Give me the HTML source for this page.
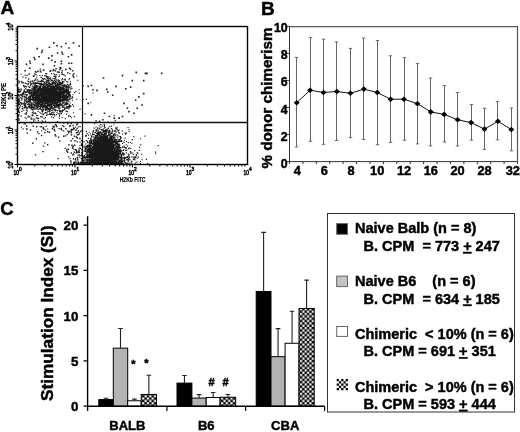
<!DOCTYPE html>
<html><head><meta charset="utf-8"><style>
html,body{margin:0;padding:0;background:#fff;width:520px;height:432px;overflow:hidden}
svg{display:block;will-change:transform}
text{stroke:#000;stroke-width:0.45px}
</style></head><body>
<svg width="520" height="432" viewBox="0 0 520 432">
<path d="M45.2 97.8h1.15v1.15h-1.15zM45.6 91.5h1.15v1.15h-1.15zM36.8 92.3h1.15v1.15h-1.15zM62.3 97.1h1.15v1.15h-1.15zM61.4 95.8h1.15v1.15h-1.15zM53.3 95.3h1.15v1.15h-1.15zM27.6 100.4h1.15v1.15h-1.15zM54.7 97.7h1.15v1.15h-1.15zM27.3 80.6h1.15v1.15h-1.15zM37.3 90.3h1.15v1.15h-1.15zM52.2 93.6h1.15v1.15h-1.15zM54.9 89.0h1.15v1.15h-1.15zM52.3 96.9h1.15v1.15h-1.15zM40.1 107.0h1.15v1.15h-1.15zM55.4 103.0h1.15v1.15h-1.15zM40.6 88.3h1.15v1.15h-1.15zM44.1 93.1h1.15v1.15h-1.15zM56.3 95.8h1.15v1.15h-1.15zM42.8 86.6h1.15v1.15h-1.15zM41.9 103.2h1.15v1.15h-1.15zM38.3 95.8h1.15v1.15h-1.15zM53.7 82.6h1.15v1.15h-1.15zM49.0 103.8h1.15v1.15h-1.15zM23.2 91.5h1.15v1.15h-1.15zM47.1 87.7h1.15v1.15h-1.15zM54.6 93.4h1.15v1.15h-1.15zM30.1 100.2h1.15v1.15h-1.15zM56.8 101.1h1.15v1.15h-1.15zM66.4 96.7h1.15v1.15h-1.15zM49.9 84.0h1.15v1.15h-1.15zM56.1 89.3h1.15v1.15h-1.15zM42.7 84.3h1.15v1.15h-1.15zM36.3 89.9h1.15v1.15h-1.15zM64.5 78.5h1.15v1.15h-1.15zM30.2 95.7h1.15v1.15h-1.15zM66.4 98.3h1.15v1.15h-1.15zM24.7 74.8h1.15v1.15h-1.15zM52.9 88.3h1.15v1.15h-1.15zM34.4 101.3h1.15v1.15h-1.15zM62.2 95.1h1.15v1.15h-1.15zM51.5 97.2h1.15v1.15h-1.15zM68.3 98.6h1.15v1.15h-1.15zM54.9 98.1h1.15v1.15h-1.15zM28.8 103.6h1.15v1.15h-1.15zM60.3 97.9h1.15v1.15h-1.15zM23.7 89.1h1.15v1.15h-1.15zM58.9 80.1h1.15v1.15h-1.15zM46.1 101.6h1.15v1.15h-1.15zM32.0 106.1h1.15v1.15h-1.15zM55.3 92.8h1.15v1.15h-1.15zM52.5 98.8h1.15v1.15h-1.15zM49.9 102.6h1.15v1.15h-1.15zM40.1 90.7h1.15v1.15h-1.15zM61.4 94.1h1.15v1.15h-1.15zM37.4 101.1h1.15v1.15h-1.15zM66.7 90.5h1.15v1.15h-1.15zM31.2 92.9h1.15v1.15h-1.15zM46.5 91.6h1.15v1.15h-1.15zM66.0 86.1h1.15v1.15h-1.15zM64.2 84.3h1.15v1.15h-1.15zM38.6 98.7h1.15v1.15h-1.15zM62.5 100.4h1.15v1.15h-1.15zM52.7 95.0h1.15v1.15h-1.15zM50.3 98.3h1.15v1.15h-1.15zM46.2 96.0h1.15v1.15h-1.15zM55.6 93.9h1.15v1.15h-1.15zM57.9 98.2h1.15v1.15h-1.15zM54.1 98.6h1.15v1.15h-1.15zM41.6 99.8h1.15v1.15h-1.15zM65.8 104.2h1.15v1.15h-1.15zM62.4 93.5h1.15v1.15h-1.15zM43.1 94.2h1.15v1.15h-1.15zM57.6 98.1h1.15v1.15h-1.15zM46.2 108.1h1.15v1.15h-1.15zM49.8 95.3h1.15v1.15h-1.15zM63.0 91.1h1.15v1.15h-1.15zM57.9 101.5h1.15v1.15h-1.15zM63.5 95.5h1.15v1.15h-1.15zM47.6 101.1h1.15v1.15h-1.15zM59.1 105.2h1.15v1.15h-1.15zM27.1 91.2h1.15v1.15h-1.15zM44.1 98.6h1.15v1.15h-1.15zM62.0 73.5h1.15v1.15h-1.15zM62.0 82.9h1.15v1.15h-1.15zM56.9 82.6h1.15v1.15h-1.15zM50.6 103.0h1.15v1.15h-1.15zM46.5 95.4h1.15v1.15h-1.15zM58.4 95.0h1.15v1.15h-1.15zM47.3 105.6h1.15v1.15h-1.15zM61.5 91.7h1.15v1.15h-1.15zM82.7 85.2h1.15v1.15h-1.15zM42.6 97.9h1.15v1.15h-1.15zM49.6 98.9h1.15v1.15h-1.15zM53.3 104.1h1.15v1.15h-1.15zM67.8 85.4h1.15v1.15h-1.15zM30.4 95.3h1.15v1.15h-1.15zM50.0 90.9h1.15v1.15h-1.15zM33.8 79.8h1.15v1.15h-1.15zM52.6 81.5h1.15v1.15h-1.15zM40.6 94.6h1.15v1.15h-1.15zM51.1 87.3h1.15v1.15h-1.15zM58.9 74.6h1.15v1.15h-1.15zM38.4 98.6h1.15v1.15h-1.15zM67.4 89.9h1.15v1.15h-1.15zM51.5 97.4h1.15v1.15h-1.15zM64.2 107.3h1.15v1.15h-1.15zM50.8 89.9h1.15v1.15h-1.15zM64.6 75.0h1.15v1.15h-1.15zM42.0 88.0h1.15v1.15h-1.15zM42.1 92.7h1.15v1.15h-1.15zM19.7 91.0h1.15v1.15h-1.15zM25.2 100.1h1.15v1.15h-1.15zM52.4 89.3h1.15v1.15h-1.15zM48.3 100.2h1.15v1.15h-1.15zM49.4 104.0h1.15v1.15h-1.15zM47.6 101.8h1.15v1.15h-1.15zM67.0 106.1h1.15v1.15h-1.15zM40.0 100.6h1.15v1.15h-1.15zM25.0 85.7h1.15v1.15h-1.15zM23.9 102.0h1.15v1.15h-1.15zM33.0 93.8h1.15v1.15h-1.15zM46.0 93.7h1.15v1.15h-1.15zM41.0 95.7h1.15v1.15h-1.15zM28.6 95.9h1.15v1.15h-1.15zM38.0 91.6h1.15v1.15h-1.15zM32.6 92.8h1.15v1.15h-1.15zM49.7 90.4h1.15v1.15h-1.15zM39.6 91.8h1.15v1.15h-1.15zM44.8 106.8h1.15v1.15h-1.15zM32.4 93.4h1.15v1.15h-1.15zM50.1 77.2h1.15v1.15h-1.15zM32.3 97.6h1.15v1.15h-1.15zM33.4 93.6h1.15v1.15h-1.15zM43.6 86.1h1.15v1.15h-1.15zM34.5 92.1h1.15v1.15h-1.15zM66.5 89.7h1.15v1.15h-1.15zM69.7 81.2h1.15v1.15h-1.15zM47.4 103.6h1.15v1.15h-1.15zM58.1 99.6h1.15v1.15h-1.15zM56.7 96.4h1.15v1.15h-1.15zM65.1 98.9h1.15v1.15h-1.15zM54.0 78.1h1.15v1.15h-1.15zM59.6 103.9h1.15v1.15h-1.15zM44.7 90.3h1.15v1.15h-1.15zM60.4 91.6h1.15v1.15h-1.15zM18.4 95.7h1.15v1.15h-1.15zM55.4 100.8h1.15v1.15h-1.15zM37.1 93.2h1.15v1.15h-1.15zM52.1 100.2h1.15v1.15h-1.15zM48.0 92.4h1.15v1.15h-1.15zM35.7 91.2h1.15v1.15h-1.15zM59.5 94.7h1.15v1.15h-1.15zM37.7 87.5h1.15v1.15h-1.15zM54.2 93.3h1.15v1.15h-1.15zM48.1 96.0h1.15v1.15h-1.15zM50.2 88.0h1.15v1.15h-1.15zM57.4 99.7h1.15v1.15h-1.15zM68.0 86.5h1.15v1.15h-1.15zM48.0 98.2h1.15v1.15h-1.15zM62.6 89.1h1.15v1.15h-1.15zM46.7 90.8h1.15v1.15h-1.15zM66.3 98.0h1.15v1.15h-1.15zM44.1 95.2h1.15v1.15h-1.15zM64.8 89.8h1.15v1.15h-1.15zM50.1 90.9h1.15v1.15h-1.15zM51.3 91.7h1.15v1.15h-1.15zM57.3 87.6h1.15v1.15h-1.15zM40.0 102.1h1.15v1.15h-1.15zM57.2 91.2h1.15v1.15h-1.15zM58.9 100.6h1.15v1.15h-1.15zM48.8 97.5h1.15v1.15h-1.15zM50.5 96.0h1.15v1.15h-1.15zM51.6 100.2h1.15v1.15h-1.15zM41.3 106.0h1.15v1.15h-1.15zM44.7 102.6h1.15v1.15h-1.15zM53.5 100.2h1.15v1.15h-1.15zM57.8 94.6h1.15v1.15h-1.15zM68.6 95.1h1.15v1.15h-1.15zM40.7 92.3h1.15v1.15h-1.15zM19.6 96.7h1.15v1.15h-1.15zM66.5 102.6h1.15v1.15h-1.15zM35.1 97.6h1.15v1.15h-1.15zM54.7 87.4h1.15v1.15h-1.15zM29.3 93.4h1.15v1.15h-1.15zM59.8 93.1h1.15v1.15h-1.15zM58.1 83.6h1.15v1.15h-1.15zM40.0 88.1h1.15v1.15h-1.15zM46.0 96.0h1.15v1.15h-1.15zM51.7 96.0h1.15v1.15h-1.15zM47.9 88.1h1.15v1.15h-1.15zM51.1 96.6h1.15v1.15h-1.15zM62.1 81.0h1.15v1.15h-1.15zM43.5 88.5h1.15v1.15h-1.15zM48.9 100.2h1.15v1.15h-1.15zM41.3 95.0h1.15v1.15h-1.15zM39.2 95.9h1.15v1.15h-1.15zM49.5 113.6h1.15v1.15h-1.15zM44.1 100.5h1.15v1.15h-1.15zM60.7 94.0h1.15v1.15h-1.15zM33.8 95.3h1.15v1.15h-1.15zM52.9 102.5h1.15v1.15h-1.15zM58.2 94.1h1.15v1.15h-1.15zM59.1 98.0h1.15v1.15h-1.15zM51.0 94.3h1.15v1.15h-1.15zM45.4 99.1h1.15v1.15h-1.15zM35.2 89.1h1.15v1.15h-1.15zM48.5 82.8h1.15v1.15h-1.15zM43.0 78.6h1.15v1.15h-1.15zM39.9 98.2h1.15v1.15h-1.15zM55.5 93.5h1.15v1.15h-1.15zM45.5 83.1h1.15v1.15h-1.15zM71.2 97.8h1.15v1.15h-1.15zM34.2 85.0h1.15v1.15h-1.15zM51.0 90.1h1.15v1.15h-1.15zM33.8 92.6h1.15v1.15h-1.15zM59.9 82.1h1.15v1.15h-1.15zM56.0 85.0h1.15v1.15h-1.15zM63.2 86.7h1.15v1.15h-1.15zM45.2 88.8h1.15v1.15h-1.15zM55.0 94.7h1.15v1.15h-1.15zM44.6 96.6h1.15v1.15h-1.15zM56.6 85.6h1.15v1.15h-1.15zM36.2 86.2h1.15v1.15h-1.15zM42.3 85.9h1.15v1.15h-1.15zM32.9 93.7h1.15v1.15h-1.15zM45.9 91.5h1.15v1.15h-1.15zM47.6 88.1h1.15v1.15h-1.15zM57.2 96.6h1.15v1.15h-1.15zM47.3 88.8h1.15v1.15h-1.15zM46.2 73.2h1.15v1.15h-1.15zM36.1 94.2h1.15v1.15h-1.15zM29.6 95.4h1.15v1.15h-1.15zM50.2 83.4h1.15v1.15h-1.15zM45.3 91.5h1.15v1.15h-1.15zM54.1 98.6h1.15v1.15h-1.15zM47.9 87.4h1.15v1.15h-1.15zM46.6 93.4h1.15v1.15h-1.15zM57.6 96.1h1.15v1.15h-1.15zM39.4 83.6h1.15v1.15h-1.15zM43.7 88.3h1.15v1.15h-1.15zM34.5 93.0h1.15v1.15h-1.15zM42.3 94.7h1.15v1.15h-1.15zM54.9 90.8h1.15v1.15h-1.15zM26.0 97.5h1.15v1.15h-1.15zM61.8 92.2h1.15v1.15h-1.15zM47.4 99.1h1.15v1.15h-1.15zM56.5 92.1h1.15v1.15h-1.15zM42.4 91.8h1.15v1.15h-1.15zM17.9 91.1h1.15v1.15h-1.15zM64.0 104.3h1.15v1.15h-1.15zM22.3 93.0h1.15v1.15h-1.15zM45.8 88.6h1.15v1.15h-1.15zM59.9 88.6h1.15v1.15h-1.15zM49.4 94.0h1.15v1.15h-1.15zM34.7 94.3h1.15v1.15h-1.15zM46.2 97.9h1.15v1.15h-1.15zM42.3 99.4h1.15v1.15h-1.15zM48.8 93.5h1.15v1.15h-1.15zM48.5 79.4h1.15v1.15h-1.15zM69.2 105.8h1.15v1.15h-1.15zM42.2 78.0h1.15v1.15h-1.15zM45.4 101.0h1.15v1.15h-1.15zM18.2 111.3h1.15v1.15h-1.15zM39.9 100.1h1.15v1.15h-1.15zM47.8 96.3h1.15v1.15h-1.15zM67.4 102.5h1.15v1.15h-1.15zM41.9 111.3h1.15v1.15h-1.15zM48.4 99.9h1.15v1.15h-1.15zM40.3 93.6h1.15v1.15h-1.15zM26.5 107.5h1.15v1.15h-1.15zM65.5 84.7h1.15v1.15h-1.15zM29.6 81.6h1.15v1.15h-1.15zM63.1 90.4h1.15v1.15h-1.15zM47.6 91.5h1.15v1.15h-1.15zM46.9 85.6h1.15v1.15h-1.15zM48.7 83.0h1.15v1.15h-1.15zM47.5 96.2h1.15v1.15h-1.15zM54.2 92.1h1.15v1.15h-1.15zM37.1 95.1h1.15v1.15h-1.15zM42.3 105.8h1.15v1.15h-1.15zM58.0 93.0h1.15v1.15h-1.15zM42.5 88.6h1.15v1.15h-1.15zM36.7 91.2h1.15v1.15h-1.15zM52.1 97.8h1.15v1.15h-1.15zM55.5 109.8h1.15v1.15h-1.15zM39.6 94.0h1.15v1.15h-1.15zM53.6 97.7h1.15v1.15h-1.15zM58.0 97.7h1.15v1.15h-1.15zM56.2 96.9h1.15v1.15h-1.15zM47.5 103.8h1.15v1.15h-1.15zM64.2 85.7h1.15v1.15h-1.15zM37.4 98.0h1.15v1.15h-1.15zM36.4 92.8h1.15v1.15h-1.15zM46.0 96.2h1.15v1.15h-1.15zM42.8 113.5h1.15v1.15h-1.15zM58.8 100.3h1.15v1.15h-1.15zM31.3 82.9h1.15v1.15h-1.15zM50.5 99.8h1.15v1.15h-1.15zM48.5 101.6h1.15v1.15h-1.15zM19.2 100.2h1.15v1.15h-1.15zM63.2 81.3h1.15v1.15h-1.15zM51.6 94.2h1.15v1.15h-1.15zM41.7 78.3h1.15v1.15h-1.15zM32.0 95.6h1.15v1.15h-1.15zM60.9 93.9h1.15v1.15h-1.15zM69.3 87.6h1.15v1.15h-1.15zM69.0 77.9h1.15v1.15h-1.15zM48.5 97.6h1.15v1.15h-1.15zM57.0 101.5h1.15v1.15h-1.15zM36.1 77.4h1.15v1.15h-1.15zM45.2 83.1h1.15v1.15h-1.15zM49.7 85.5h1.15v1.15h-1.15zM45.0 93.2h1.15v1.15h-1.15zM50.2 88.5h1.15v1.15h-1.15zM64.2 88.6h1.15v1.15h-1.15zM46.2 97.7h1.15v1.15h-1.15zM48.2 104.7h1.15v1.15h-1.15zM46.5 90.4h1.15v1.15h-1.15zM62.2 97.9h1.15v1.15h-1.15zM37.7 90.2h1.15v1.15h-1.15zM51.2 104.1h1.15v1.15h-1.15zM59.0 94.3h1.15v1.15h-1.15zM17.8 98.6h1.15v1.15h-1.15zM32.5 81.5h1.15v1.15h-1.15zM39.4 94.8h1.15v1.15h-1.15zM49.0 113.2h1.15v1.15h-1.15zM45.4 87.6h1.15v1.15h-1.15zM62.9 95.1h1.15v1.15h-1.15zM42.4 86.8h1.15v1.15h-1.15zM47.6 105.2h1.15v1.15h-1.15zM56.4 91.4h1.15v1.15h-1.15zM59.5 95.4h1.15v1.15h-1.15zM31.8 99.4h1.15v1.15h-1.15zM55.6 106.8h1.15v1.15h-1.15zM47.4 84.9h1.15v1.15h-1.15zM57.6 113.2h1.15v1.15h-1.15zM39.6 106.9h1.15v1.15h-1.15zM49.5 99.2h1.15v1.15h-1.15zM49.1 87.6h1.15v1.15h-1.15zM62.4 91.3h1.15v1.15h-1.15zM51.8 98.9h1.15v1.15h-1.15zM32.4 99.5h1.15v1.15h-1.15zM55.1 92.5h1.15v1.15h-1.15zM41.6 97.2h1.15v1.15h-1.15zM55.2 93.2h1.15v1.15h-1.15zM52.6 94.8h1.15v1.15h-1.15zM27.5 104.0h1.15v1.15h-1.15zM63.5 85.7h1.15v1.15h-1.15zM59.9 110.3h1.15v1.15h-1.15zM48.3 92.0h1.15v1.15h-1.15zM42.2 87.5h1.15v1.15h-1.15zM40.5 98.8h1.15v1.15h-1.15zM48.9 94.4h1.15v1.15h-1.15zM46.2 100.8h1.15v1.15h-1.15zM54.6 92.8h1.15v1.15h-1.15zM56.7 92.7h1.15v1.15h-1.15zM34.0 105.0h1.15v1.15h-1.15zM54.2 86.6h1.15v1.15h-1.15zM61.9 96.5h1.15v1.15h-1.15zM28.8 106.1h1.15v1.15h-1.15zM52.6 100.7h1.15v1.15h-1.15zM50.9 92.8h1.15v1.15h-1.15zM29.0 101.3h1.15v1.15h-1.15zM48.8 91.7h1.15v1.15h-1.15zM52.8 94.5h1.15v1.15h-1.15zM56.8 91.1h1.15v1.15h-1.15zM47.9 77.6h1.15v1.15h-1.15zM43.1 99.0h1.15v1.15h-1.15zM65.1 91.1h1.15v1.15h-1.15zM46.9 105.9h1.15v1.15h-1.15zM44.3 99.5h1.15v1.15h-1.15zM69.4 94.2h1.15v1.15h-1.15zM63.7 88.5h1.15v1.15h-1.15zM51.0 93.3h1.15v1.15h-1.15zM49.8 102.5h1.15v1.15h-1.15zM48.3 102.0h1.15v1.15h-1.15zM19.7 94.6h1.15v1.15h-1.15zM57.6 106.4h1.15v1.15h-1.15zM46.7 79.8h1.15v1.15h-1.15zM50.8 83.6h1.15v1.15h-1.15zM43.2 99.8h1.15v1.15h-1.15zM34.3 104.0h1.15v1.15h-1.15zM55.7 96.3h1.15v1.15h-1.15zM48.6 88.2h1.15v1.15h-1.15zM51.4 94.7h1.15v1.15h-1.15zM37.9 91.7h1.15v1.15h-1.15zM74.1 92.0h1.15v1.15h-1.15zM47.9 97.1h1.15v1.15h-1.15zM60.5 99.0h1.15v1.15h-1.15zM45.0 85.9h1.15v1.15h-1.15zM49.7 101.8h1.15v1.15h-1.15zM34.8 86.1h1.15v1.15h-1.15zM48.1 79.2h1.15v1.15h-1.15zM45.1 90.6h1.15v1.15h-1.15zM54.0 88.6h1.15v1.15h-1.15zM37.4 90.9h1.15v1.15h-1.15zM47.8 88.8h1.15v1.15h-1.15zM48.6 99.6h1.15v1.15h-1.15zM63.2 106.9h1.15v1.15h-1.15zM38.6 90.7h1.15v1.15h-1.15zM18.1 108.3h1.15v1.15h-1.15zM51.1 107.6h1.15v1.15h-1.15zM26.5 74.8h1.15v1.15h-1.15zM59.8 99.1h1.15v1.15h-1.15zM58.5 80.7h1.15v1.15h-1.15zM51.5 92.8h1.15v1.15h-1.15zM46.7 97.6h1.15v1.15h-1.15zM60.8 112.9h1.15v1.15h-1.15zM23.4 85.1h1.15v1.15h-1.15zM31.0 104.9h1.15v1.15h-1.15zM39.2 95.8h1.15v1.15h-1.15zM53.6 75.8h1.15v1.15h-1.15zM61.6 100.2h1.15v1.15h-1.15zM42.0 90.3h1.15v1.15h-1.15zM43.7 97.0h1.15v1.15h-1.15zM51.1 99.5h1.15v1.15h-1.15zM33.7 87.4h1.15v1.15h-1.15zM48.9 95.0h1.15v1.15h-1.15zM39.6 104.0h1.15v1.15h-1.15zM52.7 99.9h1.15v1.15h-1.15zM54.8 106.9h1.15v1.15h-1.15zM44.1 93.1h1.15v1.15h-1.15zM58.5 98.4h1.15v1.15h-1.15zM31.4 90.5h1.15v1.15h-1.15zM54.7 96.4h1.15v1.15h-1.15zM44.1 86.6h1.15v1.15h-1.15zM46.2 100.3h1.15v1.15h-1.15zM58.8 92.0h1.15v1.15h-1.15zM37.7 91.0h1.15v1.15h-1.15zM26.8 101.5h1.15v1.15h-1.15zM60.3 93.7h1.15v1.15h-1.15zM55.0 105.5h1.15v1.15h-1.15zM48.8 94.7h1.15v1.15h-1.15zM59.1 89.3h1.15v1.15h-1.15zM53.9 86.9h1.15v1.15h-1.15zM58.7 88.2h1.15v1.15h-1.15zM49.5 95.0h1.15v1.15h-1.15zM31.4 90.4h1.15v1.15h-1.15zM53.0 92.1h1.15v1.15h-1.15zM39.7 88.8h1.15v1.15h-1.15zM41.4 93.8h1.15v1.15h-1.15zM45.2 102.9h1.15v1.15h-1.15zM53.8 92.3h1.15v1.15h-1.15zM25.8 94.7h1.15v1.15h-1.15zM56.5 92.9h1.15v1.15h-1.15zM69.3 106.9h1.15v1.15h-1.15zM62.6 92.6h1.15v1.15h-1.15zM62.7 87.9h1.15v1.15h-1.15zM51.7 89.9h1.15v1.15h-1.15zM50.4 88.6h1.15v1.15h-1.15zM28.4 102.2h1.15v1.15h-1.15zM52.2 89.7h1.15v1.15h-1.15zM50.9 101.4h1.15v1.15h-1.15zM36.2 93.1h1.15v1.15h-1.15zM55.1 97.9h1.15v1.15h-1.15zM44.2 77.9h1.15v1.15h-1.15zM63.9 96.4h1.15v1.15h-1.15zM48.6 91.8h1.15v1.15h-1.15zM51.7 90.7h1.15v1.15h-1.15zM35.6 88.3h1.15v1.15h-1.15zM40.9 89.2h1.15v1.15h-1.15zM33.9 98.7h1.15v1.15h-1.15zM32.0 98.9h1.15v1.15h-1.15zM35.7 96.6h1.15v1.15h-1.15zM65.6 95.4h1.15v1.15h-1.15zM39.3 94.3h1.15v1.15h-1.15zM50.3 80.7h1.15v1.15h-1.15zM40.8 95.1h1.15v1.15h-1.15zM42.5 94.5h1.15v1.15h-1.15zM57.6 99.7h1.15v1.15h-1.15zM59.7 98.4h1.15v1.15h-1.15zM44.8 93.8h1.15v1.15h-1.15zM45.0 91.5h1.15v1.15h-1.15zM46.2 80.8h1.15v1.15h-1.15zM44.2 93.7h1.15v1.15h-1.15zM36.2 93.7h1.15v1.15h-1.15zM54.8 92.7h1.15v1.15h-1.15zM51.7 89.3h1.15v1.15h-1.15zM62.8 92.9h1.15v1.15h-1.15zM55.3 76.9h1.15v1.15h-1.15zM59.1 96.7h1.15v1.15h-1.15zM48.7 89.4h1.15v1.15h-1.15zM56.4 90.2h1.15v1.15h-1.15zM51.2 90.0h1.15v1.15h-1.15zM20.3 93.7h1.15v1.15h-1.15zM50.9 99.6h1.15v1.15h-1.15zM37.4 93.6h1.15v1.15h-1.15zM56.1 95.0h1.15v1.15h-1.15zM63.9 109.0h1.15v1.15h-1.15zM37.0 79.3h1.15v1.15h-1.15zM59.1 105.5h1.15v1.15h-1.15zM59.9 100.1h1.15v1.15h-1.15zM40.7 88.5h1.15v1.15h-1.15zM59.5 87.0h1.15v1.15h-1.15zM25.7 86.3h1.15v1.15h-1.15zM30.8 102.3h1.15v1.15h-1.15zM44.9 117.0h1.15v1.15h-1.15zM38.0 90.5h1.15v1.15h-1.15zM49.6 85.7h1.15v1.15h-1.15zM57.6 105.1h1.15v1.15h-1.15zM25.3 77.1h1.15v1.15h-1.15zM32.6 88.1h1.15v1.15h-1.15zM48.1 94.3h1.15v1.15h-1.15zM55.4 94.8h1.15v1.15h-1.15zM38.5 88.5h1.15v1.15h-1.15zM21.9 92.6h1.15v1.15h-1.15zM54.5 97.9h1.15v1.15h-1.15zM46.9 92.6h1.15v1.15h-1.15zM60.1 94.0h1.15v1.15h-1.15zM57.6 98.3h1.15v1.15h-1.15zM51.1 103.8h1.15v1.15h-1.15zM41.2 91.2h1.15v1.15h-1.15zM38.3 87.8h1.15v1.15h-1.15zM67.8 107.3h1.15v1.15h-1.15zM48.7 98.2h1.15v1.15h-1.15zM63.1 100.0h1.15v1.15h-1.15zM63.5 84.3h1.15v1.15h-1.15zM40.4 97.3h1.15v1.15h-1.15zM66.3 94.7h1.15v1.15h-1.15zM37.7 91.2h1.15v1.15h-1.15zM40.1 87.4h1.15v1.15h-1.15zM67.2 89.1h1.15v1.15h-1.15zM48.7 110.3h1.15v1.15h-1.15zM63.2 96.5h1.15v1.15h-1.15zM40.8 97.0h1.15v1.15h-1.15zM68.7 98.6h1.15v1.15h-1.15zM64.2 94.6h1.15v1.15h-1.15zM54.9 92.4h1.15v1.15h-1.15zM53.7 103.8h1.15v1.15h-1.15zM30.5 93.4h1.15v1.15h-1.15zM51.4 89.6h1.15v1.15h-1.15zM44.5 99.9h1.15v1.15h-1.15zM48.1 93.1h1.15v1.15h-1.15zM60.0 83.5h1.15v1.15h-1.15zM28.3 96.6h1.15v1.15h-1.15zM39.8 95.5h1.15v1.15h-1.15zM55.6 97.3h1.15v1.15h-1.15zM59.4 95.6h1.15v1.15h-1.15zM48.4 82.2h1.15v1.15h-1.15zM59.5 84.0h1.15v1.15h-1.15zM46.8 103.5h1.15v1.15h-1.15zM28.1 99.1h1.15v1.15h-1.15zM38.7 93.0h1.15v1.15h-1.15zM28.1 78.6h1.15v1.15h-1.15zM53.7 109.2h1.15v1.15h-1.15zM58.1 94.5h1.15v1.15h-1.15zM50.2 106.4h1.15v1.15h-1.15zM67.9 89.6h1.15v1.15h-1.15zM36.4 107.8h1.15v1.15h-1.15zM44.0 98.8h1.15v1.15h-1.15zM63.2 88.0h1.15v1.15h-1.15zM41.9 83.4h1.15v1.15h-1.15zM62.4 92.8h1.15v1.15h-1.15zM58.7 84.0h1.15v1.15h-1.15zM56.8 87.5h1.15v1.15h-1.15zM45.8 84.1h1.15v1.15h-1.15zM45.3 98.8h1.15v1.15h-1.15zM44.8 91.8h1.15v1.15h-1.15zM54.3 91.6h1.15v1.15h-1.15zM54.3 94.5h1.15v1.15h-1.15zM58.8 90.9h1.15v1.15h-1.15zM50.3 95.3h1.15v1.15h-1.15zM66.9 96.9h1.15v1.15h-1.15zM35.5 85.1h1.15v1.15h-1.15zM48.0 91.1h1.15v1.15h-1.15zM38.4 90.0h1.15v1.15h-1.15zM57.9 81.1h1.15v1.15h-1.15zM52.0 92.1h1.15v1.15h-1.15zM67.1 81.5h1.15v1.15h-1.15zM54.0 92.7h1.15v1.15h-1.15zM50.1 97.5h1.15v1.15h-1.15zM72.1 97.1h1.15v1.15h-1.15zM32.9 83.3h1.15v1.15h-1.15zM41.4 89.3h1.15v1.15h-1.15zM53.0 95.9h1.15v1.15h-1.15zM48.8 88.8h1.15v1.15h-1.15zM42.9 101.1h1.15v1.15h-1.15zM57.9 94.7h1.15v1.15h-1.15zM44.4 105.7h1.15v1.15h-1.15zM41.0 98.8h1.15v1.15h-1.15zM62.8 91.9h1.15v1.15h-1.15zM58.7 85.4h1.15v1.15h-1.15zM61.1 95.4h1.15v1.15h-1.15zM28.6 99.0h1.15v1.15h-1.15zM37.2 103.6h1.15v1.15h-1.15zM39.9 92.6h1.15v1.15h-1.15zM51.9 91.4h1.15v1.15h-1.15zM51.6 89.7h1.15v1.15h-1.15zM56.8 93.9h1.15v1.15h-1.15zM51.0 73.0h1.15v1.15h-1.15zM62.9 94.1h1.15v1.15h-1.15zM26.1 94.6h1.15v1.15h-1.15zM54.2 102.0h1.15v1.15h-1.15zM34.9 105.7h1.15v1.15h-1.15zM46.4 112.1h1.15v1.15h-1.15zM46.6 99.1h1.15v1.15h-1.15zM43.8 85.4h1.15v1.15h-1.15zM62.1 100.8h1.15v1.15h-1.15zM67.6 100.4h1.15v1.15h-1.15zM41.2 81.3h1.15v1.15h-1.15zM40.3 88.8h1.15v1.15h-1.15zM38.2 98.3h1.15v1.15h-1.15zM52.5 91.8h1.15v1.15h-1.15zM50.6 92.8h1.15v1.15h-1.15zM51.1 99.6h1.15v1.15h-1.15zM60.4 88.7h1.15v1.15h-1.15zM29.6 104.7h1.15v1.15h-1.15zM49.8 102.3h1.15v1.15h-1.15zM27.9 91.4h1.15v1.15h-1.15zM48.7 82.9h1.15v1.15h-1.15zM42.0 99.4h1.15v1.15h-1.15zM61.9 106.0h1.15v1.15h-1.15zM37.6 83.2h1.15v1.15h-1.15zM54.9 101.0h1.15v1.15h-1.15zM50.8 84.0h1.15v1.15h-1.15zM58.2 99.9h1.15v1.15h-1.15zM55.3 90.2h1.15v1.15h-1.15zM52.2 99.9h1.15v1.15h-1.15zM41.4 79.9h1.15v1.15h-1.15zM52.5 97.6h1.15v1.15h-1.15zM48.6 100.7h1.15v1.15h-1.15zM41.1 93.3h1.15v1.15h-1.15zM44.6 98.2h1.15v1.15h-1.15zM68.3 92.0h1.15v1.15h-1.15zM21.6 108.4h1.15v1.15h-1.15zM54.1 82.0h1.15v1.15h-1.15zM40.8 95.9h1.15v1.15h-1.15zM44.6 91.1h1.15v1.15h-1.15zM51.7 101.2h1.15v1.15h-1.15zM60.7 95.5h1.15v1.15h-1.15zM53.3 82.6h1.15v1.15h-1.15zM30.7 93.9h1.15v1.15h-1.15zM41.7 94.9h1.15v1.15h-1.15zM38.3 89.2h1.15v1.15h-1.15zM46.8 77.3h1.15v1.15h-1.15zM33.6 98.1h1.15v1.15h-1.15zM48.3 86.0h1.15v1.15h-1.15zM51.1 106.0h1.15v1.15h-1.15zM64.1 84.9h1.15v1.15h-1.15zM40.9 79.8h1.15v1.15h-1.15zM40.7 84.1h1.15v1.15h-1.15zM38.0 95.8h1.15v1.15h-1.15zM44.5 91.4h1.15v1.15h-1.15zM29.3 100.3h1.15v1.15h-1.15zM44.4 83.5h1.15v1.15h-1.15zM48.4 101.9h1.15v1.15h-1.15zM31.7 96.8h1.15v1.15h-1.15zM32.6 100.0h1.15v1.15h-1.15zM55.6 91.8h1.15v1.15h-1.15zM36.1 83.0h1.15v1.15h-1.15zM37.3 99.6h1.15v1.15h-1.15zM51.8 93.6h1.15v1.15h-1.15zM41.3 92.7h1.15v1.15h-1.15zM54.3 76.2h1.15v1.15h-1.15zM42.7 93.5h1.15v1.15h-1.15zM34.5 89.6h1.15v1.15h-1.15zM45.3 85.0h1.15v1.15h-1.15zM33.3 82.9h1.15v1.15h-1.15zM35.7 92.8h1.15v1.15h-1.15zM56.5 92.2h1.15v1.15h-1.15zM43.4 86.9h1.15v1.15h-1.15zM48.9 90.0h1.15v1.15h-1.15zM60.1 93.2h1.15v1.15h-1.15zM57.8 96.0h1.15v1.15h-1.15zM46.7 94.6h1.15v1.15h-1.15zM37.0 97.8h1.15v1.15h-1.15zM44.7 87.2h1.15v1.15h-1.15zM47.6 99.3h1.15v1.15h-1.15zM46.8 75.9h1.15v1.15h-1.15zM39.7 93.0h1.15v1.15h-1.15zM52.4 86.7h1.15v1.15h-1.15zM50.0 97.8h1.15v1.15h-1.15zM52.2 80.3h1.15v1.15h-1.15zM39.1 87.5h1.15v1.15h-1.15zM40.1 91.8h1.15v1.15h-1.15zM59.8 92.3h1.15v1.15h-1.15zM33.5 83.1h1.15v1.15h-1.15zM54.1 86.1h1.15v1.15h-1.15zM44.1 103.1h1.15v1.15h-1.15zM65.1 104.1h1.15v1.15h-1.15zM33.5 105.6h1.15v1.15h-1.15zM47.1 101.2h1.15v1.15h-1.15zM48.1 101.9h1.15v1.15h-1.15zM48.8 94.4h1.15v1.15h-1.15zM46.6 87.8h1.15v1.15h-1.15zM48.7 100.3h1.15v1.15h-1.15zM35.3 94.9h1.15v1.15h-1.15zM36.5 85.4h1.15v1.15h-1.15zM29.8 107.2h1.15v1.15h-1.15zM51.0 91.8h1.15v1.15h-1.15zM61.2 79.3h1.15v1.15h-1.15zM49.9 89.8h1.15v1.15h-1.15zM57.1 84.5h1.15v1.15h-1.15zM50.3 94.0h1.15v1.15h-1.15zM65.8 90.6h1.15v1.15h-1.15zM48.4 97.4h1.15v1.15h-1.15zM54.1 98.2h1.15v1.15h-1.15zM50.3 87.0h1.15v1.15h-1.15zM63.9 107.4h1.15v1.15h-1.15zM50.4 89.4h1.15v1.15h-1.15zM61.7 87.3h1.15v1.15h-1.15zM52.0 82.8h1.15v1.15h-1.15zM65.7 85.6h1.15v1.15h-1.15zM52.8 89.6h1.15v1.15h-1.15zM43.0 85.1h1.15v1.15h-1.15zM47.7 85.7h1.15v1.15h-1.15zM60.2 87.4h1.15v1.15h-1.15zM47.6 99.4h1.15v1.15h-1.15zM57.7 100.7h1.15v1.15h-1.15zM61.5 97.0h1.15v1.15h-1.15zM57.4 100.9h1.15v1.15h-1.15zM32.8 94.0h1.15v1.15h-1.15zM49.3 93.2h1.15v1.15h-1.15zM56.0 86.7h1.15v1.15h-1.15zM31.3 89.6h1.15v1.15h-1.15zM54.9 87.7h1.15v1.15h-1.15zM20.7 103.3h1.15v1.15h-1.15zM64.2 98.8h1.15v1.15h-1.15zM46.4 92.5h1.15v1.15h-1.15zM33.8 86.6h1.15v1.15h-1.15zM58.6 91.1h1.15v1.15h-1.15zM63.2 92.9h1.15v1.15h-1.15zM21.8 95.5h1.15v1.15h-1.15zM67.8 96.5h1.15v1.15h-1.15zM40.4 89.0h1.15v1.15h-1.15zM56.1 88.4h1.15v1.15h-1.15zM33.3 95.4h1.15v1.15h-1.15zM49.5 88.7h1.15v1.15h-1.15zM36.4 97.1h1.15v1.15h-1.15zM26.3 89.2h1.15v1.15h-1.15zM42.2 107.6h1.15v1.15h-1.15zM36.2 99.0h1.15v1.15h-1.15zM46.4 102.8h1.15v1.15h-1.15zM66.4 92.2h1.15v1.15h-1.15zM51.3 87.3h1.15v1.15h-1.15zM44.1 99.7h1.15v1.15h-1.15zM33.2 88.3h1.15v1.15h-1.15zM49.2 91.8h1.15v1.15h-1.15zM44.0 78.3h1.15v1.15h-1.15zM44.6 93.2h1.15v1.15h-1.15zM48.0 94.7h1.15v1.15h-1.15zM58.8 109.8h1.15v1.15h-1.15zM34.2 86.9h1.15v1.15h-1.15zM55.1 77.7h1.15v1.15h-1.15zM35.2 87.1h1.15v1.15h-1.15zM34.9 85.5h1.15v1.15h-1.15zM32.9 87.4h1.15v1.15h-1.15zM52.7 104.9h1.15v1.15h-1.15zM27.9 97.3h1.15v1.15h-1.15zM54.8 96.8h1.15v1.15h-1.15zM69.4 96.9h1.15v1.15h-1.15zM64.1 88.2h1.15v1.15h-1.15zM32.6 104.3h1.15v1.15h-1.15zM52.1 84.4h1.15v1.15h-1.15zM47.9 100.3h1.15v1.15h-1.15zM38.7 97.0h1.15v1.15h-1.15zM32.2 98.5h1.15v1.15h-1.15zM52.2 92.9h1.15v1.15h-1.15zM45.2 93.0h1.15v1.15h-1.15zM65.1 103.3h1.15v1.15h-1.15zM23.5 86.1h1.15v1.15h-1.15zM46.4 94.3h1.15v1.15h-1.15zM35.7 100.5h1.15v1.15h-1.15zM43.5 95.7h1.15v1.15h-1.15zM43.1 89.8h1.15v1.15h-1.15zM49.7 95.0h1.15v1.15h-1.15zM67.4 94.2h1.15v1.15h-1.15zM52.9 91.0h1.15v1.15h-1.15zM68.2 95.3h1.15v1.15h-1.15zM49.4 106.2h1.15v1.15h-1.15zM49.9 96.2h1.15v1.15h-1.15zM51.4 82.0h1.15v1.15h-1.15zM60.8 84.2h1.15v1.15h-1.15zM63.6 99.3h1.15v1.15h-1.15zM44.9 85.7h1.15v1.15h-1.15zM57.1 91.5h1.15v1.15h-1.15zM67.8 91.2h1.15v1.15h-1.15zM50.5 94.0h1.15v1.15h-1.15zM34.9 82.5h1.15v1.15h-1.15zM57.9 97.0h1.15v1.15h-1.15zM47.4 89.4h1.15v1.15h-1.15zM57.7 87.2h1.15v1.15h-1.15zM59.5 96.6h1.15v1.15h-1.15zM36.4 90.2h1.15v1.15h-1.15zM45.3 90.1h1.15v1.15h-1.15zM51.9 87.0h1.15v1.15h-1.15zM37.6 85.4h1.15v1.15h-1.15zM37.7 97.6h1.15v1.15h-1.15zM55.2 76.1h1.15v1.15h-1.15zM51.9 84.3h1.15v1.15h-1.15zM47.2 96.5h1.15v1.15h-1.15zM67.6 92.0h1.15v1.15h-1.15zM53.6 87.9h1.15v1.15h-1.15zM21.3 81.0h1.15v1.15h-1.15zM56.7 84.9h1.15v1.15h-1.15zM43.6 101.4h1.15v1.15h-1.15zM57.7 89.1h1.15v1.15h-1.15zM41.6 84.4h1.15v1.15h-1.15zM66.4 85.5h1.15v1.15h-1.15zM48.2 94.3h1.15v1.15h-1.15zM47.3 101.8h1.15v1.15h-1.15zM28.7 86.7h1.15v1.15h-1.15zM51.2 92.4h1.15v1.15h-1.15zM59.8 81.9h1.15v1.15h-1.15zM59.3 86.6h1.15v1.15h-1.15zM44.8 108.6h1.15v1.15h-1.15zM55.1 83.1h1.15v1.15h-1.15zM58.3 90.3h1.15v1.15h-1.15zM62.1 98.8h1.15v1.15h-1.15zM50.9 89.0h1.15v1.15h-1.15zM48.4 76.3h1.15v1.15h-1.15zM50.1 104.2h1.15v1.15h-1.15zM42.3 86.3h1.15v1.15h-1.15zM51.0 99.5h1.15v1.15h-1.15zM48.6 80.4h1.15v1.15h-1.15zM43.2 94.7h1.15v1.15h-1.15zM55.9 81.6h1.15v1.15h-1.15zM50.2 103.8h1.15v1.15h-1.15zM69.1 84.4h1.15v1.15h-1.15zM34.3 92.7h1.15v1.15h-1.15zM41.5 91.3h1.15v1.15h-1.15zM51.2 98.4h1.15v1.15h-1.15zM44.8 87.0h1.15v1.15h-1.15zM36.7 90.9h1.15v1.15h-1.15zM41.3 93.4h1.15v1.15h-1.15zM62.3 100.6h1.15v1.15h-1.15zM50.1 89.6h1.15v1.15h-1.15zM39.0 89.9h1.15v1.15h-1.15zM45.9 93.7h1.15v1.15h-1.15zM85.7 98.8h1.15v1.15h-1.15zM32.3 94.7h1.15v1.15h-1.15zM46.8 107.1h1.15v1.15h-1.15zM21.4 102.2h1.15v1.15h-1.15zM50.9 79.9h1.15v1.15h-1.15zM57.7 92.6h1.15v1.15h-1.15zM56.5 95.1h1.15v1.15h-1.15zM50.6 96.8h1.15v1.15h-1.15zM63.5 97.0h1.15v1.15h-1.15zM57.9 87.8h1.15v1.15h-1.15zM38.1 89.5h1.15v1.15h-1.15zM32.0 89.6h1.15v1.15h-1.15zM66.3 90.8h1.15v1.15h-1.15zM37.7 99.1h1.15v1.15h-1.15zM65.8 110.6h1.15v1.15h-1.15zM57.2 93.6h1.15v1.15h-1.15zM57.7 95.3h1.15v1.15h-1.15zM32.3 107.1h1.15v1.15h-1.15zM68.1 85.7h1.15v1.15h-1.15zM69.4 97.8h1.15v1.15h-1.15zM43.9 83.3h1.15v1.15h-1.15zM52.6 93.7h1.15v1.15h-1.15zM61.3 104.0h1.15v1.15h-1.15zM65.8 89.7h1.15v1.15h-1.15zM43.4 103.6h1.15v1.15h-1.15zM48.7 90.3h1.15v1.15h-1.15zM44.1 99.1h1.15v1.15h-1.15zM58.6 100.0h1.15v1.15h-1.15zM52.9 98.8h1.15v1.15h-1.15zM60.1 102.9h1.15v1.15h-1.15zM68.2 94.9h1.15v1.15h-1.15zM49.5 95.8h1.15v1.15h-1.15zM56.3 91.5h1.15v1.15h-1.15zM71.4 87.8h1.15v1.15h-1.15zM57.1 100.3h1.15v1.15h-1.15zM72.0 103.9h1.15v1.15h-1.15zM38.9 87.9h1.15v1.15h-1.15zM36.0 105.9h1.15v1.15h-1.15zM31.0 95.4h1.15v1.15h-1.15zM53.9 98.1h1.15v1.15h-1.15zM66.9 98.1h1.15v1.15h-1.15zM41.8 92.5h1.15v1.15h-1.15zM55.2 89.6h1.15v1.15h-1.15zM42.2 96.2h1.15v1.15h-1.15zM45.2 108.3h1.15v1.15h-1.15zM44.6 97.9h1.15v1.15h-1.15zM37.5 94.3h1.15v1.15h-1.15zM53.5 91.8h1.15v1.15h-1.15zM52.6 93.6h1.15v1.15h-1.15zM63.1 87.0h1.15v1.15h-1.15zM51.8 102.3h1.15v1.15h-1.15zM46.2 99.6h1.15v1.15h-1.15zM52.0 100.8h1.15v1.15h-1.15zM92.6 92.4h1.15v1.15h-1.15zM56.9 97.5h1.15v1.15h-1.15zM51.8 92.3h1.15v1.15h-1.15zM46.9 87.6h1.15v1.15h-1.15zM50.6 93.7h1.15v1.15h-1.15zM52.4 87.4h1.15v1.15h-1.15zM48.9 94.3h1.15v1.15h-1.15zM56.0 85.8h1.15v1.15h-1.15zM53.6 101.4h1.15v1.15h-1.15zM55.9 91.1h1.15v1.15h-1.15zM42.3 92.1h1.15v1.15h-1.15zM57.5 105.7h1.15v1.15h-1.15zM46.4 89.0h1.15v1.15h-1.15zM53.1 95.5h1.15v1.15h-1.15zM37.0 88.3h1.15v1.15h-1.15zM47.1 99.0h1.15v1.15h-1.15zM33.5 86.2h1.15v1.15h-1.15zM54.6 84.6h1.15v1.15h-1.15zM49.8 96.6h1.15v1.15h-1.15zM47.0 86.2h1.15v1.15h-1.15zM47.7 91.4h1.15v1.15h-1.15zM52.6 87.5h1.15v1.15h-1.15zM62.0 81.2h1.15v1.15h-1.15zM46.2 94.0h1.15v1.15h-1.15zM60.4 89.3h1.15v1.15h-1.15zM55.2 89.6h1.15v1.15h-1.15zM57.6 107.1h1.15v1.15h-1.15zM43.4 97.3h1.15v1.15h-1.15zM36.8 101.3h1.15v1.15h-1.15zM63.5 94.2h1.15v1.15h-1.15zM34.2 97.0h1.15v1.15h-1.15zM62.8 102.2h1.15v1.15h-1.15zM58.6 80.0h1.15v1.15h-1.15zM39.9 104.7h1.15v1.15h-1.15zM33.1 102.5h1.15v1.15h-1.15zM71.9 99.7h1.15v1.15h-1.15zM33.4 94.2h1.15v1.15h-1.15zM33.2 92.1h1.15v1.15h-1.15zM50.8 97.1h1.15v1.15h-1.15zM48.3 107.9h1.15v1.15h-1.15zM53.9 94.5h1.15v1.15h-1.15zM45.8 89.1h1.15v1.15h-1.15zM65.2 95.0h1.15v1.15h-1.15zM34.9 89.6h1.15v1.15h-1.15zM46.7 90.5h1.15v1.15h-1.15zM62.0 85.1h1.15v1.15h-1.15zM54.5 95.0h1.15v1.15h-1.15zM33.7 94.3h1.15v1.15h-1.15zM47.2 97.7h1.15v1.15h-1.15zM42.8 96.2h1.15v1.15h-1.15zM27.6 85.7h1.15v1.15h-1.15zM58.2 101.8h1.15v1.15h-1.15zM48.2 89.3h1.15v1.15h-1.15zM61.9 78.0h1.15v1.15h-1.15zM38.4 99.0h1.15v1.15h-1.15zM56.6 86.1h1.15v1.15h-1.15zM24.8 104.9h1.15v1.15h-1.15zM50.3 87.1h1.15v1.15h-1.15zM49.1 100.8h1.15v1.15h-1.15zM18.3 102.3h1.15v1.15h-1.15zM68.0 86.6h1.15v1.15h-1.15zM50.8 91.8h1.15v1.15h-1.15zM18.4 91.8h1.15v1.15h-1.15zM48.5 101.9h1.15v1.15h-1.15zM40.4 88.5h1.15v1.15h-1.15zM43.8 93.3h1.15v1.15h-1.15zM34.9 97.6h1.15v1.15h-1.15zM55.2 94.4h1.15v1.15h-1.15zM69.7 91.4h1.15v1.15h-1.15zM64.7 89.7h1.15v1.15h-1.15zM57.8 79.2h1.15v1.15h-1.15zM50.9 92.6h1.15v1.15h-1.15zM42.2 89.3h1.15v1.15h-1.15zM44.1 88.4h1.15v1.15h-1.15zM21.0 89.4h1.15v1.15h-1.15zM41.5 89.9h1.15v1.15h-1.15zM35.2 92.9h1.15v1.15h-1.15zM58.2 92.0h1.15v1.15h-1.15zM42.2 104.2h1.15v1.15h-1.15zM60.6 100.9h1.15v1.15h-1.15zM62.8 91.4h1.15v1.15h-1.15zM46.8 102.4h1.15v1.15h-1.15zM41.5 93.0h1.15v1.15h-1.15zM53.1 96.7h1.15v1.15h-1.15zM44.9 101.4h1.15v1.15h-1.15zM46.2 99.4h1.15v1.15h-1.15zM61.8 98.9h1.15v1.15h-1.15zM57.6 85.1h1.15v1.15h-1.15zM32.0 89.2h1.15v1.15h-1.15zM54.3 105.3h1.15v1.15h-1.15zM33.1 96.2h1.15v1.15h-1.15zM37.7 88.3h1.15v1.15h-1.15zM44.9 99.2h1.15v1.15h-1.15zM51.1 102.9h1.15v1.15h-1.15zM36.1 100.7h1.15v1.15h-1.15zM60.0 94.4h1.15v1.15h-1.15zM54.4 89.6h1.15v1.15h-1.15zM34.8 90.8h1.15v1.15h-1.15zM40.4 115.9h1.15v1.15h-1.15zM42.3 106.4h1.15v1.15h-1.15zM50.9 96.3h1.15v1.15h-1.15zM57.7 88.0h1.15v1.15h-1.15zM59.9 96.8h1.15v1.15h-1.15zM29.5 98.5h1.15v1.15h-1.15zM55.3 97.3h1.15v1.15h-1.15zM68.2 90.8h1.15v1.15h-1.15zM54.8 99.6h1.15v1.15h-1.15zM37.1 103.0h1.15v1.15h-1.15zM30.3 84.0h1.15v1.15h-1.15zM54.9 85.6h1.15v1.15h-1.15zM46.9 81.4h1.15v1.15h-1.15zM49.3 85.3h1.15v1.15h-1.15zM52.7 82.3h1.15v1.15h-1.15zM54.0 91.9h1.15v1.15h-1.15zM49.2 93.4h1.15v1.15h-1.15zM50.0 83.9h1.15v1.15h-1.15zM18.2 94.2h1.15v1.15h-1.15zM29.4 100.5h1.15v1.15h-1.15zM60.3 86.4h1.15v1.15h-1.15zM38.4 99.6h1.15v1.15h-1.15zM29.1 97.1h1.15v1.15h-1.15zM45.1 101.2h1.15v1.15h-1.15zM36.8 91.3h1.15v1.15h-1.15zM38.8 105.9h1.15v1.15h-1.15zM57.0 86.7h1.15v1.15h-1.15zM40.9 95.6h1.15v1.15h-1.15zM46.1 97.9h1.15v1.15h-1.15zM33.7 89.3h1.15v1.15h-1.15zM61.6 81.8h1.15v1.15h-1.15zM56.6 92.6h1.15v1.15h-1.15zM23.8 101.3h1.15v1.15h-1.15zM52.3 94.1h1.15v1.15h-1.15zM34.9 90.4h1.15v1.15h-1.15zM67.3 87.6h1.15v1.15h-1.15zM18.1 87.4h1.15v1.15h-1.15zM29.5 92.6h1.15v1.15h-1.15zM39.4 98.5h1.15v1.15h-1.15zM38.8 89.9h1.15v1.15h-1.15zM66.2 90.2h1.15v1.15h-1.15zM42.8 93.4h1.15v1.15h-1.15zM39.5 99.4h1.15v1.15h-1.15zM33.3 90.2h1.15v1.15h-1.15zM32.1 97.8h1.15v1.15h-1.15zM59.9 93.7h1.15v1.15h-1.15zM25.8 91.3h1.15v1.15h-1.15zM53.6 99.7h1.15v1.15h-1.15zM68.8 104.2h1.15v1.15h-1.15zM39.9 80.8h1.15v1.15h-1.15zM54.1 99.1h1.15v1.15h-1.15zM33.6 93.2h1.15v1.15h-1.15zM51.4 98.4h1.15v1.15h-1.15zM36.8 86.4h1.15v1.15h-1.15zM24.4 113.2h1.15v1.15h-1.15zM46.0 92.2h1.15v1.15h-1.15zM29.7 101.0h1.15v1.15h-1.15zM41.7 104.8h1.15v1.15h-1.15zM59.0 94.1h1.15v1.15h-1.15zM57.5 85.4h1.15v1.15h-1.15zM44.3 89.5h1.15v1.15h-1.15zM32.5 94.0h1.15v1.15h-1.15zM46.6 104.8h1.15v1.15h-1.15zM18.2 88.8h1.15v1.15h-1.15zM43.0 96.0h1.15v1.15h-1.15zM60.1 104.6h1.15v1.15h-1.15zM52.9 96.1h1.15v1.15h-1.15zM55.7 102.0h1.15v1.15h-1.15zM56.0 84.5h1.15v1.15h-1.15zM50.0 91.3h1.15v1.15h-1.15zM69.8 94.9h1.15v1.15h-1.15zM39.6 104.7h1.15v1.15h-1.15zM43.8 97.6h1.15v1.15h-1.15zM47.8 97.4h1.15v1.15h-1.15zM62.0 88.2h1.15v1.15h-1.15zM40.4 100.7h1.15v1.15h-1.15zM45.2 95.6h1.15v1.15h-1.15zM61.2 87.5h1.15v1.15h-1.15zM61.4 91.8h1.15v1.15h-1.15zM41.5 90.0h1.15v1.15h-1.15zM76.2 98.7h1.15v1.15h-1.15zM37.8 108.8h1.15v1.15h-1.15zM52.7 88.0h1.15v1.15h-1.15zM23.0 82.3h1.15v1.15h-1.15zM17.8 94.4h1.15v1.15h-1.15zM49.0 101.4h1.15v1.15h-1.15zM46.7 88.6h1.15v1.15h-1.15zM39.1 108.3h1.15v1.15h-1.15zM26.3 95.2h1.15v1.15h-1.15zM48.7 98.6h1.15v1.15h-1.15zM43.3 97.7h1.15v1.15h-1.15zM58.6 92.8h1.15v1.15h-1.15zM42.7 92.5h1.15v1.15h-1.15zM36.3 92.3h1.15v1.15h-1.15zM44.6 95.5h1.15v1.15h-1.15zM65.1 103.8h1.15v1.15h-1.15zM42.8 98.5h1.15v1.15h-1.15zM52.1 99.7h1.15v1.15h-1.15zM48.7 95.9h1.15v1.15h-1.15zM42.5 87.9h1.15v1.15h-1.15zM59.3 103.8h1.15v1.15h-1.15zM56.7 97.2h1.15v1.15h-1.15zM51.7 90.5h1.15v1.15h-1.15zM26.1 98.9h1.15v1.15h-1.15zM50.9 89.7h1.15v1.15h-1.15zM36.3 103.6h1.15v1.15h-1.15zM25.8 107.3h1.15v1.15h-1.15zM56.4 111.9h1.15v1.15h-1.15zM39.4 93.7h1.15v1.15h-1.15zM42.1 95.1h1.15v1.15h-1.15zM45.8 88.2h1.15v1.15h-1.15zM61.8 87.9h1.15v1.15h-1.15zM42.1 98.1h1.15v1.15h-1.15zM41.7 90.6h1.15v1.15h-1.15zM52.8 91.1h1.15v1.15h-1.15zM32.8 93.1h1.15v1.15h-1.15zM45.7 106.9h1.15v1.15h-1.15zM34.7 101.3h1.15v1.15h-1.15zM38.6 91.2h1.15v1.15h-1.15zM44.3 96.0h1.15v1.15h-1.15zM59.2 107.2h1.15v1.15h-1.15zM40.4 104.0h1.15v1.15h-1.15zM60.8 100.1h1.15v1.15h-1.15zM38.9 100.7h1.15v1.15h-1.15zM47.1 96.6h1.15v1.15h-1.15zM45.0 98.9h1.15v1.15h-1.15zM62.3 102.5h1.15v1.15h-1.15zM45.8 101.5h1.15v1.15h-1.15zM66.6 86.8h1.15v1.15h-1.15zM66.8 83.8h1.15v1.15h-1.15zM55.2 98.4h1.15v1.15h-1.15zM66.9 96.0h1.15v1.15h-1.15zM42.4 87.8h1.15v1.15h-1.15zM32.8 99.7h1.15v1.15h-1.15zM45.4 88.4h1.15v1.15h-1.15zM55.0 88.1h1.15v1.15h-1.15zM42.9 90.4h1.15v1.15h-1.15zM69.1 105.0h1.15v1.15h-1.15zM46.4 82.0h1.15v1.15h-1.15zM51.9 94.4h1.15v1.15h-1.15zM52.8 98.2h1.15v1.15h-1.15zM44.4 100.9h1.15v1.15h-1.15zM58.9 95.5h1.15v1.15h-1.15zM43.3 90.2h1.15v1.15h-1.15zM57.1 85.5h1.15v1.15h-1.15zM46.4 88.2h1.15v1.15h-1.15zM31.0 98.5h1.15v1.15h-1.15zM48.1 94.2h1.15v1.15h-1.15zM59.3 82.5h1.15v1.15h-1.15zM47.6 96.1h1.15v1.15h-1.15zM58.8 85.7h1.15v1.15h-1.15zM57.3 95.6h1.15v1.15h-1.15zM65.3 102.6h1.15v1.15h-1.15zM55.3 110.2h1.15v1.15h-1.15zM48.4 90.7h1.15v1.15h-1.15zM44.1 86.8h1.15v1.15h-1.15zM48.0 79.6h1.15v1.15h-1.15zM47.3 97.1h1.15v1.15h-1.15zM60.8 91.3h1.15v1.15h-1.15zM65.8 89.0h1.15v1.15h-1.15zM46.7 79.6h1.15v1.15h-1.15zM38.9 87.9h1.15v1.15h-1.15zM66.6 97.8h1.15v1.15h-1.15zM34.9 97.9h1.15v1.15h-1.15zM54.3 92.2h1.15v1.15h-1.15zM48.7 91.6h1.15v1.15h-1.15zM41.8 80.7h1.15v1.15h-1.15zM47.3 103.4h1.15v1.15h-1.15zM65.9 91.8h1.15v1.15h-1.15zM39.3 92.3h1.15v1.15h-1.15zM59.4 96.5h1.15v1.15h-1.15zM41.3 96.6h1.15v1.15h-1.15zM45.9 97.7h1.15v1.15h-1.15zM43.4 83.0h1.15v1.15h-1.15zM49.1 99.5h1.15v1.15h-1.15zM34.9 93.1h1.15v1.15h-1.15zM59.1 91.1h1.15v1.15h-1.15zM40.5 108.9h1.15v1.15h-1.15zM58.5 101.5h1.15v1.15h-1.15zM36.9 106.0h1.15v1.15h-1.15zM28.2 90.1h1.15v1.15h-1.15zM57.4 103.7h1.15v1.15h-1.15zM37.1 89.0h1.15v1.15h-1.15zM50.8 79.6h1.15v1.15h-1.15zM56.2 98.0h1.15v1.15h-1.15zM43.0 97.9h1.15v1.15h-1.15zM57.8 96.2h1.15v1.15h-1.15zM54.7 105.1h1.15v1.15h-1.15zM42.6 95.1h1.15v1.15h-1.15zM42.1 101.5h1.15v1.15h-1.15zM43.5 97.4h1.15v1.15h-1.15zM50.1 94.4h1.15v1.15h-1.15zM69.2 93.3h1.15v1.15h-1.15zM65.6 100.0h1.15v1.15h-1.15zM64.4 92.7h1.15v1.15h-1.15zM59.6 99.5h1.15v1.15h-1.15zM41.0 95.9h1.15v1.15h-1.15zM46.8 93.6h1.15v1.15h-1.15zM64.1 88.6h1.15v1.15h-1.15zM28.1 81.1h1.15v1.15h-1.15zM42.9 89.2h1.15v1.15h-1.15zM48.6 98.1h1.15v1.15h-1.15zM69.6 96.2h1.15v1.15h-1.15zM54.0 88.5h1.15v1.15h-1.15zM55.4 103.9h1.15v1.15h-1.15zM64.6 79.6h1.15v1.15h-1.15zM59.1 105.5h1.15v1.15h-1.15zM58.4 82.9h1.15v1.15h-1.15zM44.7 98.2h1.15v1.15h-1.15zM53.4 88.0h1.15v1.15h-1.15zM37.7 101.0h1.15v1.15h-1.15zM32.3 104.4h1.15v1.15h-1.15zM48.6 96.1h1.15v1.15h-1.15zM32.3 89.5h1.15v1.15h-1.15zM56.7 83.1h1.15v1.15h-1.15zM41.1 93.9h1.15v1.15h-1.15zM43.3 103.4h1.15v1.15h-1.15zM65.1 99.5h1.15v1.15h-1.15zM55.4 100.9h1.15v1.15h-1.15zM53.7 93.3h1.15v1.15h-1.15zM61.4 95.9h1.15v1.15h-1.15zM55.7 105.2h1.15v1.15h-1.15zM72.4 94.2h1.15v1.15h-1.15zM51.4 86.1h1.15v1.15h-1.15zM44.6 104.8h1.15v1.15h-1.15zM35.4 93.2h1.15v1.15h-1.15zM41.3 100.8h1.15v1.15h-1.15zM36.6 81.6h1.15v1.15h-1.15zM54.6 91.3h1.15v1.15h-1.15zM44.6 101.8h1.15v1.15h-1.15zM37.7 91.2h1.15v1.15h-1.15zM50.2 96.9h1.15v1.15h-1.15zM42.2 101.5h1.15v1.15h-1.15zM75.3 90.9h1.15v1.15h-1.15zM50.0 91.4h1.15v1.15h-1.15zM40.8 84.6h1.15v1.15h-1.15zM43.7 103.4h1.15v1.15h-1.15zM62.1 91.4h1.15v1.15h-1.15zM42.1 88.8h1.15v1.15h-1.15zM34.0 107.1h1.15v1.15h-1.15zM56.4 94.8h1.15v1.15h-1.15zM42.5 86.4h1.15v1.15h-1.15zM64.2 99.6h1.15v1.15h-1.15zM37.0 101.1h1.15v1.15h-1.15zM35.1 98.6h1.15v1.15h-1.15zM36.9 90.9h1.15v1.15h-1.15zM54.3 97.1h1.15v1.15h-1.15zM60.5 87.8h1.15v1.15h-1.15zM67.3 103.7h1.15v1.15h-1.15zM48.3 97.3h1.15v1.15h-1.15zM39.1 92.8h1.15v1.15h-1.15zM32.6 94.6h1.15v1.15h-1.15zM50.8 103.7h1.15v1.15h-1.15zM59.8 99.8h1.15v1.15h-1.15zM44.1 92.3h1.15v1.15h-1.15zM44.3 95.5h1.15v1.15h-1.15zM25.2 99.5h1.15v1.15h-1.15zM29.6 90.1h1.15v1.15h-1.15zM48.7 90.2h1.15v1.15h-1.15zM68.4 93.2h1.15v1.15h-1.15zM67.3 102.5h1.15v1.15h-1.15zM42.4 96.8h1.15v1.15h-1.15zM64.0 91.5h1.15v1.15h-1.15zM49.5 89.8h1.15v1.15h-1.15zM49.1 91.3h1.15v1.15h-1.15zM49.4 101.2h1.15v1.15h-1.15zM65.1 94.9h1.15v1.15h-1.15zM50.8 100.1h1.15v1.15h-1.15zM44.9 86.2h1.15v1.15h-1.15zM61.7 87.1h1.15v1.15h-1.15zM59.6 86.9h1.15v1.15h-1.15zM70.4 86.3h1.15v1.15h-1.15zM58.6 104.8h1.15v1.15h-1.15zM36.9 104.7h1.15v1.15h-1.15zM38.5 81.0h1.15v1.15h-1.15zM57.1 99.0h1.15v1.15h-1.15zM46.0 75.5h1.15v1.15h-1.15zM47.7 91.7h1.15v1.15h-1.15zM43.8 91.8h1.15v1.15h-1.15zM26.9 89.8h1.15v1.15h-1.15zM70.0 105.2h1.15v1.15h-1.15zM44.1 88.7h1.15v1.15h-1.15zM53.2 101.6h1.15v1.15h-1.15zM57.1 85.4h1.15v1.15h-1.15zM50.3 94.9h1.15v1.15h-1.15zM65.7 102.6h1.15v1.15h-1.15zM54.7 102.8h1.15v1.15h-1.15zM43.7 105.1h1.15v1.15h-1.15zM43.3 96.8h1.15v1.15h-1.15zM59.4 87.2h1.15v1.15h-1.15zM40.0 81.1h1.15v1.15h-1.15zM50.4 93.5h1.15v1.15h-1.15zM44.5 97.5h1.15v1.15h-1.15zM23.0 93.7h1.15v1.15h-1.15zM49.4 92.0h1.15v1.15h-1.15zM57.9 106.7h1.15v1.15h-1.15zM43.1 87.0h1.15v1.15h-1.15zM41.1 94.6h1.15v1.15h-1.15zM55.4 87.6h1.15v1.15h-1.15zM60.4 86.4h1.15v1.15h-1.15zM58.3 97.0h1.15v1.15h-1.15zM54.0 109.6h1.15v1.15h-1.15zM45.2 92.7h1.15v1.15h-1.15zM54.1 100.2h1.15v1.15h-1.15zM32.3 95.9h1.15v1.15h-1.15zM39.5 98.5h1.15v1.15h-1.15zM64.8 94.3h1.15v1.15h-1.15zM47.1 95.2h1.15v1.15h-1.15zM17.7 99.5h1.15v1.15h-1.15zM59.7 102.9h1.15v1.15h-1.15zM47.0 99.9h1.15v1.15h-1.15zM38.7 93.9h1.15v1.15h-1.15zM34.5 90.0h1.15v1.15h-1.15zM28.5 89.0h1.15v1.15h-1.15zM63.4 84.5h1.15v1.15h-1.15zM36.5 85.9h1.15v1.15h-1.15zM41.8 98.6h1.15v1.15h-1.15zM55.5 79.1h1.15v1.15h-1.15zM65.9 89.6h1.15v1.15h-1.15zM41.3 106.1h1.15v1.15h-1.15zM47.4 84.9h1.15v1.15h-1.15zM40.7 88.6h1.15v1.15h-1.15zM36.3 91.5h1.15v1.15h-1.15zM58.9 96.5h1.15v1.15h-1.15zM31.8 114.2h1.15v1.15h-1.15zM36.5 94.7h1.15v1.15h-1.15zM48.8 99.5h1.15v1.15h-1.15zM44.5 97.2h1.15v1.15h-1.15zM33.1 97.2h1.15v1.15h-1.15zM45.9 98.3h1.15v1.15h-1.15zM58.1 96.5h1.15v1.15h-1.15zM41.2 105.3h1.15v1.15h-1.15zM20.5 88.2h1.15v1.15h-1.15zM33.2 108.3h1.15v1.15h-1.15zM44.0 92.3h1.15v1.15h-1.15zM55.5 102.9h1.15v1.15h-1.15zM60.1 93.3h1.15v1.15h-1.15zM50.4 86.0h1.15v1.15h-1.15zM51.6 91.8h1.15v1.15h-1.15zM21.8 95.5h1.15v1.15h-1.15zM46.8 99.7h1.15v1.15h-1.15zM55.8 94.6h1.15v1.15h-1.15zM46.2 105.7h1.15v1.15h-1.15zM50.9 101.4h1.15v1.15h-1.15zM53.6 103.7h1.15v1.15h-1.15zM60.3 85.6h1.15v1.15h-1.15zM55.1 105.6h1.15v1.15h-1.15zM64.9 91.5h1.15v1.15h-1.15zM68.4 100.5h1.15v1.15h-1.15zM56.5 89.0h1.15v1.15h-1.15zM53.7 97.6h1.15v1.15h-1.15zM23.6 90.3h1.15v1.15h-1.15zM30.3 80.7h1.15v1.15h-1.15zM51.0 100.5h1.15v1.15h-1.15zM48.3 82.9h1.15v1.15h-1.15zM32.8 100.3h1.15v1.15h-1.15zM46.1 96.1h1.15v1.15h-1.15zM45.1 95.1h1.15v1.15h-1.15zM40.5 89.0h1.15v1.15h-1.15zM31.5 94.3h1.15v1.15h-1.15zM47.8 102.4h1.15v1.15h-1.15zM52.6 93.7h1.15v1.15h-1.15zM33.3 85.9h1.15v1.15h-1.15zM45.8 96.9h1.15v1.15h-1.15zM52.3 97.4h1.15v1.15h-1.15zM49.0 90.6h1.15v1.15h-1.15zM53.5 86.6h1.15v1.15h-1.15zM32.2 91.5h1.15v1.15h-1.15zM31.2 90.1h1.15v1.15h-1.15zM39.4 89.8h1.15v1.15h-1.15zM47.9 88.0h1.15v1.15h-1.15zM43.3 81.4h1.15v1.15h-1.15zM50.1 87.4h1.15v1.15h-1.15zM53.3 73.2h1.15v1.15h-1.15zM38.7 95.7h1.15v1.15h-1.15zM19.0 91.3h1.15v1.15h-1.15zM49.5 94.7h1.15v1.15h-1.15zM30.4 95.6h1.15v1.15h-1.15zM50.2 86.8h1.15v1.15h-1.15zM57.4 93.5h1.15v1.15h-1.15zM48.6 90.6h1.15v1.15h-1.15zM55.0 94.6h1.15v1.15h-1.15zM62.1 97.2h1.15v1.15h-1.15zM41.0 92.3h1.15v1.15h-1.15zM59.5 91.2h1.15v1.15h-1.15zM53.0 97.7h1.15v1.15h-1.15zM46.2 76.8h1.15v1.15h-1.15zM50.0 95.5h1.15v1.15h-1.15zM50.0 88.3h1.15v1.15h-1.15zM63.0 92.9h1.15v1.15h-1.15zM40.9 88.6h1.15v1.15h-1.15zM52.7 85.9h1.15v1.15h-1.15zM36.3 108.6h1.15v1.15h-1.15zM64.2 101.6h1.15v1.15h-1.15zM64.9 98.3h1.15v1.15h-1.15zM28.0 102.7h1.15v1.15h-1.15zM63.4 97.5h1.15v1.15h-1.15zM24.7 103.0h1.15v1.15h-1.15zM64.9 90.3h1.15v1.15h-1.15zM49.9 99.6h1.15v1.15h-1.15zM47.4 102.0h1.15v1.15h-1.15zM49.4 99.0h1.15v1.15h-1.15zM49.4 83.0h1.15v1.15h-1.15zM36.4 117.2h1.15v1.15h-1.15zM51.8 103.6h1.15v1.15h-1.15zM62.2 106.5h1.15v1.15h-1.15zM55.1 89.5h1.15v1.15h-1.15zM48.6 79.8h1.15v1.15h-1.15zM46.1 100.6h1.15v1.15h-1.15zM22.2 95.4h1.15v1.15h-1.15zM58.4 103.7h1.15v1.15h-1.15zM37.2 89.1h1.15v1.15h-1.15zM25.7 86.4h1.15v1.15h-1.15zM54.9 109.2h1.15v1.15h-1.15zM34.5 104.1h1.15v1.15h-1.15zM53.6 90.3h1.15v1.15h-1.15zM54.4 94.5h1.15v1.15h-1.15zM50.1 93.7h1.15v1.15h-1.15zM54.5 91.6h1.15v1.15h-1.15zM47.9 90.5h1.15v1.15h-1.15zM57.7 103.9h1.15v1.15h-1.15zM58.0 97.6h1.15v1.15h-1.15zM65.7 88.0h1.15v1.15h-1.15zM50.5 107.3h1.15v1.15h-1.15zM47.1 91.9h1.15v1.15h-1.15zM39.3 93.7h1.15v1.15h-1.15zM43.1 95.4h1.15v1.15h-1.15zM53.0 91.2h1.15v1.15h-1.15zM41.7 94.2h1.15v1.15h-1.15zM41.3 96.0h1.15v1.15h-1.15zM45.6 89.9h1.15v1.15h-1.15zM47.3 85.0h1.15v1.15h-1.15zM57.3 98.5h1.15v1.15h-1.15zM20.4 94.3h1.15v1.15h-1.15zM43.3 98.2h1.15v1.15h-1.15zM47.3 98.6h1.15v1.15h-1.15zM48.0 96.8h1.15v1.15h-1.15zM62.8 96.3h1.15v1.15h-1.15zM35.0 99.2h1.15v1.15h-1.15zM47.2 94.7h1.15v1.15h-1.15zM41.5 83.7h1.15v1.15h-1.15zM33.2 91.3h1.15v1.15h-1.15zM35.4 73.8h1.15v1.15h-1.15zM62.4 85.3h1.15v1.15h-1.15zM39.6 97.8h1.15v1.15h-1.15zM19.1 103.8h1.15v1.15h-1.15zM39.0 98.8h1.15v1.15h-1.15zM42.5 96.2h1.15v1.15h-1.15zM49.7 93.9h1.15v1.15h-1.15zM26.2 83.0h1.15v1.15h-1.15zM47.9 104.3h1.15v1.15h-1.15zM41.8 97.8h1.15v1.15h-1.15zM50.4 97.5h1.15v1.15h-1.15zM60.5 82.8h1.15v1.15h-1.15zM51.7 92.6h1.15v1.15h-1.15zM44.6 87.6h1.15v1.15h-1.15zM38.8 86.3h1.15v1.15h-1.15zM35.0 112.5h1.15v1.15h-1.15zM69.1 94.0h1.15v1.15h-1.15zM57.4 86.7h1.15v1.15h-1.15zM17.9 80.4h1.15v1.15h-1.15zM34.2 84.8h1.15v1.15h-1.15zM34.1 102.2h1.15v1.15h-1.15zM36.4 99.7h1.15v1.15h-1.15zM34.1 86.5h1.15v1.15h-1.15zM40.7 103.5h1.15v1.15h-1.15zM39.8 92.5h1.15v1.15h-1.15zM40.9 90.0h1.15v1.15h-1.15zM60.3 89.2h1.15v1.15h-1.15zM45.7 84.8h1.15v1.15h-1.15zM39.7 94.7h1.15v1.15h-1.15zM66.4 107.5h1.15v1.15h-1.15zM33.4 92.2h1.15v1.15h-1.15zM25.8 91.5h1.15v1.15h-1.15zM48.9 98.6h1.15v1.15h-1.15zM54.5 86.3h1.15v1.15h-1.15zM33.5 82.9h1.15v1.15h-1.15zM68.2 84.5h1.15v1.15h-1.15zM60.2 95.9h1.15v1.15h-1.15zM59.8 81.7h1.15v1.15h-1.15zM53.6 97.0h1.15v1.15h-1.15zM48.3 97.4h1.15v1.15h-1.15zM34.4 104.6h1.15v1.15h-1.15zM34.8 92.8h1.15v1.15h-1.15zM59.1 97.9h1.15v1.15h-1.15zM67.7 93.7h1.15v1.15h-1.15zM34.9 96.6h1.15v1.15h-1.15zM54.7 81.7h1.15v1.15h-1.15zM59.5 103.2h1.15v1.15h-1.15zM38.2 100.7h1.15v1.15h-1.15zM49.3 101.2h1.15v1.15h-1.15zM41.8 100.2h1.15v1.15h-1.15zM56.7 94.5h1.15v1.15h-1.15zM44.5 92.8h1.15v1.15h-1.15zM57.0 104.8h1.15v1.15h-1.15zM46.7 100.5h1.15v1.15h-1.15zM49.6 108.3h1.15v1.15h-1.15zM63.3 99.8h1.15v1.15h-1.15zM53.7 89.9h1.15v1.15h-1.15zM28.8 100.2h1.15v1.15h-1.15zM39.5 89.0h1.15v1.15h-1.15zM61.4 96.1h1.15v1.15h-1.15zM35.1 102.8h1.15v1.15h-1.15zM44.8 101.4h1.15v1.15h-1.15zM34.8 82.8h1.15v1.15h-1.15zM41.0 99.9h1.15v1.15h-1.15zM23.4 85.7h1.15v1.15h-1.15zM60.4 112.8h1.15v1.15h-1.15zM45.5 86.8h1.15v1.15h-1.15zM42.7 88.0h1.15v1.15h-1.15zM67.4 99.4h1.15v1.15h-1.15zM37.3 100.3h1.15v1.15h-1.15zM21.5 94.2h1.15v1.15h-1.15zM48.5 92.2h1.15v1.15h-1.15zM36.8 89.2h1.15v1.15h-1.15zM25.2 97.3h1.15v1.15h-1.15zM36.2 98.3h1.15v1.15h-1.15zM58.8 88.7h1.15v1.15h-1.15zM33.5 94.4h1.15v1.15h-1.15zM56.8 83.8h1.15v1.15h-1.15zM47.6 86.2h1.15v1.15h-1.15zM66.7 96.8h1.15v1.15h-1.15zM28.2 89.6h1.15v1.15h-1.15zM49.2 90.1h1.15v1.15h-1.15zM49.3 96.9h1.15v1.15h-1.15zM50.8 90.7h1.15v1.15h-1.15zM66.2 100.6h1.15v1.15h-1.15zM44.5 92.9h1.15v1.15h-1.15zM40.1 83.0h1.15v1.15h-1.15zM44.2 94.2h1.15v1.15h-1.15zM43.7 86.5h1.15v1.15h-1.15zM18.4 80.4h1.15v1.15h-1.15zM53.3 90.8h1.15v1.15h-1.15zM40.8 101.8h1.15v1.15h-1.15zM47.6 100.5h1.15v1.15h-1.15zM47.6 108.9h1.15v1.15h-1.15zM34.4 90.8h1.15v1.15h-1.15zM44.8 95.1h1.15v1.15h-1.15zM40.0 108.3h1.15v1.15h-1.15zM56.3 79.7h1.15v1.15h-1.15zM48.0 99.0h1.15v1.15h-1.15zM63.1 96.9h1.15v1.15h-1.15zM38.6 99.9h1.15v1.15h-1.15zM31.9 94.6h1.15v1.15h-1.15zM33.5 104.1h1.15v1.15h-1.15zM57.0 110.1h1.15v1.15h-1.15zM44.6 93.0h1.15v1.15h-1.15zM42.3 102.5h1.15v1.15h-1.15zM34.8 99.2h1.15v1.15h-1.15zM43.9 99.3h1.15v1.15h-1.15zM51.4 87.9h1.15v1.15h-1.15zM42.9 80.6h1.15v1.15h-1.15zM36.9 89.3h1.15v1.15h-1.15zM60.8 90.6h1.15v1.15h-1.15zM51.5 92.1h1.15v1.15h-1.15zM32.1 98.3h1.15v1.15h-1.15zM41.9 91.2h1.15v1.15h-1.15zM62.6 89.3h1.15v1.15h-1.15zM53.0 85.4h1.15v1.15h-1.15zM39.8 83.8h1.15v1.15h-1.15zM46.0 98.9h1.15v1.15h-1.15zM52.1 90.3h1.15v1.15h-1.15zM55.8 91.3h1.15v1.15h-1.15zM52.9 95.9h1.15v1.15h-1.15zM55.0 75.7h1.15v1.15h-1.15zM32.6 99.6h1.15v1.15h-1.15zM47.1 110.4h1.15v1.15h-1.15zM45.6 89.8h1.15v1.15h-1.15zM66.5 98.0h1.15v1.15h-1.15zM50.2 103.9h1.15v1.15h-1.15zM41.7 102.8h1.15v1.15h-1.15zM64.0 107.7h1.15v1.15h-1.15zM37.6 106.9h1.15v1.15h-1.15zM61.4 105.0h1.15v1.15h-1.15zM60.8 93.0h1.15v1.15h-1.15zM60.4 95.4h1.15v1.15h-1.15zM42.8 89.7h1.15v1.15h-1.15zM43.1 92.9h1.15v1.15h-1.15zM28.7 96.6h1.15v1.15h-1.15zM31.4 98.8h1.15v1.15h-1.15zM66.1 103.3h1.15v1.15h-1.15zM68.8 105.9h1.15v1.15h-1.15zM45.5 100.7h1.15v1.15h-1.15zM48.4 85.0h1.15v1.15h-1.15zM53.4 92.5h1.15v1.15h-1.15zM23.5 95.4h1.15v1.15h-1.15zM35.7 88.4h1.15v1.15h-1.15zM54.2 96.1h1.15v1.15h-1.15zM44.9 109.8h1.15v1.15h-1.15zM53.5 89.4h1.15v1.15h-1.15zM51.3 93.0h1.15v1.15h-1.15zM21.8 82.3h1.15v1.15h-1.15zM31.6 109.1h1.15v1.15h-1.15zM46.2 91.9h1.15v1.15h-1.15zM41.6 101.1h1.15v1.15h-1.15zM48.7 106.4h1.15v1.15h-1.15zM57.9 106.0h1.15v1.15h-1.15zM47.0 96.7h1.15v1.15h-1.15zM43.2 92.7h1.15v1.15h-1.15zM27.5 89.6h1.15v1.15h-1.15zM36.9 89.1h1.15v1.15h-1.15zM63.1 95.8h1.15v1.15h-1.15zM63.2 100.2h1.15v1.15h-1.15zM59.5 101.3h1.15v1.15h-1.15zM41.1 99.8h1.15v1.15h-1.15zM44.5 90.0h1.15v1.15h-1.15zM62.8 109.8h1.15v1.15h-1.15zM36.6 106.6h1.15v1.15h-1.15zM58.4 87.7h1.15v1.15h-1.15zM51.7 96.6h1.15v1.15h-1.15zM52.9 91.3h1.15v1.15h-1.15zM32.9 94.1h1.15v1.15h-1.15zM58.8 99.6h1.15v1.15h-1.15zM56.4 102.0h1.15v1.15h-1.15zM36.5 93.6h1.15v1.15h-1.15zM52.5 101.2h1.15v1.15h-1.15zM50.3 97.7h1.15v1.15h-1.15zM50.0 109.3h1.15v1.15h-1.15zM22.1 93.7h1.15v1.15h-1.15zM52.5 84.3h1.15v1.15h-1.15zM45.0 88.8h1.15v1.15h-1.15zM48.4 89.5h1.15v1.15h-1.15zM48.1 95.8h1.15v1.15h-1.15zM36.6 99.6h1.15v1.15h-1.15zM41.5 109.3h1.15v1.15h-1.15zM62.6 98.9h1.15v1.15h-1.15zM50.1 104.1h1.15v1.15h-1.15zM52.6 82.2h1.15v1.15h-1.15zM57.1 96.1h1.15v1.15h-1.15zM19.4 81.2h1.15v1.15h-1.15zM65.2 96.6h1.15v1.15h-1.15zM40.2 80.9h1.15v1.15h-1.15zM35.9 105.5h1.15v1.15h-1.15zM21.1 98.0h1.15v1.15h-1.15zM43.9 95.7h1.15v1.15h-1.15zM49.1 106.3h1.15v1.15h-1.15zM45.3 90.0h1.15v1.15h-1.15zM44.6 97.4h1.15v1.15h-1.15zM51.2 99.0h1.15v1.15h-1.15zM31.8 112.0h1.15v1.15h-1.15zM26.7 94.1h1.15v1.15h-1.15zM65.9 87.0h1.15v1.15h-1.15zM42.9 90.1h1.15v1.15h-1.15zM31.3 83.5h1.15v1.15h-1.15zM49.7 90.6h1.15v1.15h-1.15zM46.0 87.0h1.15v1.15h-1.15zM65.4 110.7h1.15v1.15h-1.15zM38.7 82.8h1.15v1.15h-1.15zM63.9 104.6h1.15v1.15h-1.15zM59.5 82.0h1.15v1.15h-1.15zM37.1 89.5h1.15v1.15h-1.15zM58.4 82.0h1.15v1.15h-1.15zM55.7 89.3h1.15v1.15h-1.15zM63.3 91.6h1.15v1.15h-1.15zM54.2 92.6h1.15v1.15h-1.15zM70.0 91.3h1.15v1.15h-1.15zM48.1 108.4h1.15v1.15h-1.15zM49.3 98.9h1.15v1.15h-1.15zM39.5 95.4h1.15v1.15h-1.15zM21.1 94.7h1.15v1.15h-1.15zM40.6 82.9h1.15v1.15h-1.15zM31.4 102.2h1.15v1.15h-1.15zM53.5 82.8h1.15v1.15h-1.15zM70.2 88.8h1.15v1.15h-1.15zM44.0 95.7h1.15v1.15h-1.15zM34.7 82.1h1.15v1.15h-1.15zM39.4 102.5h1.15v1.15h-1.15zM59.8 82.3h1.15v1.15h-1.15zM62.9 94.1h1.15v1.15h-1.15zM54.4 94.3h1.15v1.15h-1.15zM53.4 86.6h1.15v1.15h-1.15zM37.5 88.8h1.15v1.15h-1.15zM44.0 98.4h1.15v1.15h-1.15zM33.8 105.6h1.15v1.15h-1.15zM40.8 89.6h1.15v1.15h-1.15zM56.9 97.1h1.15v1.15h-1.15zM44.3 86.1h1.15v1.15h-1.15zM36.4 82.2h1.15v1.15h-1.15zM62.2 101.8h1.15v1.15h-1.15zM44.2 112.8h1.15v1.15h-1.15zM42.6 98.0h1.15v1.15h-1.15zM61.6 87.2h1.15v1.15h-1.15zM58.2 89.2h1.15v1.15h-1.15zM18.1 93.9h1.15v1.15h-1.15zM56.5 93.5h1.15v1.15h-1.15zM52.0 89.9h1.15v1.15h-1.15zM48.1 93.9h1.15v1.15h-1.15zM62.0 110.2h1.15v1.15h-1.15zM26.6 97.8h1.15v1.15h-1.15zM48.3 101.0h1.15v1.15h-1.15zM61.2 99.6h1.15v1.15h-1.15zM58.1 86.9h1.15v1.15h-1.15zM27.9 106.1h1.15v1.15h-1.15zM62.9 86.9h1.15v1.15h-1.15zM63.9 98.8h1.15v1.15h-1.15zM18.9 100.5h1.15v1.15h-1.15zM36.5 102.4h1.15v1.15h-1.15zM40.2 88.5h1.15v1.15h-1.15zM29.8 92.3h1.15v1.15h-1.15zM60.7 89.0h1.15v1.15h-1.15zM26.0 109.6h1.15v1.15h-1.15zM35.7 91.0h1.15v1.15h-1.15zM48.6 77.9h1.15v1.15h-1.15zM45.6 81.4h1.15v1.15h-1.15zM59.2 95.4h1.15v1.15h-1.15zM68.5 108.2h1.15v1.15h-1.15zM53.8 91.2h1.15v1.15h-1.15zM34.4 88.7h1.15v1.15h-1.15zM60.3 96.1h1.15v1.15h-1.15zM48.1 83.0h1.15v1.15h-1.15zM44.3 106.5h1.15v1.15h-1.15zM44.4 103.1h1.15v1.15h-1.15zM18.0 103.9h1.15v1.15h-1.15zM35.0 82.8h1.15v1.15h-1.15zM42.9 87.2h1.15v1.15h-1.15zM67.5 91.1h1.15v1.15h-1.15zM44.7 88.2h1.15v1.15h-1.15zM57.0 102.4h1.15v1.15h-1.15zM58.6 81.9h1.15v1.15h-1.15zM44.5 97.3h1.15v1.15h-1.15zM22.9 92.3h1.15v1.15h-1.15zM59.1 104.5h1.15v1.15h-1.15zM53.6 99.7h1.15v1.15h-1.15zM58.3 96.0h1.15v1.15h-1.15zM24.2 107.2h1.15v1.15h-1.15zM56.2 92.7h1.15v1.15h-1.15zM37.5 110.9h1.15v1.15h-1.15zM52.0 100.2h1.15v1.15h-1.15zM42.9 95.3h1.15v1.15h-1.15zM47.6 101.5h1.15v1.15h-1.15zM24.2 106.8h1.15v1.15h-1.15zM47.5 99.0h1.15v1.15h-1.15zM59.9 89.4h1.15v1.15h-1.15zM57.7 84.7h1.15v1.15h-1.15zM50.3 87.4h1.15v1.15h-1.15zM60.5 104.3h1.15v1.15h-1.15zM32.7 95.7h1.15v1.15h-1.15zM38.4 82.7h1.15v1.15h-1.15zM46.5 101.0h1.15v1.15h-1.15zM61.7 89.3h1.15v1.15h-1.15zM44.2 104.3h1.15v1.15h-1.15zM47.1 106.9h1.15v1.15h-1.15zM30.4 108.2h1.15v1.15h-1.15zM47.5 99.5h1.15v1.15h-1.15zM62.7 98.0h1.15v1.15h-1.15zM48.8 82.5h1.15v1.15h-1.15zM29.0 101.1h1.15v1.15h-1.15zM56.6 98.1h1.15v1.15h-1.15zM28.3 78.2h1.15v1.15h-1.15zM35.6 85.2h1.15v1.15h-1.15zM50.3 86.4h1.15v1.15h-1.15zM67.6 89.3h1.15v1.15h-1.15zM41.6 100.3h1.15v1.15h-1.15zM52.4 87.3h1.15v1.15h-1.15zM58.4 108.1h1.15v1.15h-1.15zM33.5 92.1h1.15v1.15h-1.15zM35.3 79.6h1.15v1.15h-1.15zM56.0 99.0h1.15v1.15h-1.15zM60.2 97.1h1.15v1.15h-1.15zM24.0 93.7h1.15v1.15h-1.15zM40.3 85.2h1.15v1.15h-1.15zM35.0 99.5h1.15v1.15h-1.15zM44.8 108.4h1.15v1.15h-1.15zM54.1 79.8h1.15v1.15h-1.15zM59.3 103.1h1.15v1.15h-1.15zM48.8 84.9h1.15v1.15h-1.15zM69.9 84.2h1.15v1.15h-1.15zM47.4 79.8h1.15v1.15h-1.15zM33.2 81.3h1.15v1.15h-1.15zM61.6 102.6h1.15v1.15h-1.15zM43.5 83.9h1.15v1.15h-1.15zM47.7 96.7h1.15v1.15h-1.15zM29.8 85.3h1.15v1.15h-1.15zM47.2 99.1h1.15v1.15h-1.15zM49.3 97.2h1.15v1.15h-1.15zM33.2 75.5h1.15v1.15h-1.15zM52.2 87.1h1.15v1.15h-1.15zM46.9 91.1h1.15v1.15h-1.15zM54.3 88.2h1.15v1.15h-1.15zM66.0 94.1h1.15v1.15h-1.15zM54.9 98.6h1.15v1.15h-1.15zM61.1 96.9h1.15v1.15h-1.15zM27.1 89.2h1.15v1.15h-1.15zM51.2 104.5h1.15v1.15h-1.15zM42.4 99.7h1.15v1.15h-1.15zM40.4 91.7h1.15v1.15h-1.15zM50.7 88.9h1.15v1.15h-1.15zM60.5 82.2h1.15v1.15h-1.15zM45.4 93.5h1.15v1.15h-1.15zM48.9 92.1h1.15v1.15h-1.15zM35.3 93.7h1.15v1.15h-1.15zM64.7 98.0h1.15v1.15h-1.15zM45.8 84.0h1.15v1.15h-1.15zM36.3 99.2h1.15v1.15h-1.15zM40.8 91.0h1.15v1.15h-1.15zM76.2 75.4h1.15v1.15h-1.15zM59.2 92.3h1.15v1.15h-1.15zM53.2 93.6h1.15v1.15h-1.15zM41.8 94.5h1.15v1.15h-1.15zM30.2 97.2h1.15v1.15h-1.15zM44.8 85.8h1.15v1.15h-1.15zM44.0 98.0h1.15v1.15h-1.15zM40.1 97.4h1.15v1.15h-1.15zM55.4 105.5h1.15v1.15h-1.15zM35.0 93.1h1.15v1.15h-1.15zM54.7 105.1h1.15v1.15h-1.15zM51.6 99.5h1.15v1.15h-1.15zM30.3 89.5h1.15v1.15h-1.15zM68.8 91.8h1.15v1.15h-1.15zM47.5 91.2h1.15v1.15h-1.15zM49.0 95.1h1.15v1.15h-1.15zM61.5 84.7h1.15v1.15h-1.15zM41.7 89.6h1.15v1.15h-1.15zM43.8 97.5h1.15v1.15h-1.15zM22.4 76.6h1.15v1.15h-1.15zM47.1 96.0h1.15v1.15h-1.15zM53.7 100.2h1.15v1.15h-1.15zM66.6 85.8h1.15v1.15h-1.15zM42.8 94.9h1.15v1.15h-1.15zM54.1 96.6h1.15v1.15h-1.15zM50.8 85.4h1.15v1.15h-1.15zM25.4 96.0h1.15v1.15h-1.15zM52.6 96.5h1.15v1.15h-1.15zM34.7 90.4h1.15v1.15h-1.15zM50.8 99.5h1.15v1.15h-1.15zM47.0 86.5h1.15v1.15h-1.15zM57.5 80.4h1.15v1.15h-1.15zM49.7 94.8h1.15v1.15h-1.15zM52.1 103.7h1.15v1.15h-1.15zM47.2 94.6h1.15v1.15h-1.15zM59.0 82.2h1.15v1.15h-1.15zM44.8 94.4h1.15v1.15h-1.15zM60.2 87.9h1.15v1.15h-1.15zM58.4 96.8h1.15v1.15h-1.15zM30.0 82.7h1.15v1.15h-1.15zM30.6 95.0h1.15v1.15h-1.15zM51.0 99.4h1.15v1.15h-1.15zM58.6 89.7h1.15v1.15h-1.15zM61.7 100.1h1.15v1.15h-1.15zM54.3 97.5h1.15v1.15h-1.15zM32.4 96.6h1.15v1.15h-1.15zM35.6 84.9h1.15v1.15h-1.15zM44.1 95.0h1.15v1.15h-1.15zM47.7 91.4h1.15v1.15h-1.15zM36.0 95.3h1.15v1.15h-1.15zM39.2 83.3h1.15v1.15h-1.15zM49.6 104.9h1.15v1.15h-1.15zM43.4 85.9h1.15v1.15h-1.15zM65.6 106.8h1.15v1.15h-1.15zM44.7 92.3h1.15v1.15h-1.15zM51.0 116.2h1.15v1.15h-1.15zM50.1 101.4h1.15v1.15h-1.15zM53.9 80.1h1.15v1.15h-1.15zM34.7 84.6h1.15v1.15h-1.15zM53.8 94.7h1.15v1.15h-1.15zM57.2 95.6h1.15v1.15h-1.15zM56.4 91.6h1.15v1.15h-1.15zM34.8 78.4h1.15v1.15h-1.15zM30.3 80.9h1.15v1.15h-1.15zM47.8 98.3h1.15v1.15h-1.15zM69.3 95.4h1.15v1.15h-1.15zM57.2 106.6h1.15v1.15h-1.15zM56.2 101.7h1.15v1.15h-1.15zM65.7 102.1h1.15v1.15h-1.15zM69.8 83.1h1.15v1.15h-1.15zM54.8 85.8h1.15v1.15h-1.15zM36.1 86.9h1.15v1.15h-1.15zM49.9 91.0h1.15v1.15h-1.15zM63.2 97.1h1.15v1.15h-1.15zM45.2 101.3h1.15v1.15h-1.15zM69.0 94.5h1.15v1.15h-1.15zM71.6 96.1h1.15v1.15h-1.15zM42.2 94.9h1.15v1.15h-1.15zM43.4 89.7h1.15v1.15h-1.15zM42.9 95.5h1.15v1.15h-1.15zM63.9 92.5h1.15v1.15h-1.15zM45.1 96.6h1.15v1.15h-1.15zM45.4 79.2h1.15v1.15h-1.15zM51.7 91.0h1.15v1.15h-1.15zM41.3 98.7h1.15v1.15h-1.15zM49.0 89.6h1.15v1.15h-1.15zM21.2 80.8h1.15v1.15h-1.15zM48.6 93.0h1.15v1.15h-1.15zM53.9 95.6h1.15v1.15h-1.15zM42.4 84.3h1.15v1.15h-1.15zM34.7 92.8h1.15v1.15h-1.15zM34.0 99.6h1.15v1.15h-1.15zM31.8 80.3h1.15v1.15h-1.15zM46.0 80.4h1.15v1.15h-1.15zM68.7 86.4h1.15v1.15h-1.15zM47.8 92.0h1.15v1.15h-1.15zM38.2 80.5h1.15v1.15h-1.15zM25.1 100.5h1.15v1.15h-1.15zM61.2 110.3h1.15v1.15h-1.15zM30.1 98.2h1.15v1.15h-1.15zM48.2 100.3h1.15v1.15h-1.15zM42.0 99.4h1.15v1.15h-1.15zM59.6 98.5h1.15v1.15h-1.15zM66.5 92.6h1.15v1.15h-1.15zM67.7 88.6h1.15v1.15h-1.15zM69.2 73.0h1.15v1.15h-1.15zM48.6 87.8h1.15v1.15h-1.15zM48.4 101.7h1.15v1.15h-1.15zM57.4 94.6h1.15v1.15h-1.15zM69.7 82.7h1.15v1.15h-1.15zM38.2 105.4h1.15v1.15h-1.15zM52.5 78.1h1.15v1.15h-1.15zM52.7 84.9h1.15v1.15h-1.15zM66.9 102.6h1.15v1.15h-1.15zM41.6 103.7h1.15v1.15h-1.15zM38.0 100.9h1.15v1.15h-1.15zM55.6 92.9h1.15v1.15h-1.15zM30.6 91.8h1.15v1.15h-1.15zM19.8 89.6h1.15v1.15h-1.15zM25.3 103.1h1.15v1.15h-1.15zM36.3 75.4h1.15v1.15h-1.15zM55.7 96.7h1.15v1.15h-1.15zM42.1 110.0h1.15v1.15h-1.15zM58.1 94.4h1.15v1.15h-1.15zM40.3 71.4h1.15v1.15h-1.15zM54.4 101.2h1.15v1.15h-1.15zM41.0 83.2h1.15v1.15h-1.15zM47.9 81.2h1.15v1.15h-1.15zM48.5 99.8h1.15v1.15h-1.15zM67.3 95.9h1.15v1.15h-1.15zM50.9 99.6h1.15v1.15h-1.15zM65.9 91.5h1.15v1.15h-1.15zM33.0 87.9h1.15v1.15h-1.15zM32.7 87.1h1.15v1.15h-1.15zM46.9 96.5h1.15v1.15h-1.15zM50.4 94.4h1.15v1.15h-1.15zM43.9 97.1h1.15v1.15h-1.15zM59.5 99.7h1.15v1.15h-1.15zM67.1 91.7h1.15v1.15h-1.15zM45.3 106.8h1.15v1.15h-1.15zM50.9 97.0h1.15v1.15h-1.15zM44.2 101.3h1.15v1.15h-1.15zM43.4 86.2h1.15v1.15h-1.15zM47.6 90.5h1.15v1.15h-1.15zM58.8 91.0h1.15v1.15h-1.15zM49.9 92.3h1.15v1.15h-1.15zM52.7 89.1h1.15v1.15h-1.15zM62.2 83.1h1.15v1.15h-1.15zM43.6 88.5h1.15v1.15h-1.15zM56.5 94.2h1.15v1.15h-1.15zM54.5 91.4h1.15v1.15h-1.15zM39.4 85.4h1.15v1.15h-1.15zM44.2 89.8h1.15v1.15h-1.15zM51.9 96.6h1.15v1.15h-1.15zM60.6 93.1h1.15v1.15h-1.15zM39.0 85.8h1.15v1.15h-1.15zM49.2 96.6h1.15v1.15h-1.15zM60.0 92.2h1.15v1.15h-1.15zM47.2 89.8h1.15v1.15h-1.15zM50.6 88.3h1.15v1.15h-1.15zM38.3 100.8h1.15v1.15h-1.15zM55.6 97.6h1.15v1.15h-1.15zM51.3 87.9h1.15v1.15h-1.15zM32.8 102.7h1.15v1.15h-1.15zM49.7 98.8h1.15v1.15h-1.15zM50.8 101.2h1.15v1.15h-1.15zM36.5 102.0h1.15v1.15h-1.15zM23.6 96.6h1.15v1.15h-1.15zM65.9 97.4h1.15v1.15h-1.15zM53.1 89.1h1.15v1.15h-1.15zM61.6 95.4h1.15v1.15h-1.15zM58.8 99.5h1.15v1.15h-1.15zM47.1 90.6h1.15v1.15h-1.15zM58.9 99.8h1.15v1.15h-1.15zM52.6 98.8h1.15v1.15h-1.15zM42.6 95.3h1.15v1.15h-1.15zM59.2 96.9h1.15v1.15h-1.15zM19.6 97.3h1.15v1.15h-1.15zM43.9 92.9h1.15v1.15h-1.15zM52.0 106.3h1.15v1.15h-1.15zM25.1 88.0h1.15v1.15h-1.15zM62.7 90.7h1.15v1.15h-1.15zM48.9 98.5h1.15v1.15h-1.15zM54.1 90.0h1.15v1.15h-1.15zM56.9 96.9h1.15v1.15h-1.15zM60.7 90.0h1.15v1.15h-1.15zM47.8 90.9h1.15v1.15h-1.15zM37.9 95.8h1.15v1.15h-1.15zM53.5 104.7h1.15v1.15h-1.15zM44.3 96.8h1.15v1.15h-1.15zM62.7 93.0h1.15v1.15h-1.15zM49.2 94.9h1.15v1.15h-1.15zM39.8 86.4h1.15v1.15h-1.15zM62.3 95.2h1.15v1.15h-1.15zM47.5 84.5h1.15v1.15h-1.15zM49.9 102.8h1.15v1.15h-1.15zM34.1 87.1h1.15v1.15h-1.15zM62.2 104.7h1.15v1.15h-1.15zM67.7 89.7h1.15v1.15h-1.15zM55.9 88.2h1.15v1.15h-1.15zM54.9 91.1h1.15v1.15h-1.15zM50.8 104.1h1.15v1.15h-1.15zM52.6 92.1h1.15v1.15h-1.15zM49.1 95.9h1.15v1.15h-1.15zM42.0 95.5h1.15v1.15h-1.15zM55.9 105.7h1.15v1.15h-1.15zM22.8 84.9h1.15v1.15h-1.15zM33.0 100.5h1.15v1.15h-1.15zM33.6 95.2h1.15v1.15h-1.15zM62.2 91.1h1.15v1.15h-1.15zM65.8 93.4h1.15v1.15h-1.15zM53.4 108.0h1.15v1.15h-1.15zM63.1 122.5h1.15v1.15h-1.15zM39.8 95.4h1.15v1.15h-1.15zM59.1 92.3h1.15v1.15h-1.15zM38.8 97.7h1.15v1.15h-1.15zM47.1 92.5h1.15v1.15h-1.15zM43.2 97.1h1.15v1.15h-1.15zM48.5 93.8h1.15v1.15h-1.15zM40.9 90.2h1.15v1.15h-1.15zM33.0 96.7h1.15v1.15h-1.15zM46.8 89.9h1.15v1.15h-1.15zM48.8 97.7h1.15v1.15h-1.15zM55.3 92.8h1.15v1.15h-1.15zM58.3 100.9h1.15v1.15h-1.15zM25.7 86.1h1.15v1.15h-1.15zM57.0 95.8h1.15v1.15h-1.15zM56.6 102.7h1.15v1.15h-1.15zM36.1 96.2h1.15v1.15h-1.15zM62.5 86.7h1.15v1.15h-1.15zM68.4 79.2h1.15v1.15h-1.15zM44.9 111.9h1.15v1.15h-1.15zM45.0 95.3h1.15v1.15h-1.15zM53.4 92.1h1.15v1.15h-1.15zM58.7 94.6h1.15v1.15h-1.15zM40.5 113.1h1.15v1.15h-1.15zM57.4 88.1h1.15v1.15h-1.15zM24.5 91.2h1.15v1.15h-1.15zM54.8 83.5h1.15v1.15h-1.15zM42.2 93.6h1.15v1.15h-1.15zM49.1 105.0h1.15v1.15h-1.15zM29.2 86.9h1.15v1.15h-1.15zM56.4 104.5h1.15v1.15h-1.15zM48.1 99.5h1.15v1.15h-1.15zM38.2 100.8h1.15v1.15h-1.15zM46.2 91.2h1.15v1.15h-1.15zM47.4 83.3h1.15v1.15h-1.15zM30.0 95.9h1.15v1.15h-1.15zM48.9 92.9h1.15v1.15h-1.15zM29.8 95.7h1.15v1.15h-1.15zM43.8 83.3h1.15v1.15h-1.15zM61.8 111.3h1.15v1.15h-1.15zM50.4 88.5h1.15v1.15h-1.15zM19.9 102.0h1.15v1.15h-1.15zM51.8 101.4h1.15v1.15h-1.15zM47.3 86.8h1.15v1.15h-1.15zM37.3 82.8h1.15v1.15h-1.15zM54.6 97.8h1.15v1.15h-1.15zM50.5 99.7h1.15v1.15h-1.15zM55.0 94.8h1.15v1.15h-1.15zM37.5 98.3h1.15v1.15h-1.15zM63.0 98.6h1.15v1.15h-1.15zM63.7 90.4h1.15v1.15h-1.15zM36.4 103.2h1.15v1.15h-1.15zM41.2 95.7h1.15v1.15h-1.15zM46.1 94.1h1.15v1.15h-1.15zM45.1 89.9h1.15v1.15h-1.15zM26.5 108.1h1.15v1.15h-1.15zM50.9 79.5h1.15v1.15h-1.15zM37.3 85.5h1.15v1.15h-1.15zM39.3 74.9h1.15v1.15h-1.15zM55.5 106.1h1.15v1.15h-1.15zM45.4 99.4h1.15v1.15h-1.15zM55.8 84.6h1.15v1.15h-1.15zM63.3 81.3h1.15v1.15h-1.15zM41.3 91.2h1.15v1.15h-1.15zM63.8 94.8h1.15v1.15h-1.15zM46.9 87.9h1.15v1.15h-1.15zM49.5 94.2h1.15v1.15h-1.15zM57.3 104.3h1.15v1.15h-1.15zM57.4 94.0h1.15v1.15h-1.15zM46.5 105.8h1.15v1.15h-1.15zM50.9 93.8h1.15v1.15h-1.15zM70.4 105.6h1.15v1.15h-1.15zM55.4 93.1h1.15v1.15h-1.15zM40.6 101.8h1.15v1.15h-1.15zM42.9 101.0h1.15v1.15h-1.15zM38.8 94.7h1.15v1.15h-1.15zM53.3 95.0h1.15v1.15h-1.15zM51.3 96.7h1.15v1.15h-1.15zM34.7 85.6h1.15v1.15h-1.15zM46.6 107.3h1.15v1.15h-1.15zM46.9 87.0h1.15v1.15h-1.15zM40.3 94.2h1.15v1.15h-1.15zM62.9 89.7h1.15v1.15h-1.15zM55.3 95.3h1.15v1.15h-1.15zM44.1 86.9h1.15v1.15h-1.15zM46.5 88.5h1.15v1.15h-1.15zM55.0 80.8h1.15v1.15h-1.15zM62.2 99.5h1.15v1.15h-1.15zM55.5 105.0h1.15v1.15h-1.15zM55.8 81.2h1.15v1.15h-1.15zM49.1 97.2h1.15v1.15h-1.15zM40.1 85.5h1.15v1.15h-1.15zM53.7 97.7h1.15v1.15h-1.15zM43.2 92.1h1.15v1.15h-1.15zM42.2 89.7h1.15v1.15h-1.15zM47.7 101.9h1.15v1.15h-1.15zM28.8 91.4h1.15v1.15h-1.15zM68.1 96.3h1.15v1.15h-1.15zM50.3 100.1h1.15v1.15h-1.15zM36.2 84.9h1.15v1.15h-1.15zM28.2 83.1h1.15v1.15h-1.15zM51.4 100.2h1.15v1.15h-1.15zM43.3 88.9h1.15v1.15h-1.15zM53.3 98.4h1.15v1.15h-1.15zM51.5 79.8h1.15v1.15h-1.15zM41.8 75.1h1.15v1.15h-1.15zM51.4 87.6h1.15v1.15h-1.15zM40.4 105.0h1.15v1.15h-1.15zM64.5 97.5h1.15v1.15h-1.15zM51.8 95.2h1.15v1.15h-1.15zM41.3 93.5h1.15v1.15h-1.15zM50.4 97.5h1.15v1.15h-1.15zM33.2 93.5h1.15v1.15h-1.15zM35.5 103.1h1.15v1.15h-1.15zM27.2 91.5h1.15v1.15h-1.15zM52.1 95.7h1.15v1.15h-1.15zM37.5 99.6h1.15v1.15h-1.15zM48.1 105.2h1.15v1.15h-1.15zM50.3 100.4h1.15v1.15h-1.15zM28.9 95.6h1.15v1.15h-1.15zM49.9 86.6h1.15v1.15h-1.15zM21.3 99.6h1.15v1.15h-1.15zM64.3 89.6h1.15v1.15h-1.15zM59.3 99.0h1.15v1.15h-1.15zM41.8 89.2h1.15v1.15h-1.15zM82.7 98.9h1.15v1.15h-1.15zM58.0 100.1h1.15v1.15h-1.15zM40.7 89.5h1.15v1.15h-1.15zM67.3 99.2h1.15v1.15h-1.15zM50.1 85.8h1.15v1.15h-1.15zM59.1 97.8h1.15v1.15h-1.15zM43.3 106.5h1.15v1.15h-1.15zM52.3 96.6h1.15v1.15h-1.15zM55.2 95.9h1.15v1.15h-1.15zM25.2 91.0h1.15v1.15h-1.15zM52.2 98.0h1.15v1.15h-1.15zM49.6 85.9h1.15v1.15h-1.15zM45.0 97.2h1.15v1.15h-1.15zM49.9 114.2h1.15v1.15h-1.15zM55.6 97.9h1.15v1.15h-1.15zM46.9 77.9h1.15v1.15h-1.15zM60.1 89.0h1.15v1.15h-1.15zM64.8 91.1h1.15v1.15h-1.15zM45.0 102.2h1.15v1.15h-1.15zM44.1 81.8h1.15v1.15h-1.15zM54.0 97.5h1.15v1.15h-1.15zM54.1 93.0h1.15v1.15h-1.15zM52.8 87.5h1.15v1.15h-1.15zM48.5 99.7h1.15v1.15h-1.15zM17.8 98.4h1.15v1.15h-1.15zM55.1 88.6h1.15v1.15h-1.15zM58.0 105.0h1.15v1.15h-1.15zM44.0 98.0h1.15v1.15h-1.15zM28.2 100.8h1.15v1.15h-1.15zM59.1 86.4h1.15v1.15h-1.15zM69.6 94.7h1.15v1.15h-1.15zM27.4 83.8h1.15v1.15h-1.15zM59.0 91.9h1.15v1.15h-1.15zM61.8 82.5h1.15v1.15h-1.15zM47.2 101.1h1.15v1.15h-1.15zM40.2 98.9h1.15v1.15h-1.15zM44.0 96.4h1.15v1.15h-1.15zM52.3 110.4h1.15v1.15h-1.15zM33.4 99.7h1.15v1.15h-1.15zM64.3 85.6h1.15v1.15h-1.15zM49.4 111.0h1.15v1.15h-1.15zM61.2 72.0h1.15v1.15h-1.15zM45.5 81.3h1.15v1.15h-1.15zM52.1 88.5h1.15v1.15h-1.15zM41.6 87.7h1.15v1.15h-1.15zM52.0 90.5h1.15v1.15h-1.15zM37.4 92.2h1.15v1.15h-1.15zM53.3 87.6h1.15v1.15h-1.15zM61.9 81.6h1.15v1.15h-1.15zM53.4 91.0h1.15v1.15h-1.15zM67.5 89.2h1.15v1.15h-1.15zM40.3 84.0h1.15v1.15h-1.15zM37.5 95.8h1.15v1.15h-1.15zM52.9 80.9h1.15v1.15h-1.15zM54.3 90.1h1.15v1.15h-1.15zM43.3 98.8h1.15v1.15h-1.15zM57.4 97.9h1.15v1.15h-1.15zM52.6 95.1h1.15v1.15h-1.15zM47.9 88.9h1.15v1.15h-1.15zM36.1 95.7h1.15v1.15h-1.15zM58.4 76.0h1.15v1.15h-1.15zM41.9 103.9h1.15v1.15h-1.15zM59.5 88.6h1.15v1.15h-1.15zM64.8 86.6h1.15v1.15h-1.15zM38.8 108.2h1.15v1.15h-1.15zM43.1 92.3h1.15v1.15h-1.15zM28.4 86.4h1.15v1.15h-1.15zM34.1 92.9h1.15v1.15h-1.15zM26.1 101.8h1.15v1.15h-1.15zM44.1 89.4h1.15v1.15h-1.15zM40.7 99.4h1.15v1.15h-1.15zM67.0 90.9h1.15v1.15h-1.15zM68.0 105.8h1.15v1.15h-1.15zM64.7 96.1h1.15v1.15h-1.15zM30.3 98.9h1.15v1.15h-1.15zM43.4 95.3h1.15v1.15h-1.15zM25.5 91.8h1.15v1.15h-1.15zM51.2 87.0h1.15v1.15h-1.15zM52.0 106.3h1.15v1.15h-1.15zM51.2 88.8h1.15v1.15h-1.15zM34.0 102.1h1.15v1.15h-1.15zM56.0 91.7h1.15v1.15h-1.15zM44.8 100.3h1.15v1.15h-1.15zM47.5 89.0h1.15v1.15h-1.15zM34.3 91.3h1.15v1.15h-1.15zM45.0 90.2h1.15v1.15h-1.15zM50.6 89.3h1.15v1.15h-1.15zM61.8 88.8h1.15v1.15h-1.15zM49.9 78.6h1.15v1.15h-1.15zM30.1 107.1h1.15v1.15h-1.15zM49.1 95.5h1.15v1.15h-1.15zM21.7 93.7h1.15v1.15h-1.15zM63.0 89.9h1.15v1.15h-1.15zM59.3 102.3h1.15v1.15h-1.15zM52.7 86.4h1.15v1.15h-1.15zM40.6 90.4h1.15v1.15h-1.15zM46.3 101.7h1.15v1.15h-1.15zM34.4 93.2h1.15v1.15h-1.15zM49.5 94.3h1.15v1.15h-1.15zM37.7 104.1h1.15v1.15h-1.15zM48.3 88.3h1.15v1.15h-1.15zM47.9 103.1h1.15v1.15h-1.15zM56.1 103.1h1.15v1.15h-1.15zM55.3 91.0h1.15v1.15h-1.15zM31.2 87.7h1.15v1.15h-1.15zM48.3 81.9h1.15v1.15h-1.15zM46.0 88.0h1.15v1.15h-1.15zM63.4 79.2h1.15v1.15h-1.15zM52.5 95.4h1.15v1.15h-1.15zM53.9 83.0h1.15v1.15h-1.15zM57.1 100.5h1.15v1.15h-1.15zM20.4 73.7h1.15v1.15h-1.15zM37.4 105.0h1.15v1.15h-1.15zM48.7 99.0h1.15v1.15h-1.15zM55.2 100.5h1.15v1.15h-1.15zM40.6 89.5h1.15v1.15h-1.15zM53.0 98.4h1.15v1.15h-1.15zM55.4 96.4h1.15v1.15h-1.15zM42.4 102.1h1.15v1.15h-1.15zM54.2 101.8h1.15v1.15h-1.15zM18.1 101.4h1.15v1.15h-1.15zM61.7 91.0h1.15v1.15h-1.15zM53.8 103.5h1.15v1.15h-1.15zM53.1 97.6h1.15v1.15h-1.15zM65.8 99.2h1.15v1.15h-1.15zM60.8 92.3h1.15v1.15h-1.15zM40.4 100.2h1.15v1.15h-1.15zM37.0 103.2h1.15v1.15h-1.15zM42.8 96.6h1.15v1.15h-1.15zM59.1 86.4h1.15v1.15h-1.15zM37.6 102.4h1.15v1.15h-1.15zM59.5 90.2h1.15v1.15h-1.15zM38.8 96.5h1.15v1.15h-1.15zM31.0 90.2h1.15v1.15h-1.15zM45.5 75.4h1.15v1.15h-1.15zM55.7 99.6h1.15v1.15h-1.15zM61.6 83.1h1.15v1.15h-1.15zM32.5 87.8h1.15v1.15h-1.15zM32.3 109.3h1.15v1.15h-1.15zM36.3 91.5h1.15v1.15h-1.15zM51.0 97.3h1.15v1.15h-1.15zM66.4 85.7h1.15v1.15h-1.15zM59.3 95.0h1.15v1.15h-1.15zM33.9 95.0h1.15v1.15h-1.15zM31.0 106.1h1.15v1.15h-1.15zM39.4 101.5h1.15v1.15h-1.15zM64.5 89.2h1.15v1.15h-1.15zM37.3 94.9h1.15v1.15h-1.15zM35.4 100.7h1.15v1.15h-1.15zM50.6 88.1h1.15v1.15h-1.15zM39.9 99.4h1.15v1.15h-1.15zM30.4 106.6h1.15v1.15h-1.15zM38.7 92.4h1.15v1.15h-1.15zM36.9 106.2h1.15v1.15h-1.15zM58.6 103.7h1.15v1.15h-1.15zM56.5 94.6h1.15v1.15h-1.15zM69.5 98.9h1.15v1.15h-1.15zM53.8 98.3h1.15v1.15h-1.15zM57.6 96.0h1.15v1.15h-1.15zM46.3 81.8h1.15v1.15h-1.15zM53.2 92.3h1.15v1.15h-1.15zM60.3 90.2h1.15v1.15h-1.15zM55.7 105.7h1.15v1.15h-1.15zM56.2 88.1h1.15v1.15h-1.15zM69.6 102.4h1.15v1.15h-1.15zM48.8 83.7h1.15v1.15h-1.15zM51.8 93.6h1.15v1.15h-1.15zM54.4 95.2h1.15v1.15h-1.15zM67.8 95.5h1.15v1.15h-1.15zM44.2 91.2h1.15v1.15h-1.15zM52.5 98.0h1.15v1.15h-1.15zM34.0 86.7h1.15v1.15h-1.15zM60.0 92.5h1.15v1.15h-1.15zM61.6 92.8h1.15v1.15h-1.15zM41.0 97.6h1.15v1.15h-1.15zM52.1 114.4h1.15v1.15h-1.15zM67.9 93.5h1.15v1.15h-1.15zM52.0 98.2h1.15v1.15h-1.15zM55.1 99.7h1.15v1.15h-1.15zM48.0 91.3h1.15v1.15h-1.15zM29.9 91.7h1.15v1.15h-1.15zM61.6 95.6h1.15v1.15h-1.15zM52.6 84.3h1.15v1.15h-1.15zM23.8 98.6h1.15v1.15h-1.15zM39.3 89.8h1.15v1.15h-1.15zM24.6 105.0h1.15v1.15h-1.15zM66.0 80.9h1.15v1.15h-1.15zM42.0 92.3h1.15v1.15h-1.15zM54.0 100.6h1.15v1.15h-1.15zM48.0 93.2h1.15v1.15h-1.15zM55.5 81.3h1.15v1.15h-1.15zM47.1 93.8h1.15v1.15h-1.15zM52.2 86.4h1.15v1.15h-1.15zM40.5 85.3h1.15v1.15h-1.15zM46.7 86.2h1.15v1.15h-1.15zM78.6 89.2h1.15v1.15h-1.15zM40.2 89.5h1.15v1.15h-1.15zM41.3 98.1h1.15v1.15h-1.15zM66.6 86.2h1.15v1.15h-1.15zM53.9 80.2h1.15v1.15h-1.15zM67.4 93.2h1.15v1.15h-1.15zM39.6 105.5h1.15v1.15h-1.15zM47.1 104.3h1.15v1.15h-1.15zM61.8 106.5h1.15v1.15h-1.15zM38.4 94.3h1.15v1.15h-1.15zM53.0 92.4h1.15v1.15h-1.15zM67.4 88.5h1.15v1.15h-1.15zM60.9 104.3h1.15v1.15h-1.15zM24.0 86.5h1.15v1.15h-1.15zM37.1 89.7h1.15v1.15h-1.15zM53.3 92.6h1.15v1.15h-1.15zM49.4 90.4h1.15v1.15h-1.15zM47.4 97.6h1.15v1.15h-1.15zM57.7 88.0h1.15v1.15h-1.15zM37.6 95.8h1.15v1.15h-1.15zM36.5 89.0h1.15v1.15h-1.15zM54.7 110.1h1.15v1.15h-1.15zM37.4 96.6h1.15v1.15h-1.15zM32.1 96.7h1.15v1.15h-1.15zM18.5 119.7h1.15v1.15h-1.15zM56.3 103.3h1.15v1.15h-1.15zM18.3 95.5h1.15v1.15h-1.15zM18.0 108.8h1.15v1.15h-1.15zM56.6 99.9h1.15v1.15h-1.15zM59.0 114.7h1.15v1.15h-1.15zM54.2 115.3h1.15v1.15h-1.15zM84.4 113.2h1.15v1.15h-1.15zM17.8 99.2h1.15v1.15h-1.15zM29.3 96.0h1.15v1.15h-1.15zM39.6 121.8h1.15v1.15h-1.15zM57.2 105.8h1.15v1.15h-1.15zM66.1 113.5h1.15v1.15h-1.15zM42.7 101.8h1.15v1.15h-1.15zM21.8 105.9h1.15v1.15h-1.15zM34.3 87.5h1.15v1.15h-1.15zM18.8 122.8h1.15v1.15h-1.15zM42.8 108.4h1.15v1.15h-1.15zM42.6 98.8h1.15v1.15h-1.15zM46.8 114.2h1.15v1.15h-1.15zM34.5 108.5h1.15v1.15h-1.15zM55.8 98.6h1.15v1.15h-1.15zM42.1 96.0h1.15v1.15h-1.15zM49.0 99.7h1.15v1.15h-1.15zM57.7 95.8h1.15v1.15h-1.15zM66.4 100.3h1.15v1.15h-1.15zM26.0 94.4h1.15v1.15h-1.15zM50.0 94.8h1.15v1.15h-1.15zM68.3 116.2h1.15v1.15h-1.15zM47.7 89.2h1.15v1.15h-1.15zM39.0 96.1h1.15v1.15h-1.15zM18.5 107.7h1.15v1.15h-1.15zM47.8 100.7h1.15v1.15h-1.15zM31.2 91.8h1.15v1.15h-1.15zM31.4 106.8h1.15v1.15h-1.15zM51.1 112.0h1.15v1.15h-1.15zM26.8 103.7h1.15v1.15h-1.15zM25.7 112.8h1.15v1.15h-1.15zM41.0 90.1h1.15v1.15h-1.15zM56.9 121.1h1.15v1.15h-1.15zM18.5 122.1h1.15v1.15h-1.15zM52.8 113.6h1.15v1.15h-1.15zM54.8 101.4h1.15v1.15h-1.15zM26.1 100.8h1.15v1.15h-1.15zM50.1 104.6h1.15v1.15h-1.15zM48.7 109.1h1.15v1.15h-1.15zM25.3 94.0h1.15v1.15h-1.15zM62.5 98.5h1.15v1.15h-1.15zM18.2 122.0h1.15v1.15h-1.15zM18.2 98.1h1.15v1.15h-1.15zM25.5 113.9h1.15v1.15h-1.15zM26.3 128.5h1.15v1.15h-1.15zM41.0 130.2h1.15v1.15h-1.15zM41.5 104.0h1.15v1.15h-1.15zM29.1 101.2h1.15v1.15h-1.15zM31.4 103.2h1.15v1.15h-1.15zM51.7 90.7h1.15v1.15h-1.15zM24.7 82.5h1.15v1.15h-1.15zM63.5 102.7h1.15v1.15h-1.15zM39.2 102.8h1.15v1.15h-1.15zM55.5 106.6h1.15v1.15h-1.15zM53.0 101.7h1.15v1.15h-1.15zM37.5 102.8h1.15v1.15h-1.15zM18.2 114.3h1.15v1.15h-1.15zM40.6 102.0h1.15v1.15h-1.15zM42.3 109.4h1.15v1.15h-1.15zM43.1 99.4h1.15v1.15h-1.15zM50.9 100.1h1.15v1.15h-1.15zM53.5 95.2h1.15v1.15h-1.15zM20.8 126.7h1.15v1.15h-1.15zM18.9 112.1h1.15v1.15h-1.15zM66.9 111.1h1.15v1.15h-1.15zM47.1 102.8h1.15v1.15h-1.15zM39.1 95.5h1.15v1.15h-1.15zM48.5 111.0h1.15v1.15h-1.15zM18.5 82.3h1.15v1.15h-1.15zM90.2 102.2h1.15v1.15h-1.15zM22.8 93.2h1.15v1.15h-1.15zM53.0 117.0h1.15v1.15h-1.15zM25.1 100.4h1.15v1.15h-1.15zM49.3 98.9h1.15v1.15h-1.15zM45.3 108.0h1.15v1.15h-1.15zM52.0 114.2h1.15v1.15h-1.15zM42.4 97.8h1.15v1.15h-1.15zM18.5 103.2h1.15v1.15h-1.15zM24.1 99.6h1.15v1.15h-1.15zM36.7 102.9h1.15v1.15h-1.15zM55.1 107.1h1.15v1.15h-1.15zM41.6 120.2h1.15v1.15h-1.15zM40.9 122.0h1.15v1.15h-1.15zM39.8 107.8h1.15v1.15h-1.15zM23.7 104.8h1.15v1.15h-1.15zM25.5 118.0h1.15v1.15h-1.15zM43.5 118.1h1.15v1.15h-1.15zM48.3 93.9h1.15v1.15h-1.15zM18.2 103.0h1.15v1.15h-1.15zM42.0 106.8h1.15v1.15h-1.15zM51.9 107.8h1.15v1.15h-1.15zM59.0 111.1h1.15v1.15h-1.15zM27.2 107.4h1.15v1.15h-1.15zM17.9 101.6h1.15v1.15h-1.15zM47.1 110.5h1.15v1.15h-1.15zM23.6 123.0h1.15v1.15h-1.15zM34.8 93.2h1.15v1.15h-1.15zM41.9 106.0h1.15v1.15h-1.15zM61.7 116.9h1.15v1.15h-1.15zM33.8 98.7h1.15v1.15h-1.15zM35.5 100.9h1.15v1.15h-1.15zM25.0 103.0h1.15v1.15h-1.15zM60.5 113.3h1.15v1.15h-1.15zM35.4 91.7h1.15v1.15h-1.15zM51.1 116.4h1.15v1.15h-1.15zM17.9 109.4h1.15v1.15h-1.15zM68.4 115.1h1.15v1.15h-1.15zM50.8 103.6h1.15v1.15h-1.15zM30.9 107.4h1.15v1.15h-1.15zM60.2 111.4h1.15v1.15h-1.15zM53.8 103.1h1.15v1.15h-1.15zM37.0 118.2h1.15v1.15h-1.15zM42.2 113.4h1.15v1.15h-1.15zM33.0 93.6h1.15v1.15h-1.15zM42.8 106.6h1.15v1.15h-1.15zM18.4 95.2h1.15v1.15h-1.15zM54.7 110.3h1.15v1.15h-1.15zM28.9 103.9h1.15v1.15h-1.15zM30.4 93.2h1.15v1.15h-1.15zM44.2 95.7h1.15v1.15h-1.15zM66.3 96.0h1.15v1.15h-1.15zM30.7 104.3h1.15v1.15h-1.15zM31.1 103.9h1.15v1.15h-1.15zM29.7 89.2h1.15v1.15h-1.15zM17.7 90.5h1.15v1.15h-1.15zM33.2 85.9h1.15v1.15h-1.15zM50.1 109.1h1.15v1.15h-1.15zM59.4 107.8h1.15v1.15h-1.15zM36.9 94.3h1.15v1.15h-1.15zM34.3 94.4h1.15v1.15h-1.15zM36.4 95.6h1.15v1.15h-1.15zM56.4 101.9h1.15v1.15h-1.15zM46.4 103.5h1.15v1.15h-1.15zM34.6 83.6h1.15v1.15h-1.15zM33.3 99.0h1.15v1.15h-1.15zM57.0 92.0h1.15v1.15h-1.15zM51.1 109.9h1.15v1.15h-1.15zM38.8 102.6h1.15v1.15h-1.15zM53.8 105.9h1.15v1.15h-1.15zM77.2 79.7h1.15v1.15h-1.15zM24.8 123.3h1.15v1.15h-1.15zM46.6 83.9h1.15v1.15h-1.15zM18.2 89.5h1.15v1.15h-1.15zM59.0 99.2h1.15v1.15h-1.15zM45.8 114.8h1.15v1.15h-1.15zM25.0 104.4h1.15v1.15h-1.15zM26.0 111.9h1.15v1.15h-1.15zM29.7 99.7h1.15v1.15h-1.15zM36.2 115.0h1.15v1.15h-1.15zM22.7 103.1h1.15v1.15h-1.15zM34.1 97.9h1.15v1.15h-1.15zM26.8 101.8h1.15v1.15h-1.15zM42.5 87.9h1.15v1.15h-1.15zM43.1 91.6h1.15v1.15h-1.15zM39.6 126.2h1.15v1.15h-1.15zM23.9 102.7h1.15v1.15h-1.15zM35.3 113.2h1.15v1.15h-1.15zM31.8 85.5h1.15v1.15h-1.15zM17.9 105.2h1.15v1.15h-1.15zM25.0 106.2h1.15v1.15h-1.15zM34.2 112.3h1.15v1.15h-1.15zM40.2 87.1h1.15v1.15h-1.15zM42.5 110.4h1.15v1.15h-1.15zM44.4 89.2h1.15v1.15h-1.15zM29.2 90.7h1.15v1.15h-1.15zM35.0 95.9h1.15v1.15h-1.15zM53.4 106.9h1.15v1.15h-1.15zM79.5 108.6h1.15v1.15h-1.15zM18.5 101.1h1.15v1.15h-1.15zM43.3 96.6h1.15v1.15h-1.15zM35.4 107.5h1.15v1.15h-1.15zM46.8 87.7h1.15v1.15h-1.15zM24.1 104.1h1.15v1.15h-1.15zM37.1 114.9h1.15v1.15h-1.15zM31.4 82.8h1.15v1.15h-1.15zM58.1 87.0h1.15v1.15h-1.15zM23.9 107.3h1.15v1.15h-1.15zM22.5 128.3h1.15v1.15h-1.15zM43.2 108.8h1.15v1.15h-1.15zM32.4 125.6h1.15v1.15h-1.15zM48.0 96.2h1.15v1.15h-1.15zM59.5 86.5h1.15v1.15h-1.15zM30.0 106.3h1.15v1.15h-1.15zM41.6 93.8h1.15v1.15h-1.15zM64.7 118.1h1.15v1.15h-1.15zM24.4 107.1h1.15v1.15h-1.15zM29.3 99.1h1.15v1.15h-1.15zM55.2 104.7h1.15v1.15h-1.15zM37.7 104.4h1.15v1.15h-1.15zM20.6 115.6h1.15v1.15h-1.15zM27.4 116.5h1.15v1.15h-1.15zM32.1 98.8h1.15v1.15h-1.15zM63.2 105.3h1.15v1.15h-1.15zM29.2 98.0h1.15v1.15h-1.15zM49.1 122.1h1.15v1.15h-1.15zM49.2 99.5h1.15v1.15h-1.15zM21.5 96.7h1.15v1.15h-1.15zM37.5 105.8h1.15v1.15h-1.15zM28.9 116.2h1.15v1.15h-1.15zM24.1 96.3h1.15v1.15h-1.15zM47.4 108.2h1.15v1.15h-1.15zM33.2 113.0h1.15v1.15h-1.15zM17.8 119.7h1.15v1.15h-1.15zM51.2 102.8h1.15v1.15h-1.15zM46.8 97.5h1.15v1.15h-1.15zM26.1 98.3h1.15v1.15h-1.15zM67.1 107.6h1.15v1.15h-1.15zM44.1 96.0h1.15v1.15h-1.15zM42.4 92.1h1.15v1.15h-1.15zM44.7 103.1h1.15v1.15h-1.15zM31.0 108.3h1.15v1.15h-1.15zM19.8 91.1h1.15v1.15h-1.15zM50.4 92.8h1.15v1.15h-1.15zM17.8 115.1h1.15v1.15h-1.15zM37.7 120.1h1.15v1.15h-1.15zM17.8 114.9h1.15v1.15h-1.15zM28.7 105.0h1.15v1.15h-1.15zM46.5 103.5h1.15v1.15h-1.15zM52.3 108.6h1.15v1.15h-1.15zM22.0 108.3h1.15v1.15h-1.15zM33.3 118.5h1.15v1.15h-1.15zM17.8 100.5h1.15v1.15h-1.15zM20.8 102.6h1.15v1.15h-1.15zM17.9 117.7h1.15v1.15h-1.15zM50.2 96.9h1.15v1.15h-1.15zM28.1 115.3h1.15v1.15h-1.15zM27.3 100.2h1.15v1.15h-1.15zM73.8 116.0h1.15v1.15h-1.15zM34.0 107.0h1.15v1.15h-1.15zM28.5 93.1h1.15v1.15h-1.15zM32.7 111.3h1.15v1.15h-1.15zM47.6 95.9h1.15v1.15h-1.15zM18.0 115.8h1.15v1.15h-1.15zM31.6 106.8h1.15v1.15h-1.15zM27.0 90.8h1.15v1.15h-1.15zM24.0 106.8h1.15v1.15h-1.15zM42.5 121.0h1.15v1.15h-1.15zM18.0 108.4h1.15v1.15h-1.15zM39.0 101.0h1.15v1.15h-1.15zM47.1 128.4h1.15v1.15h-1.15zM29.5 89.7h1.15v1.15h-1.15zM21.3 103.6h1.15v1.15h-1.15zM42.6 109.2h1.15v1.15h-1.15zM24.3 91.2h1.15v1.15h-1.15zM38.1 117.8h1.15v1.15h-1.15zM53.9 113.8h1.15v1.15h-1.15zM48.4 113.9h1.15v1.15h-1.15zM31.5 115.0h1.15v1.15h-1.15zM51.6 112.0h1.15v1.15h-1.15zM33.0 99.8h1.15v1.15h-1.15zM30.7 117.5h1.15v1.15h-1.15zM18.2 99.4h1.15v1.15h-1.15zM43.3 90.6h1.15v1.15h-1.15zM42.4 114.0h1.15v1.15h-1.15zM49.4 92.1h1.15v1.15h-1.15zM39.7 93.9h1.15v1.15h-1.15zM18.4 111.8h1.15v1.15h-1.15zM35.0 99.5h1.15v1.15h-1.15zM36.2 101.7h1.15v1.15h-1.15zM78.6 92.6h1.15v1.15h-1.15zM37.7 95.6h1.15v1.15h-1.15zM45.1 98.3h1.15v1.15h-1.15zM48.5 92.7h1.15v1.15h-1.15zM72.9 105.5h1.15v1.15h-1.15zM18.3 110.3h1.15v1.15h-1.15zM17.9 99.3h1.15v1.15h-1.15zM51.1 98.0h1.15v1.15h-1.15zM53.7 104.9h1.15v1.15h-1.15zM45.1 105.0h1.15v1.15h-1.15zM33.6 99.8h1.15v1.15h-1.15zM46.6 110.4h1.15v1.15h-1.15zM32.9 125.5h1.15v1.15h-1.15zM66.2 92.1h1.15v1.15h-1.15zM56.6 102.7h1.15v1.15h-1.15zM43.1 95.6h1.15v1.15h-1.15zM65.5 95.3h1.15v1.15h-1.15zM38.1 96.3h1.15v1.15h-1.15zM70.0 115.8h1.15v1.15h-1.15zM18.5 99.0h1.15v1.15h-1.15zM45.2 99.2h1.15v1.15h-1.15zM33.8 92.8h1.15v1.15h-1.15zM43.4 92.6h1.15v1.15h-1.15zM52.6 127.0h1.15v1.15h-1.15zM34.3 119.6h1.15v1.15h-1.15zM45.3 96.8h1.15v1.15h-1.15zM34.0 93.9h1.15v1.15h-1.15zM41.2 110.3h1.15v1.15h-1.15zM54.1 100.7h1.15v1.15h-1.15zM20.6 102.7h1.15v1.15h-1.15zM65.8 106.2h1.15v1.15h-1.15zM38.4 83.0h1.15v1.15h-1.15zM32.6 108.8h1.15v1.15h-1.15zM24.5 116.7h1.15v1.15h-1.15zM30.5 94.9h1.15v1.15h-1.15zM30.3 102.5h1.15v1.15h-1.15zM55.2 97.9h1.15v1.15h-1.15zM17.9 102.6h1.15v1.15h-1.15zM36.8 94.2h1.15v1.15h-1.15zM42.1 99.3h1.15v1.15h-1.15zM35.7 117.4h1.15v1.15h-1.15zM23.9 104.5h1.15v1.15h-1.15zM29.5 100.1h1.15v1.15h-1.15zM38.5 103.6h1.15v1.15h-1.15zM43.1 96.1h1.15v1.15h-1.15zM49.2 92.3h1.15v1.15h-1.15zM21.4 95.0h1.15v1.15h-1.15zM59.0 115.7h1.15v1.15h-1.15zM31.1 122.6h1.15v1.15h-1.15zM44.9 88.7h1.15v1.15h-1.15zM46.2 93.6h1.15v1.15h-1.15zM21.1 81.5h1.15v1.15h-1.15zM42.2 107.7h1.15v1.15h-1.15zM23.2 109.7h1.15v1.15h-1.15zM46.1 109.1h1.15v1.15h-1.15zM50.0 96.0h1.15v1.15h-1.15zM45.4 108.5h1.15v1.15h-1.15zM30.2 100.4h1.15v1.15h-1.15zM19.8 105.3h1.15v1.15h-1.15zM21.8 107.8h1.15v1.15h-1.15zM40.9 101.8h1.15v1.15h-1.15zM49.0 100.6h1.15v1.15h-1.15zM65.9 107.5h1.15v1.15h-1.15zM21.4 98.1h1.15v1.15h-1.15zM45.0 120.5h1.15v1.15h-1.15zM30.5 118.5h1.15v1.15h-1.15zM42.2 116.3h1.15v1.15h-1.15zM30.2 95.7h1.15v1.15h-1.15zM33.6 103.9h1.15v1.15h-1.15zM24.2 91.4h1.15v1.15h-1.15zM50.9 113.8h1.15v1.15h-1.15zM38.6 98.8h1.15v1.15h-1.15zM56.5 86.3h1.15v1.15h-1.15zM50.9 105.8h1.15v1.15h-1.15zM49.9 107.2h1.15v1.15h-1.15zM55.3 109.4h1.15v1.15h-1.15zM39.4 111.8h1.15v1.15h-1.15zM24.4 105.7h1.15v1.15h-1.15zM45.5 87.8h1.15v1.15h-1.15zM48.0 108.1h1.15v1.15h-1.15zM53.7 103.9h1.15v1.15h-1.15zM58.6 113.1h1.15v1.15h-1.15zM49.4 70.9h1.15v1.15h-1.15zM40.5 106.0h1.15v1.15h-1.15zM40.1 93.1h1.15v1.15h-1.15zM53.9 99.2h1.15v1.15h-1.15zM37.0 107.0h1.15v1.15h-1.15zM57.6 99.5h1.15v1.15h-1.15zM23.4 107.3h1.15v1.15h-1.15zM42.9 84.7h1.15v1.15h-1.15zM29.5 104.3h1.15v1.15h-1.15zM18.0 115.1h1.15v1.15h-1.15zM28.5 92.5h1.15v1.15h-1.15zM19.1 106.5h1.15v1.15h-1.15zM40.0 116.2h1.15v1.15h-1.15zM43.7 100.3h1.15v1.15h-1.15zM18.5 118.5h1.15v1.15h-1.15zM61.8 104.6h1.15v1.15h-1.15zM18.6 89.2h1.15v1.15h-1.15zM31.1 104.4h1.15v1.15h-1.15zM31.6 118.4h1.15v1.15h-1.15zM37.9 96.7h1.15v1.15h-1.15zM24.8 92.0h1.15v1.15h-1.15zM37.6 101.6h1.15v1.15h-1.15zM26.2 106.6h1.15v1.15h-1.15zM27.5 98.2h1.15v1.15h-1.15zM55.9 114.1h1.15v1.15h-1.15zM32.9 120.6h1.15v1.15h-1.15zM32.5 115.2h1.15v1.15h-1.15zM42.2 98.8h1.15v1.15h-1.15zM38.7 99.7h1.15v1.15h-1.15zM42.7 102.5h1.15v1.15h-1.15zM36.9 93.9h1.15v1.15h-1.15zM46.3 112.5h1.15v1.15h-1.15zM22.8 103.3h1.15v1.15h-1.15zM53.4 111.9h1.15v1.15h-1.15zM26.4 128.3h1.15v1.15h-1.15zM26.7 110.6h1.15v1.15h-1.15zM45.2 129.5h1.15v1.15h-1.15zM29.3 116.4h1.15v1.15h-1.15zM47.3 94.7h1.15v1.15h-1.15zM39.8 95.3h1.15v1.15h-1.15zM43.0 105.3h1.15v1.15h-1.15zM17.9 109.8h1.15v1.15h-1.15zM17.9 109.6h1.15v1.15h-1.15zM50.5 113.3h1.15v1.15h-1.15zM18.4 114.1h1.15v1.15h-1.15zM40.9 116.2h1.15v1.15h-1.15zM35.8 104.7h1.15v1.15h-1.15zM17.9 111.0h1.15v1.15h-1.15zM17.8 95.3h1.15v1.15h-1.15zM72.9 112.2h1.15v1.15h-1.15zM49.9 108.8h1.15v1.15h-1.15zM38.7 101.5h1.15v1.15h-1.15zM33.5 107.1h1.15v1.15h-1.15zM36.6 103.7h1.15v1.15h-1.15zM46.0 109.2h1.15v1.15h-1.15zM45.5 105.5h1.15v1.15h-1.15zM46.0 114.7h1.15v1.15h-1.15zM58.8 117.5h1.15v1.15h-1.15zM28.8 107.2h1.15v1.15h-1.15zM41.1 122.5h1.15v1.15h-1.15zM64.6 108.2h1.15v1.15h-1.15zM70.9 117.2h1.15v1.15h-1.15zM21.3 110.8h1.15v1.15h-1.15zM44.2 99.9h1.15v1.15h-1.15zM62.0 109.4h1.15v1.15h-1.15zM17.9 95.0h1.15v1.15h-1.15zM29.1 103.5h1.15v1.15h-1.15zM101.4 161.9h1.15v1.15h-1.15zM96.1 155.7h1.15v1.15h-1.15zM88.4 151.8h1.15v1.15h-1.15zM93.7 162.4h1.15v1.15h-1.15zM116.4 150.7h1.15v1.15h-1.15zM102.9 145.1h1.15v1.15h-1.15zM110.7 142.1h1.15v1.15h-1.15zM85.2 161.4h1.15v1.15h-1.15zM97.5 149.9h1.15v1.15h-1.15zM112.4 158.6h1.15v1.15h-1.15zM109.8 154.2h1.15v1.15h-1.15zM105.2 156.3h1.15v1.15h-1.15zM96.1 151.2h1.15v1.15h-1.15zM95.0 156.8h1.15v1.15h-1.15zM95.4 156.6h1.15v1.15h-1.15zM110.3 151.5h1.15v1.15h-1.15zM102.7 161.5h1.15v1.15h-1.15zM102.8 151.4h1.15v1.15h-1.15zM94.8 157.7h1.15v1.15h-1.15zM102.0 162.9h1.15v1.15h-1.15zM103.8 152.4h1.15v1.15h-1.15zM111.7 162.6h1.15v1.15h-1.15zM101.8 146.0h1.15v1.15h-1.15zM121.6 147.2h1.15v1.15h-1.15zM113.3 134.6h1.15v1.15h-1.15zM98.8 155.7h1.15v1.15h-1.15zM100.4 153.4h1.15v1.15h-1.15zM87.9 148.6h1.15v1.15h-1.15zM92.4 148.8h1.15v1.15h-1.15zM97.1 154.3h1.15v1.15h-1.15zM100.5 145.9h1.15v1.15h-1.15zM104.9 147.9h1.15v1.15h-1.15zM91.7 149.5h1.15v1.15h-1.15zM89.4 154.6h1.15v1.15h-1.15zM94.4 136.8h1.15v1.15h-1.15zM90.6 156.6h1.15v1.15h-1.15zM116.0 143.4h1.15v1.15h-1.15zM104.6 149.7h1.15v1.15h-1.15zM111.9 145.7h1.15v1.15h-1.15zM95.4 162.6h1.15v1.15h-1.15zM94.4 162.7h1.15v1.15h-1.15zM104.3 138.5h1.15v1.15h-1.15zM105.6 150.7h1.15v1.15h-1.15zM93.8 141.1h1.15v1.15h-1.15zM115.0 152.5h1.15v1.15h-1.15zM98.9 155.9h1.15v1.15h-1.15zM110.6 158.9h1.15v1.15h-1.15zM115.9 141.9h1.15v1.15h-1.15zM101.7 161.6h1.15v1.15h-1.15zM89.3 155.6h1.15v1.15h-1.15zM127.1 162.9h1.15v1.15h-1.15zM105.1 153.9h1.15v1.15h-1.15zM102.4 150.9h1.15v1.15h-1.15zM102.8 143.7h1.15v1.15h-1.15zM98.9 160.8h1.15v1.15h-1.15zM87.4 161.1h1.15v1.15h-1.15zM99.0 147.0h1.15v1.15h-1.15zM110.7 149.1h1.15v1.15h-1.15zM107.9 142.7h1.15v1.15h-1.15zM101.7 144.9h1.15v1.15h-1.15zM92.7 130.0h1.15v1.15h-1.15zM109.7 154.7h1.15v1.15h-1.15zM102.2 156.2h1.15v1.15h-1.15zM105.6 160.8h1.15v1.15h-1.15zM88.8 159.2h1.15v1.15h-1.15zM97.2 162.6h1.15v1.15h-1.15zM101.3 151.2h1.15v1.15h-1.15zM105.9 147.5h1.15v1.15h-1.15zM99.8 150.1h1.15v1.15h-1.15zM100.1 144.4h1.15v1.15h-1.15zM102.3 143.8h1.15v1.15h-1.15zM112.3 162.5h1.15v1.15h-1.15zM99.6 149.0h1.15v1.15h-1.15zM94.8 138.4h1.15v1.15h-1.15zM100.3 163.1h1.15v1.15h-1.15zM91.3 161.5h1.15v1.15h-1.15zM119.7 149.2h1.15v1.15h-1.15zM82.7 160.7h1.15v1.15h-1.15zM113.3 152.6h1.15v1.15h-1.15zM106.3 147.2h1.15v1.15h-1.15zM89.8 153.2h1.15v1.15h-1.15zM110.2 147.2h1.15v1.15h-1.15zM96.0 162.3h1.15v1.15h-1.15zM94.9 161.8h1.15v1.15h-1.15zM101.8 154.5h1.15v1.15h-1.15zM104.0 142.0h1.15v1.15h-1.15zM81.0 149.2h1.15v1.15h-1.15zM96.1 145.5h1.15v1.15h-1.15zM95.2 145.4h1.15v1.15h-1.15zM84.4 146.6h1.15v1.15h-1.15zM102.7 159.8h1.15v1.15h-1.15zM99.7 154.5h1.15v1.15h-1.15zM99.8 152.9h1.15v1.15h-1.15zM92.0 143.3h1.15v1.15h-1.15zM110.4 153.0h1.15v1.15h-1.15zM115.8 154.4h1.15v1.15h-1.15zM100.3 141.0h1.15v1.15h-1.15zM110.9 147.2h1.15v1.15h-1.15zM96.3 162.3h1.15v1.15h-1.15zM112.3 152.6h1.15v1.15h-1.15zM106.5 146.5h1.15v1.15h-1.15zM96.7 154.1h1.15v1.15h-1.15zM98.2 138.7h1.15v1.15h-1.15zM101.2 153.9h1.15v1.15h-1.15zM111.6 151.1h1.15v1.15h-1.15zM99.7 157.1h1.15v1.15h-1.15zM93.8 157.0h1.15v1.15h-1.15zM98.4 133.8h1.15v1.15h-1.15zM105.4 159.4h1.15v1.15h-1.15zM106.0 154.9h1.15v1.15h-1.15zM113.3 148.0h1.15v1.15h-1.15zM99.9 148.6h1.15v1.15h-1.15zM91.5 155.6h1.15v1.15h-1.15zM117.1 162.2h1.15v1.15h-1.15zM96.1 155.0h1.15v1.15h-1.15zM94.2 162.9h1.15v1.15h-1.15zM102.1 162.4h1.15v1.15h-1.15zM112.6 162.5h1.15v1.15h-1.15zM92.6 141.7h1.15v1.15h-1.15zM101.0 159.9h1.15v1.15h-1.15zM81.5 162.0h1.15v1.15h-1.15zM112.6 147.4h1.15v1.15h-1.15zM88.8 145.8h1.15v1.15h-1.15zM99.5 146.2h1.15v1.15h-1.15zM112.7 152.3h1.15v1.15h-1.15zM117.9 162.4h1.15v1.15h-1.15zM115.4 153.0h1.15v1.15h-1.15zM98.2 150.4h1.15v1.15h-1.15zM86.6 155.0h1.15v1.15h-1.15zM105.5 151.1h1.15v1.15h-1.15zM115.5 149.5h1.15v1.15h-1.15zM104.1 137.1h1.15v1.15h-1.15zM105.5 154.6h1.15v1.15h-1.15zM113.1 142.2h1.15v1.15h-1.15zM104.9 154.1h1.15v1.15h-1.15zM98.1 152.5h1.15v1.15h-1.15zM98.9 150.6h1.15v1.15h-1.15zM114.7 152.6h1.15v1.15h-1.15zM94.7 158.5h1.15v1.15h-1.15zM102.5 150.4h1.15v1.15h-1.15zM106.9 149.0h1.15v1.15h-1.15zM87.7 155.6h1.15v1.15h-1.15zM91.0 154.6h1.15v1.15h-1.15zM97.8 151.0h1.15v1.15h-1.15zM106.1 147.1h1.15v1.15h-1.15zM114.9 149.6h1.15v1.15h-1.15zM109.6 154.1h1.15v1.15h-1.15zM117.5 149.0h1.15v1.15h-1.15zM95.4 146.1h1.15v1.15h-1.15zM111.1 138.4h1.15v1.15h-1.15zM97.7 161.0h1.15v1.15h-1.15zM97.3 136.9h1.15v1.15h-1.15zM108.5 152.1h1.15v1.15h-1.15zM109.1 160.4h1.15v1.15h-1.15zM96.8 153.0h1.15v1.15h-1.15zM107.1 128.7h1.15v1.15h-1.15zM102.7 144.1h1.15v1.15h-1.15zM83.2 162.0h1.15v1.15h-1.15zM104.8 149.3h1.15v1.15h-1.15zM93.3 143.3h1.15v1.15h-1.15zM94.6 162.9h1.15v1.15h-1.15zM101.3 145.4h1.15v1.15h-1.15zM104.5 143.4h1.15v1.15h-1.15zM88.7 162.4h1.15v1.15h-1.15zM103.5 130.7h1.15v1.15h-1.15zM120.8 162.6h1.15v1.15h-1.15zM94.6 158.5h1.15v1.15h-1.15zM101.8 154.3h1.15v1.15h-1.15zM86.2 161.5h1.15v1.15h-1.15zM110.6 141.2h1.15v1.15h-1.15zM116.9 155.6h1.15v1.15h-1.15zM103.3 143.8h1.15v1.15h-1.15zM118.1 157.4h1.15v1.15h-1.15zM98.2 152.0h1.15v1.15h-1.15zM100.9 158.4h1.15v1.15h-1.15zM107.3 146.2h1.15v1.15h-1.15zM96.4 136.6h1.15v1.15h-1.15zM96.7 162.8h1.15v1.15h-1.15zM104.0 154.9h1.15v1.15h-1.15zM100.9 141.2h1.15v1.15h-1.15zM105.9 129.5h1.15v1.15h-1.15zM105.4 145.6h1.15v1.15h-1.15zM104.2 147.9h1.15v1.15h-1.15zM96.6 162.9h1.15v1.15h-1.15zM99.9 143.8h1.15v1.15h-1.15zM109.4 152.4h1.15v1.15h-1.15zM102.2 143.2h1.15v1.15h-1.15zM100.1 162.9h1.15v1.15h-1.15zM103.8 157.1h1.15v1.15h-1.15zM112.0 144.0h1.15v1.15h-1.15zM97.4 157.2h1.15v1.15h-1.15zM92.4 154.1h1.15v1.15h-1.15zM100.0 142.2h1.15v1.15h-1.15zM102.8 155.4h1.15v1.15h-1.15zM92.1 146.0h1.15v1.15h-1.15zM111.1 138.5h1.15v1.15h-1.15zM94.8 155.5h1.15v1.15h-1.15zM107.3 162.3h1.15v1.15h-1.15zM97.2 149.0h1.15v1.15h-1.15zM105.2 161.9h1.15v1.15h-1.15zM105.8 162.6h1.15v1.15h-1.15zM110.8 150.7h1.15v1.15h-1.15zM107.5 153.0h1.15v1.15h-1.15zM118.4 158.9h1.15v1.15h-1.15zM104.7 139.5h1.15v1.15h-1.15zM112.2 143.5h1.15v1.15h-1.15zM96.4 142.2h1.15v1.15h-1.15zM107.5 143.9h1.15v1.15h-1.15zM127.6 160.8h1.15v1.15h-1.15zM93.5 147.5h1.15v1.15h-1.15zM99.0 149.9h1.15v1.15h-1.15zM106.9 149.3h1.15v1.15h-1.15zM100.7 153.2h1.15v1.15h-1.15zM105.7 136.3h1.15v1.15h-1.15zM87.6 155.2h1.15v1.15h-1.15zM107.6 150.4h1.15v1.15h-1.15zM95.2 150.4h1.15v1.15h-1.15zM94.2 151.1h1.15v1.15h-1.15zM90.5 153.1h1.15v1.15h-1.15zM73.8 162.3h1.15v1.15h-1.15zM112.5 134.4h1.15v1.15h-1.15zM103.4 163.1h1.15v1.15h-1.15zM99.9 144.3h1.15v1.15h-1.15zM94.3 153.3h1.15v1.15h-1.15zM117.7 156.3h1.15v1.15h-1.15zM98.7 138.8h1.15v1.15h-1.15zM102.0 150.1h1.15v1.15h-1.15zM95.8 153.2h1.15v1.15h-1.15zM102.0 152.1h1.15v1.15h-1.15zM114.5 151.7h1.15v1.15h-1.15zM89.4 153.5h1.15v1.15h-1.15zM105.4 139.5h1.15v1.15h-1.15zM97.1 149.6h1.15v1.15h-1.15zM100.0 141.2h1.15v1.15h-1.15zM96.3 151.6h1.15v1.15h-1.15zM108.8 149.5h1.15v1.15h-1.15zM107.1 158.9h1.15v1.15h-1.15zM91.0 151.0h1.15v1.15h-1.15zM116.0 158.8h1.15v1.15h-1.15zM113.8 162.9h1.15v1.15h-1.15zM105.2 154.7h1.15v1.15h-1.15zM112.3 152.3h1.15v1.15h-1.15zM118.8 150.2h1.15v1.15h-1.15zM98.9 158.8h1.15v1.15h-1.15zM88.6 152.4h1.15v1.15h-1.15zM99.7 146.4h1.15v1.15h-1.15zM92.2 163.1h1.15v1.15h-1.15zM108.0 148.8h1.15v1.15h-1.15zM111.1 155.3h1.15v1.15h-1.15zM100.7 153.9h1.15v1.15h-1.15zM95.0 156.2h1.15v1.15h-1.15zM104.1 162.9h1.15v1.15h-1.15zM106.2 153.4h1.15v1.15h-1.15zM104.9 149.5h1.15v1.15h-1.15zM108.2 155.2h1.15v1.15h-1.15zM98.3 144.3h1.15v1.15h-1.15zM111.1 148.9h1.15v1.15h-1.15zM87.6 154.5h1.15v1.15h-1.15zM114.2 141.9h1.15v1.15h-1.15zM90.5 155.2h1.15v1.15h-1.15zM102.9 144.9h1.15v1.15h-1.15zM118.8 162.6h1.15v1.15h-1.15zM117.3 162.4h1.15v1.15h-1.15zM105.5 162.9h1.15v1.15h-1.15zM99.5 136.7h1.15v1.15h-1.15zM109.0 146.5h1.15v1.15h-1.15zM97.3 149.6h1.15v1.15h-1.15zM96.3 146.1h1.15v1.15h-1.15zM101.2 157.8h1.15v1.15h-1.15zM99.5 151.8h1.15v1.15h-1.15zM106.1 151.8h1.15v1.15h-1.15zM111.6 158.6h1.15v1.15h-1.15zM117.6 159.3h1.15v1.15h-1.15zM110.2 162.2h1.15v1.15h-1.15zM98.2 155.2h1.15v1.15h-1.15zM117.2 155.3h1.15v1.15h-1.15zM104.0 133.0h1.15v1.15h-1.15zM108.6 147.9h1.15v1.15h-1.15zM99.5 159.9h1.15v1.15h-1.15zM96.6 162.9h1.15v1.15h-1.15zM98.6 133.0h1.15v1.15h-1.15zM116.2 162.5h1.15v1.15h-1.15zM90.2 152.4h1.15v1.15h-1.15zM119.6 163.0h1.15v1.15h-1.15zM87.5 155.3h1.15v1.15h-1.15zM112.5 147.1h1.15v1.15h-1.15zM107.5 140.4h1.15v1.15h-1.15zM109.6 162.8h1.15v1.15h-1.15zM92.1 155.5h1.15v1.15h-1.15zM94.7 155.1h1.15v1.15h-1.15zM101.4 150.6h1.15v1.15h-1.15zM102.1 149.0h1.15v1.15h-1.15zM90.1 160.5h1.15v1.15h-1.15zM107.7 131.9h1.15v1.15h-1.15zM91.7 163.0h1.15v1.15h-1.15zM89.7 148.5h1.15v1.15h-1.15zM101.0 151.2h1.15v1.15h-1.15zM96.9 160.5h1.15v1.15h-1.15zM95.5 139.5h1.15v1.15h-1.15zM104.0 152.1h1.15v1.15h-1.15zM98.3 158.4h1.15v1.15h-1.15zM103.2 156.9h1.15v1.15h-1.15zM101.3 162.9h1.15v1.15h-1.15zM120.1 162.6h1.15v1.15h-1.15zM99.8 148.5h1.15v1.15h-1.15zM108.5 134.8h1.15v1.15h-1.15zM102.1 161.3h1.15v1.15h-1.15zM118.9 163.0h1.15v1.15h-1.15zM95.5 162.5h1.15v1.15h-1.15zM106.4 162.7h1.15v1.15h-1.15zM102.1 147.6h1.15v1.15h-1.15zM101.1 137.1h1.15v1.15h-1.15zM118.2 162.8h1.15v1.15h-1.15zM108.2 151.8h1.15v1.15h-1.15zM104.2 140.5h1.15v1.15h-1.15zM96.9 136.2h1.15v1.15h-1.15zM101.3 142.2h1.15v1.15h-1.15zM101.4 158.3h1.15v1.15h-1.15zM102.8 159.9h1.15v1.15h-1.15zM105.8 150.7h1.15v1.15h-1.15zM103.0 150.4h1.15v1.15h-1.15zM96.3 161.0h1.15v1.15h-1.15zM90.8 161.9h1.15v1.15h-1.15zM88.0 150.6h1.15v1.15h-1.15zM113.8 148.0h1.15v1.15h-1.15zM113.1 155.3h1.15v1.15h-1.15zM95.7 140.3h1.15v1.15h-1.15zM109.4 156.3h1.15v1.15h-1.15zM85.9 159.3h1.15v1.15h-1.15zM101.2 156.6h1.15v1.15h-1.15zM106.0 153.4h1.15v1.15h-1.15zM88.5 150.1h1.15v1.15h-1.15zM92.2 143.6h1.15v1.15h-1.15zM101.1 141.5h1.15v1.15h-1.15zM94.5 162.6h1.15v1.15h-1.15zM97.6 144.0h1.15v1.15h-1.15zM90.5 152.9h1.15v1.15h-1.15zM109.4 158.6h1.15v1.15h-1.15zM105.5 144.4h1.15v1.15h-1.15zM99.3 144.9h1.15v1.15h-1.15zM106.8 145.4h1.15v1.15h-1.15zM112.8 136.7h1.15v1.15h-1.15zM102.8 153.7h1.15v1.15h-1.15zM93.7 150.9h1.15v1.15h-1.15zM104.7 141.6h1.15v1.15h-1.15zM106.2 148.2h1.15v1.15h-1.15zM104.2 162.3h1.15v1.15h-1.15zM110.9 150.3h1.15v1.15h-1.15zM104.5 151.1h1.15v1.15h-1.15zM88.8 162.9h1.15v1.15h-1.15zM115.1 152.0h1.15v1.15h-1.15zM92.0 155.2h1.15v1.15h-1.15zM105.6 147.7h1.15v1.15h-1.15zM83.6 157.5h1.15v1.15h-1.15zM98.4 155.0h1.15v1.15h-1.15zM94.3 131.9h1.15v1.15h-1.15zM93.0 150.4h1.15v1.15h-1.15zM104.4 154.2h1.15v1.15h-1.15zM98.7 152.0h1.15v1.15h-1.15zM88.8 157.0h1.15v1.15h-1.15zM103.7 134.7h1.15v1.15h-1.15zM95.8 163.0h1.15v1.15h-1.15zM97.9 144.9h1.15v1.15h-1.15zM121.8 152.5h1.15v1.15h-1.15zM97.6 151.9h1.15v1.15h-1.15zM109.9 153.4h1.15v1.15h-1.15zM99.0 145.6h1.15v1.15h-1.15zM105.9 137.9h1.15v1.15h-1.15zM116.0 158.0h1.15v1.15h-1.15zM116.1 142.5h1.15v1.15h-1.15zM99.2 159.6h1.15v1.15h-1.15zM99.5 149.2h1.15v1.15h-1.15zM106.9 142.4h1.15v1.15h-1.15zM96.5 147.4h1.15v1.15h-1.15zM102.9 156.7h1.15v1.15h-1.15zM100.1 147.6h1.15v1.15h-1.15zM112.1 148.3h1.15v1.15h-1.15zM94.7 160.7h1.15v1.15h-1.15zM113.3 152.1h1.15v1.15h-1.15zM116.0 150.0h1.15v1.15h-1.15zM107.9 156.1h1.15v1.15h-1.15zM106.3 135.2h1.15v1.15h-1.15zM107.1 155.2h1.15v1.15h-1.15zM106.7 156.4h1.15v1.15h-1.15zM108.7 148.2h1.15v1.15h-1.15zM93.0 152.9h1.15v1.15h-1.15zM103.0 144.0h1.15v1.15h-1.15zM82.3 155.2h1.15v1.15h-1.15zM107.4 135.3h1.15v1.15h-1.15zM125.7 152.3h1.15v1.15h-1.15zM100.4 139.7h1.15v1.15h-1.15zM106.1 147.4h1.15v1.15h-1.15zM118.9 162.8h1.15v1.15h-1.15zM93.4 149.4h1.15v1.15h-1.15zM101.0 146.7h1.15v1.15h-1.15zM109.4 155.8h1.15v1.15h-1.15zM93.0 148.0h1.15v1.15h-1.15zM102.2 162.8h1.15v1.15h-1.15zM105.1 158.4h1.15v1.15h-1.15zM118.8 156.2h1.15v1.15h-1.15zM99.9 145.2h1.15v1.15h-1.15zM109.1 152.5h1.15v1.15h-1.15zM109.5 150.9h1.15v1.15h-1.15zM86.0 156.2h1.15v1.15h-1.15zM87.0 146.7h1.15v1.15h-1.15zM98.6 150.0h1.15v1.15h-1.15zM103.5 157.3h1.15v1.15h-1.15zM112.3 151.9h1.15v1.15h-1.15zM90.5 157.3h1.15v1.15h-1.15zM104.3 146.7h1.15v1.15h-1.15zM99.7 162.8h1.15v1.15h-1.15zM112.4 162.9h1.15v1.15h-1.15zM98.2 154.8h1.15v1.15h-1.15zM95.9 147.8h1.15v1.15h-1.15zM96.7 157.9h1.15v1.15h-1.15zM105.6 157.0h1.15v1.15h-1.15zM75.4 160.5h1.15v1.15h-1.15zM93.5 144.4h1.15v1.15h-1.15zM108.4 151.0h1.15v1.15h-1.15zM120.8 163.1h1.15v1.15h-1.15zM97.4 146.4h1.15v1.15h-1.15zM111.1 155.9h1.15v1.15h-1.15zM98.8 158.2h1.15v1.15h-1.15zM113.8 158.5h1.15v1.15h-1.15zM94.4 146.8h1.15v1.15h-1.15zM120.4 159.8h1.15v1.15h-1.15zM105.6 156.4h1.15v1.15h-1.15zM112.4 152.9h1.15v1.15h-1.15zM103.1 141.7h1.15v1.15h-1.15zM84.8 149.8h1.15v1.15h-1.15zM102.4 150.0h1.15v1.15h-1.15zM100.4 153.2h1.15v1.15h-1.15zM106.1 150.4h1.15v1.15h-1.15zM95.2 140.5h1.15v1.15h-1.15zM107.7 157.3h1.15v1.15h-1.15zM89.5 160.1h1.15v1.15h-1.15zM112.0 162.5h1.15v1.15h-1.15zM92.9 154.8h1.15v1.15h-1.15zM114.0 159.4h1.15v1.15h-1.15zM105.9 150.5h1.15v1.15h-1.15zM110.2 156.8h1.15v1.15h-1.15zM108.8 158.3h1.15v1.15h-1.15zM99.2 142.2h1.15v1.15h-1.15zM108.3 139.9h1.15v1.15h-1.15zM106.5 158.9h1.15v1.15h-1.15zM92.5 162.4h1.15v1.15h-1.15zM91.0 153.4h1.15v1.15h-1.15zM90.3 155.0h1.15v1.15h-1.15zM106.8 157.2h1.15v1.15h-1.15zM115.2 162.8h1.15v1.15h-1.15zM106.6 143.6h1.15v1.15h-1.15zM111.8 162.5h1.15v1.15h-1.15zM83.0 157.4h1.15v1.15h-1.15zM106.1 150.4h1.15v1.15h-1.15zM88.4 153.4h1.15v1.15h-1.15zM106.9 147.0h1.15v1.15h-1.15zM118.0 161.5h1.15v1.15h-1.15zM104.5 137.3h1.15v1.15h-1.15zM107.8 148.4h1.15v1.15h-1.15zM101.1 138.4h1.15v1.15h-1.15zM95.8 158.3h1.15v1.15h-1.15zM94.2 149.4h1.15v1.15h-1.15zM88.5 161.7h1.15v1.15h-1.15zM99.6 144.8h1.15v1.15h-1.15zM118.6 149.8h1.15v1.15h-1.15zM94.6 154.7h1.15v1.15h-1.15zM105.1 157.2h1.15v1.15h-1.15zM101.3 154.7h1.15v1.15h-1.15zM91.2 156.2h1.15v1.15h-1.15zM99.1 142.4h1.15v1.15h-1.15zM106.6 143.2h1.15v1.15h-1.15zM116.0 163.0h1.15v1.15h-1.15zM113.5 160.6h1.15v1.15h-1.15zM92.4 142.6h1.15v1.15h-1.15zM86.1 145.5h1.15v1.15h-1.15zM102.3 153.6h1.15v1.15h-1.15zM117.2 153.6h1.15v1.15h-1.15zM111.7 158.4h1.15v1.15h-1.15zM96.8 153.0h1.15v1.15h-1.15zM100.0 134.4h1.15v1.15h-1.15zM93.2 152.3h1.15v1.15h-1.15zM102.7 145.6h1.15v1.15h-1.15zM97.0 162.6h1.15v1.15h-1.15zM113.8 147.8h1.15v1.15h-1.15zM102.8 137.2h1.15v1.15h-1.15zM111.9 140.9h1.15v1.15h-1.15zM93.9 148.7h1.15v1.15h-1.15zM97.8 138.2h1.15v1.15h-1.15zM99.8 131.2h1.15v1.15h-1.15zM103.1 162.5h1.15v1.15h-1.15zM102.6 135.9h1.15v1.15h-1.15zM108.8 157.0h1.15v1.15h-1.15zM87.5 148.8h1.15v1.15h-1.15zM113.4 133.4h1.15v1.15h-1.15zM99.9 150.9h1.15v1.15h-1.15zM104.4 154.8h1.15v1.15h-1.15zM99.1 145.6h1.15v1.15h-1.15zM111.1 151.8h1.15v1.15h-1.15zM114.0 162.4h1.15v1.15h-1.15zM99.2 143.8h1.15v1.15h-1.15zM111.8 148.3h1.15v1.15h-1.15zM115.6 139.2h1.15v1.15h-1.15zM97.0 162.4h1.15v1.15h-1.15zM104.1 156.3h1.15v1.15h-1.15zM105.4 149.9h1.15v1.15h-1.15zM108.0 130.4h1.15v1.15h-1.15zM78.6 162.9h1.15v1.15h-1.15zM103.8 152.7h1.15v1.15h-1.15zM104.8 152.0h1.15v1.15h-1.15zM100.8 145.3h1.15v1.15h-1.15zM93.2 147.4h1.15v1.15h-1.15zM98.3 146.5h1.15v1.15h-1.15zM89.1 151.2h1.15v1.15h-1.15zM92.9 150.3h1.15v1.15h-1.15zM103.3 145.6h1.15v1.15h-1.15zM104.8 161.6h1.15v1.15h-1.15zM98.5 148.3h1.15v1.15h-1.15zM84.9 162.4h1.15v1.15h-1.15zM92.0 156.4h1.15v1.15h-1.15zM108.4 155.4h1.15v1.15h-1.15zM78.1 150.5h1.15v1.15h-1.15zM102.5 153.1h1.15v1.15h-1.15zM107.6 147.6h1.15v1.15h-1.15zM99.7 149.0h1.15v1.15h-1.15zM94.8 156.7h1.15v1.15h-1.15zM97.1 158.8h1.15v1.15h-1.15zM106.7 150.6h1.15v1.15h-1.15zM98.8 162.4h1.15v1.15h-1.15zM107.0 162.2h1.15v1.15h-1.15zM78.7 149.8h1.15v1.15h-1.15zM100.2 156.1h1.15v1.15h-1.15zM113.7 130.7h1.15v1.15h-1.15zM99.4 131.6h1.15v1.15h-1.15zM103.9 152.4h1.15v1.15h-1.15zM99.4 158.7h1.15v1.15h-1.15zM99.4 144.9h1.15v1.15h-1.15zM96.1 134.9h1.15v1.15h-1.15zM94.0 162.9h1.15v1.15h-1.15zM100.4 153.1h1.15v1.15h-1.15zM108.3 134.7h1.15v1.15h-1.15zM110.1 152.2h1.15v1.15h-1.15zM99.2 147.0h1.15v1.15h-1.15zM90.6 149.2h1.15v1.15h-1.15zM116.6 163.0h1.15v1.15h-1.15zM94.8 149.8h1.15v1.15h-1.15zM104.8 154.5h1.15v1.15h-1.15zM101.6 162.7h1.15v1.15h-1.15zM77.0 158.6h1.15v1.15h-1.15zM96.2 161.8h1.15v1.15h-1.15zM111.8 150.8h1.15v1.15h-1.15zM99.8 162.6h1.15v1.15h-1.15zM93.7 157.2h1.15v1.15h-1.15zM97.9 137.0h1.15v1.15h-1.15zM120.0 157.7h1.15v1.15h-1.15zM103.9 162.8h1.15v1.15h-1.15zM99.9 148.1h1.15v1.15h-1.15zM96.8 160.5h1.15v1.15h-1.15zM110.7 155.9h1.15v1.15h-1.15zM97.8 144.8h1.15v1.15h-1.15zM102.0 156.1h1.15v1.15h-1.15zM97.5 151.4h1.15v1.15h-1.15zM117.4 151.9h1.15v1.15h-1.15zM84.9 163.0h1.15v1.15h-1.15zM102.5 162.6h1.15v1.15h-1.15zM103.1 151.3h1.15v1.15h-1.15zM104.2 146.7h1.15v1.15h-1.15zM94.9 132.1h1.15v1.15h-1.15zM105.3 153.2h1.15v1.15h-1.15zM98.1 151.0h1.15v1.15h-1.15zM111.4 153.9h1.15v1.15h-1.15zM101.1 159.9h1.15v1.15h-1.15zM110.1 148.5h1.15v1.15h-1.15zM110.1 156.9h1.15v1.15h-1.15zM95.0 150.1h1.15v1.15h-1.15zM96.4 154.0h1.15v1.15h-1.15zM110.6 162.0h1.15v1.15h-1.15zM105.3 134.2h1.15v1.15h-1.15zM112.8 162.6h1.15v1.15h-1.15zM105.0 149.3h1.15v1.15h-1.15zM94.8 141.5h1.15v1.15h-1.15zM103.2 142.9h1.15v1.15h-1.15zM92.1 147.8h1.15v1.15h-1.15zM104.2 147.6h1.15v1.15h-1.15zM103.8 141.9h1.15v1.15h-1.15zM76.8 162.7h1.15v1.15h-1.15zM107.0 149.5h1.15v1.15h-1.15zM93.7 142.9h1.15v1.15h-1.15zM115.2 152.6h1.15v1.15h-1.15zM101.8 160.9h1.15v1.15h-1.15zM97.8 160.8h1.15v1.15h-1.15zM90.8 142.6h1.15v1.15h-1.15zM109.9 154.7h1.15v1.15h-1.15zM101.6 155.5h1.15v1.15h-1.15zM110.4 149.1h1.15v1.15h-1.15zM89.8 152.0h1.15v1.15h-1.15zM95.0 163.1h1.15v1.15h-1.15zM103.0 154.5h1.15v1.15h-1.15zM102.7 150.6h1.15v1.15h-1.15zM100.4 140.5h1.15v1.15h-1.15zM119.9 157.3h1.15v1.15h-1.15zM108.6 133.9h1.15v1.15h-1.15zM109.7 145.0h1.15v1.15h-1.15zM100.4 146.0h1.15v1.15h-1.15zM101.1 152.5h1.15v1.15h-1.15zM109.5 152.4h1.15v1.15h-1.15zM93.9 159.8h1.15v1.15h-1.15zM103.8 159.4h1.15v1.15h-1.15zM94.5 140.5h1.15v1.15h-1.15zM113.8 162.8h1.15v1.15h-1.15zM100.8 143.6h1.15v1.15h-1.15zM106.6 128.4h1.15v1.15h-1.15zM89.1 162.5h1.15v1.15h-1.15zM97.5 151.0h1.15v1.15h-1.15zM106.7 162.6h1.15v1.15h-1.15zM97.0 147.4h1.15v1.15h-1.15zM120.4 150.3h1.15v1.15h-1.15zM101.6 150.7h1.15v1.15h-1.15zM108.0 148.2h1.15v1.15h-1.15zM116.4 162.4h1.15v1.15h-1.15zM101.2 152.7h1.15v1.15h-1.15zM103.8 148.8h1.15v1.15h-1.15zM87.2 150.1h1.15v1.15h-1.15zM85.9 156.1h1.15v1.15h-1.15zM102.9 153.4h1.15v1.15h-1.15zM113.8 162.4h1.15v1.15h-1.15zM101.3 146.2h1.15v1.15h-1.15zM98.3 155.1h1.15v1.15h-1.15zM102.4 152.2h1.15v1.15h-1.15zM100.8 161.2h1.15v1.15h-1.15zM85.8 154.4h1.15v1.15h-1.15zM95.5 130.5h1.15v1.15h-1.15zM81.1 155.4h1.15v1.15h-1.15zM101.0 155.8h1.15v1.15h-1.15zM95.7 152.4h1.15v1.15h-1.15zM108.4 148.9h1.15v1.15h-1.15zM101.7 155.4h1.15v1.15h-1.15zM103.5 148.3h1.15v1.15h-1.15zM101.7 162.4h1.15v1.15h-1.15zM92.6 149.3h1.15v1.15h-1.15zM94.0 153.2h1.15v1.15h-1.15zM107.3 140.4h1.15v1.15h-1.15zM86.6 147.2h1.15v1.15h-1.15zM115.4 146.4h1.15v1.15h-1.15zM90.9 151.5h1.15v1.15h-1.15zM106.8 143.2h1.15v1.15h-1.15zM103.8 155.8h1.15v1.15h-1.15zM105.9 150.8h1.15v1.15h-1.15zM107.2 162.5h1.15v1.15h-1.15zM98.4 148.1h1.15v1.15h-1.15zM87.0 149.6h1.15v1.15h-1.15zM98.1 147.9h1.15v1.15h-1.15zM99.1 144.6h1.15v1.15h-1.15zM106.7 151.8h1.15v1.15h-1.15zM91.1 160.3h1.15v1.15h-1.15zM99.5 157.2h1.15v1.15h-1.15zM112.0 151.5h1.15v1.15h-1.15zM104.9 159.1h1.15v1.15h-1.15zM99.9 143.0h1.15v1.15h-1.15zM94.5 161.8h1.15v1.15h-1.15zM94.6 145.1h1.15v1.15h-1.15zM93.5 154.2h1.15v1.15h-1.15zM102.0 162.5h1.15v1.15h-1.15zM105.1 155.3h1.15v1.15h-1.15zM114.9 154.6h1.15v1.15h-1.15zM103.2 153.6h1.15v1.15h-1.15zM101.9 151.5h1.15v1.15h-1.15zM110.3 151.9h1.15v1.15h-1.15zM102.5 152.6h1.15v1.15h-1.15zM108.3 152.0h1.15v1.15h-1.15zM109.2 148.4h1.15v1.15h-1.15zM107.2 147.6h1.15v1.15h-1.15zM104.6 162.5h1.15v1.15h-1.15zM101.9 151.8h1.15v1.15h-1.15zM121.1 154.3h1.15v1.15h-1.15zM103.3 146.8h1.15v1.15h-1.15zM82.7 160.0h1.15v1.15h-1.15zM110.1 159.6h1.15v1.15h-1.15zM100.4 148.5h1.15v1.15h-1.15zM111.6 147.4h1.15v1.15h-1.15zM92.4 146.9h1.15v1.15h-1.15zM96.9 146.4h1.15v1.15h-1.15zM102.6 153.8h1.15v1.15h-1.15zM84.3 161.3h1.15v1.15h-1.15zM99.9 155.2h1.15v1.15h-1.15zM96.6 153.0h1.15v1.15h-1.15zM106.3 149.2h1.15v1.15h-1.15zM86.9 162.4h1.15v1.15h-1.15zM93.9 156.5h1.15v1.15h-1.15zM98.9 158.5h1.15v1.15h-1.15zM97.5 141.0h1.15v1.15h-1.15zM110.5 153.3h1.15v1.15h-1.15zM113.4 163.0h1.15v1.15h-1.15zM107.7 156.9h1.15v1.15h-1.15zM94.0 144.7h1.15v1.15h-1.15zM100.2 135.9h1.15v1.15h-1.15zM96.0 152.5h1.15v1.15h-1.15zM100.9 147.3h1.15v1.15h-1.15zM106.8 152.6h1.15v1.15h-1.15zM106.2 159.4h1.15v1.15h-1.15zM91.9 161.8h1.15v1.15h-1.15zM105.4 157.5h1.15v1.15h-1.15zM97.2 143.6h1.15v1.15h-1.15zM102.6 156.1h1.15v1.15h-1.15zM98.3 141.9h1.15v1.15h-1.15zM111.1 162.9h1.15v1.15h-1.15zM97.4 143.6h1.15v1.15h-1.15zM115.2 141.4h1.15v1.15h-1.15zM106.6 145.3h1.15v1.15h-1.15zM99.2 136.7h1.15v1.15h-1.15zM100.4 162.7h1.15v1.15h-1.15zM90.5 149.9h1.15v1.15h-1.15zM93.3 162.5h1.15v1.15h-1.15zM113.4 154.7h1.15v1.15h-1.15zM103.9 146.7h1.15v1.15h-1.15zM95.8 153.6h1.15v1.15h-1.15zM92.7 149.9h1.15v1.15h-1.15zM106.3 140.5h1.15v1.15h-1.15zM78.4 148.4h1.15v1.15h-1.15zM101.8 162.9h1.15v1.15h-1.15zM94.0 147.6h1.15v1.15h-1.15zM97.8 161.0h1.15v1.15h-1.15zM103.4 151.2h1.15v1.15h-1.15zM103.4 142.1h1.15v1.15h-1.15zM105.6 151.0h1.15v1.15h-1.15zM102.2 149.2h1.15v1.15h-1.15zM110.9 156.8h1.15v1.15h-1.15zM109.1 146.6h1.15v1.15h-1.15zM100.6 144.1h1.15v1.15h-1.15zM103.2 153.5h1.15v1.15h-1.15zM97.4 131.4h1.15v1.15h-1.15zM109.5 150.9h1.15v1.15h-1.15zM113.1 146.5h1.15v1.15h-1.15zM102.3 137.3h1.15v1.15h-1.15zM102.1 156.9h1.15v1.15h-1.15zM110.3 154.6h1.15v1.15h-1.15zM106.2 145.6h1.15v1.15h-1.15zM99.5 161.3h1.15v1.15h-1.15zM96.1 133.0h1.15v1.15h-1.15zM94.3 145.2h1.15v1.15h-1.15zM94.5 156.0h1.15v1.15h-1.15zM109.0 162.7h1.15v1.15h-1.15zM100.4 149.7h1.15v1.15h-1.15zM93.6 152.1h1.15v1.15h-1.15zM96.9 148.1h1.15v1.15h-1.15zM97.2 159.5h1.15v1.15h-1.15zM118.8 149.5h1.15v1.15h-1.15zM108.8 153.6h1.15v1.15h-1.15zM102.8 128.6h1.15v1.15h-1.15zM106.2 156.8h1.15v1.15h-1.15zM98.6 153.4h1.15v1.15h-1.15zM107.5 139.6h1.15v1.15h-1.15zM88.1 148.9h1.15v1.15h-1.15zM117.6 162.8h1.15v1.15h-1.15zM92.2 156.2h1.15v1.15h-1.15zM94.7 159.9h1.15v1.15h-1.15zM106.8 152.2h1.15v1.15h-1.15zM102.0 149.7h1.15v1.15h-1.15zM119.9 161.3h1.15v1.15h-1.15zM96.8 137.2h1.15v1.15h-1.15zM110.9 158.1h1.15v1.15h-1.15zM102.6 148.4h1.15v1.15h-1.15zM120.6 150.8h1.15v1.15h-1.15zM92.1 150.7h1.15v1.15h-1.15zM94.1 139.4h1.15v1.15h-1.15zM97.8 163.1h1.15v1.15h-1.15zM97.9 155.9h1.15v1.15h-1.15zM106.6 152.7h1.15v1.15h-1.15zM101.2 141.2h1.15v1.15h-1.15zM103.8 143.1h1.15v1.15h-1.15zM114.5 161.0h1.15v1.15h-1.15zM100.4 145.3h1.15v1.15h-1.15zM80.3 162.5h1.15v1.15h-1.15zM84.6 163.0h1.15v1.15h-1.15zM107.0 145.3h1.15v1.15h-1.15zM115.9 151.8h1.15v1.15h-1.15zM99.0 156.2h1.15v1.15h-1.15zM101.5 130.2h1.15v1.15h-1.15zM94.9 159.5h1.15v1.15h-1.15zM108.7 159.8h1.15v1.15h-1.15zM100.8 137.6h1.15v1.15h-1.15zM108.7 155.1h1.15v1.15h-1.15zM101.8 153.7h1.15v1.15h-1.15zM99.6 149.5h1.15v1.15h-1.15zM92.8 152.4h1.15v1.15h-1.15zM98.8 157.8h1.15v1.15h-1.15zM97.2 156.8h1.15v1.15h-1.15zM103.1 155.8h1.15v1.15h-1.15zM106.5 159.9h1.15v1.15h-1.15zM100.2 160.2h1.15v1.15h-1.15zM99.7 151.9h1.15v1.15h-1.15zM101.1 141.9h1.15v1.15h-1.15zM109.8 161.5h1.15v1.15h-1.15zM104.1 145.3h1.15v1.15h-1.15zM88.7 158.7h1.15v1.15h-1.15zM104.9 155.3h1.15v1.15h-1.15zM104.4 158.7h1.15v1.15h-1.15zM90.3 137.8h1.15v1.15h-1.15zM97.3 163.0h1.15v1.15h-1.15zM86.6 156.1h1.15v1.15h-1.15zM103.9 124.8h1.15v1.15h-1.15zM99.6 148.9h1.15v1.15h-1.15zM106.4 153.4h1.15v1.15h-1.15zM95.7 143.3h1.15v1.15h-1.15zM100.9 153.2h1.15v1.15h-1.15zM104.0 162.9h1.15v1.15h-1.15zM118.6 150.9h1.15v1.15h-1.15zM114.3 162.4h1.15v1.15h-1.15zM98.5 141.6h1.15v1.15h-1.15zM102.4 162.6h1.15v1.15h-1.15zM91.3 153.8h1.15v1.15h-1.15zM106.3 157.0h1.15v1.15h-1.15zM99.1 150.4h1.15v1.15h-1.15zM106.4 157.5h1.15v1.15h-1.15zM90.8 155.5h1.15v1.15h-1.15zM114.1 138.8h1.15v1.15h-1.15zM99.2 146.9h1.15v1.15h-1.15zM97.4 137.1h1.15v1.15h-1.15zM107.8 146.2h1.15v1.15h-1.15zM95.8 130.2h1.15v1.15h-1.15zM98.0 148.9h1.15v1.15h-1.15zM98.7 145.9h1.15v1.15h-1.15zM103.5 139.2h1.15v1.15h-1.15zM103.5 162.4h1.15v1.15h-1.15zM111.6 147.9h1.15v1.15h-1.15zM92.4 156.5h1.15v1.15h-1.15zM97.3 147.6h1.15v1.15h-1.15zM112.1 152.0h1.15v1.15h-1.15zM100.8 146.5h1.15v1.15h-1.15zM91.6 153.3h1.15v1.15h-1.15zM106.6 148.4h1.15v1.15h-1.15zM82.7 161.9h1.15v1.15h-1.15zM99.1 158.3h1.15v1.15h-1.15zM108.4 163.1h1.15v1.15h-1.15zM89.9 160.3h1.15v1.15h-1.15zM109.0 147.6h1.15v1.15h-1.15zM97.5 150.3h1.15v1.15h-1.15zM110.8 142.5h1.15v1.15h-1.15zM92.6 147.6h1.15v1.15h-1.15zM105.9 157.1h1.15v1.15h-1.15zM104.1 152.3h1.15v1.15h-1.15zM94.6 145.3h1.15v1.15h-1.15zM95.8 162.0h1.15v1.15h-1.15zM96.3 160.7h1.15v1.15h-1.15zM101.2 145.5h1.15v1.15h-1.15zM104.5 132.9h1.15v1.15h-1.15zM101.9 151.8h1.15v1.15h-1.15zM106.1 149.0h1.15v1.15h-1.15zM95.8 145.2h1.15v1.15h-1.15zM103.6 133.2h1.15v1.15h-1.15zM98.2 152.7h1.15v1.15h-1.15zM105.2 162.6h1.15v1.15h-1.15zM94.6 146.6h1.15v1.15h-1.15zM104.4 161.5h1.15v1.15h-1.15zM90.5 158.3h1.15v1.15h-1.15zM103.2 156.6h1.15v1.15h-1.15zM94.6 161.2h1.15v1.15h-1.15zM115.3 159.2h1.15v1.15h-1.15zM91.4 162.6h1.15v1.15h-1.15zM98.3 153.7h1.15v1.15h-1.15zM104.3 137.3h1.15v1.15h-1.15zM105.7 149.8h1.15v1.15h-1.15zM89.9 161.2h1.15v1.15h-1.15zM102.1 155.5h1.15v1.15h-1.15zM97.6 132.7h1.15v1.15h-1.15zM93.4 139.6h1.15v1.15h-1.15zM110.2 161.2h1.15v1.15h-1.15zM109.4 155.6h1.15v1.15h-1.15zM110.6 158.0h1.15v1.15h-1.15zM106.5 162.6h1.15v1.15h-1.15zM91.4 163.0h1.15v1.15h-1.15zM92.7 159.6h1.15v1.15h-1.15zM97.2 161.5h1.15v1.15h-1.15zM110.2 163.0h1.15v1.15h-1.15zM100.6 162.9h1.15v1.15h-1.15zM95.1 160.5h1.15v1.15h-1.15zM111.7 146.6h1.15v1.15h-1.15zM93.1 150.0h1.15v1.15h-1.15zM110.5 151.0h1.15v1.15h-1.15zM96.0 151.1h1.15v1.15h-1.15zM111.2 157.8h1.15v1.15h-1.15zM99.3 150.7h1.15v1.15h-1.15zM123.2 149.3h1.15v1.15h-1.15zM116.1 150.8h1.15v1.15h-1.15zM105.2 151.2h1.15v1.15h-1.15zM102.8 135.3h1.15v1.15h-1.15zM99.2 152.9h1.15v1.15h-1.15zM91.3 149.0h1.15v1.15h-1.15zM102.9 139.9h1.15v1.15h-1.15zM101.2 147.0h1.15v1.15h-1.15zM97.8 150.9h1.15v1.15h-1.15zM115.5 146.3h1.15v1.15h-1.15zM98.5 143.2h1.15v1.15h-1.15zM92.7 149.9h1.15v1.15h-1.15zM107.9 144.4h1.15v1.15h-1.15zM103.2 160.2h1.15v1.15h-1.15zM113.1 162.4h1.15v1.15h-1.15zM98.0 149.6h1.15v1.15h-1.15zM95.8 156.7h1.15v1.15h-1.15zM89.0 156.6h1.15v1.15h-1.15zM95.3 141.4h1.15v1.15h-1.15zM117.5 150.6h1.15v1.15h-1.15zM99.2 138.6h1.15v1.15h-1.15zM95.9 155.9h1.15v1.15h-1.15zM105.6 145.6h1.15v1.15h-1.15zM112.9 162.6h1.15v1.15h-1.15zM102.4 141.8h1.15v1.15h-1.15zM99.5 154.8h1.15v1.15h-1.15zM110.3 144.3h1.15v1.15h-1.15zM100.2 142.7h1.15v1.15h-1.15zM108.0 152.1h1.15v1.15h-1.15zM95.6 148.7h1.15v1.15h-1.15zM92.1 162.3h1.15v1.15h-1.15zM111.7 150.7h1.15v1.15h-1.15zM107.6 158.8h1.15v1.15h-1.15zM107.4 161.4h1.15v1.15h-1.15zM96.8 162.8h1.15v1.15h-1.15zM120.2 149.2h1.15v1.15h-1.15zM109.2 162.4h1.15v1.15h-1.15zM114.5 162.6h1.15v1.15h-1.15zM106.9 145.5h1.15v1.15h-1.15zM96.4 144.3h1.15v1.15h-1.15zM84.7 162.8h1.15v1.15h-1.15zM103.0 162.6h1.15v1.15h-1.15zM99.2 150.5h1.15v1.15h-1.15zM113.4 162.8h1.15v1.15h-1.15zM103.9 129.9h1.15v1.15h-1.15zM114.5 156.5h1.15v1.15h-1.15zM107.0 162.5h1.15v1.15h-1.15zM96.9 152.0h1.15v1.15h-1.15zM78.6 153.8h1.15v1.15h-1.15zM86.3 159.3h1.15v1.15h-1.15zM96.2 162.7h1.15v1.15h-1.15zM85.8 159.3h1.15v1.15h-1.15zM94.4 143.7h1.15v1.15h-1.15zM109.5 155.8h1.15v1.15h-1.15zM114.5 144.7h1.15v1.15h-1.15zM94.7 153.8h1.15v1.15h-1.15zM101.8 155.4h1.15v1.15h-1.15zM105.3 159.4h1.15v1.15h-1.15zM115.7 162.8h1.15v1.15h-1.15zM109.8 139.6h1.15v1.15h-1.15zM100.0 140.7h1.15v1.15h-1.15zM104.7 143.6h1.15v1.15h-1.15zM99.8 159.0h1.15v1.15h-1.15zM100.7 142.8h1.15v1.15h-1.15zM105.9 155.4h1.15v1.15h-1.15zM101.5 137.2h1.15v1.15h-1.15zM103.1 149.7h1.15v1.15h-1.15zM99.9 156.6h1.15v1.15h-1.15zM100.1 154.3h1.15v1.15h-1.15zM98.2 149.6h1.15v1.15h-1.15zM110.8 151.8h1.15v1.15h-1.15zM92.6 152.7h1.15v1.15h-1.15zM105.5 144.9h1.15v1.15h-1.15zM101.1 145.6h1.15v1.15h-1.15zM100.1 157.7h1.15v1.15h-1.15zM111.2 159.6h1.15v1.15h-1.15zM111.0 144.3h1.15v1.15h-1.15zM106.0 162.8h1.15v1.15h-1.15zM98.2 158.8h1.15v1.15h-1.15zM104.5 145.6h1.15v1.15h-1.15zM100.7 145.6h1.15v1.15h-1.15zM94.8 148.2h1.15v1.15h-1.15zM95.3 150.6h1.15v1.15h-1.15zM104.2 142.0h1.15v1.15h-1.15zM90.3 150.0h1.15v1.15h-1.15zM103.4 149.1h1.15v1.15h-1.15zM105.3 156.0h1.15v1.15h-1.15zM107.2 154.6h1.15v1.15h-1.15zM95.8 148.3h1.15v1.15h-1.15zM98.1 157.6h1.15v1.15h-1.15zM107.4 152.5h1.15v1.15h-1.15zM114.0 160.3h1.15v1.15h-1.15zM99.2 146.7h1.15v1.15h-1.15zM88.6 157.1h1.15v1.15h-1.15zM105.8 141.9h1.15v1.15h-1.15zM95.0 147.3h1.15v1.15h-1.15zM107.0 159.2h1.15v1.15h-1.15zM98.7 160.2h1.15v1.15h-1.15zM99.2 150.1h1.15v1.15h-1.15zM83.9 155.0h1.15v1.15h-1.15zM107.1 146.7h1.15v1.15h-1.15zM101.4 145.9h1.15v1.15h-1.15zM106.4 153.5h1.15v1.15h-1.15zM93.2 148.5h1.15v1.15h-1.15zM93.1 162.4h1.15v1.15h-1.15zM94.4 163.1h1.15v1.15h-1.15zM125.0 162.4h1.15v1.15h-1.15zM95.5 143.6h1.15v1.15h-1.15zM104.8 144.2h1.15v1.15h-1.15zM111.8 158.9h1.15v1.15h-1.15zM106.2 151.7h1.15v1.15h-1.15zM92.3 160.0h1.15v1.15h-1.15zM96.3 157.5h1.15v1.15h-1.15zM99.1 146.3h1.15v1.15h-1.15zM96.4 155.2h1.15v1.15h-1.15zM94.4 145.9h1.15v1.15h-1.15zM104.9 150.8h1.15v1.15h-1.15zM102.6 142.1h1.15v1.15h-1.15zM96.3 154.8h1.15v1.15h-1.15zM109.1 155.3h1.15v1.15h-1.15zM95.7 154.4h1.15v1.15h-1.15zM100.3 151.0h1.15v1.15h-1.15zM110.3 162.7h1.15v1.15h-1.15zM109.3 159.7h1.15v1.15h-1.15zM98.2 160.3h1.15v1.15h-1.15zM99.3 144.1h1.15v1.15h-1.15zM101.8 149.9h1.15v1.15h-1.15zM92.9 160.7h1.15v1.15h-1.15zM107.2 148.4h1.15v1.15h-1.15zM123.6 160.0h1.15v1.15h-1.15zM94.1 156.9h1.15v1.15h-1.15zM96.5 143.8h1.15v1.15h-1.15zM104.1 153.1h1.15v1.15h-1.15zM96.8 151.9h1.15v1.15h-1.15zM101.3 150.9h1.15v1.15h-1.15zM102.7 157.4h1.15v1.15h-1.15zM93.6 145.7h1.15v1.15h-1.15zM101.0 162.7h1.15v1.15h-1.15zM104.5 162.7h1.15v1.15h-1.15zM99.9 154.0h1.15v1.15h-1.15zM92.5 157.3h1.15v1.15h-1.15zM110.9 154.2h1.15v1.15h-1.15zM108.2 162.4h1.15v1.15h-1.15zM115.8 155.0h1.15v1.15h-1.15zM115.2 158.4h1.15v1.15h-1.15zM94.7 142.5h1.15v1.15h-1.15zM99.4 159.2h1.15v1.15h-1.15zM94.6 148.9h1.15v1.15h-1.15zM89.2 162.5h1.15v1.15h-1.15zM98.4 147.0h1.15v1.15h-1.15zM84.3 162.3h1.15v1.15h-1.15zM113.0 144.1h1.15v1.15h-1.15zM89.3 145.4h1.15v1.15h-1.15zM92.3 155.4h1.15v1.15h-1.15zM108.8 140.4h1.15v1.15h-1.15zM94.2 146.4h1.15v1.15h-1.15zM100.3 153.9h1.15v1.15h-1.15zM102.9 161.9h1.15v1.15h-1.15zM114.2 163.0h1.15v1.15h-1.15zM97.3 156.9h1.15v1.15h-1.15zM114.9 161.9h1.15v1.15h-1.15zM94.6 148.6h1.15v1.15h-1.15zM96.9 143.5h1.15v1.15h-1.15zM97.9 162.0h1.15v1.15h-1.15zM100.0 143.2h1.15v1.15h-1.15zM107.2 141.3h1.15v1.15h-1.15zM112.3 162.4h1.15v1.15h-1.15zM93.8 162.7h1.15v1.15h-1.15zM104.9 150.1h1.15v1.15h-1.15zM108.9 161.2h1.15v1.15h-1.15zM86.8 163.0h1.15v1.15h-1.15zM86.3 152.3h1.15v1.15h-1.15zM103.3 135.7h1.15v1.15h-1.15zM109.6 155.4h1.15v1.15h-1.15zM101.0 138.8h1.15v1.15h-1.15zM103.9 145.6h1.15v1.15h-1.15zM94.7 158.1h1.15v1.15h-1.15zM104.5 147.1h1.15v1.15h-1.15zM102.9 139.2h1.15v1.15h-1.15zM109.9 144.3h1.15v1.15h-1.15zM102.0 151.1h1.15v1.15h-1.15zM100.0 159.2h1.15v1.15h-1.15zM98.5 131.8h1.15v1.15h-1.15zM105.0 153.2h1.15v1.15h-1.15zM106.8 153.8h1.15v1.15h-1.15zM92.4 158.5h1.15v1.15h-1.15zM103.9 158.9h1.15v1.15h-1.15zM101.6 147.2h1.15v1.15h-1.15zM117.0 146.0h1.15v1.15h-1.15zM103.8 146.6h1.15v1.15h-1.15zM99.7 149.0h1.15v1.15h-1.15zM100.8 140.2h1.15v1.15h-1.15zM108.8 161.5h1.15v1.15h-1.15zM113.7 147.3h1.15v1.15h-1.15zM93.2 138.5h1.15v1.15h-1.15zM98.8 148.2h1.15v1.15h-1.15zM115.7 157.6h1.15v1.15h-1.15zM98.9 153.5h1.15v1.15h-1.15zM104.9 146.4h1.15v1.15h-1.15zM104.1 135.5h1.15v1.15h-1.15zM98.2 139.3h1.15v1.15h-1.15zM94.9 153.0h1.15v1.15h-1.15zM97.0 146.3h1.15v1.15h-1.15zM103.2 142.1h1.15v1.15h-1.15zM97.6 149.8h1.15v1.15h-1.15zM97.3 155.1h1.15v1.15h-1.15zM115.2 146.0h1.15v1.15h-1.15zM101.0 160.5h1.15v1.15h-1.15zM101.2 154.6h1.15v1.15h-1.15zM100.1 157.9h1.15v1.15h-1.15zM106.1 163.0h1.15v1.15h-1.15zM100.9 152.4h1.15v1.15h-1.15zM108.3 158.1h1.15v1.15h-1.15zM107.7 160.7h1.15v1.15h-1.15zM111.5 144.5h1.15v1.15h-1.15zM102.4 130.4h1.15v1.15h-1.15zM97.2 155.3h1.15v1.15h-1.15zM89.7 162.6h1.15v1.15h-1.15zM101.1 147.3h1.15v1.15h-1.15zM107.1 149.8h1.15v1.15h-1.15zM114.1 156.3h1.15v1.15h-1.15zM113.2 145.9h1.15v1.15h-1.15zM97.0 138.1h1.15v1.15h-1.15zM113.3 162.7h1.15v1.15h-1.15zM97.6 148.2h1.15v1.15h-1.15zM94.1 149.5h1.15v1.15h-1.15zM91.1 150.4h1.15v1.15h-1.15zM108.1 157.0h1.15v1.15h-1.15zM100.4 152.4h1.15v1.15h-1.15zM95.2 145.2h1.15v1.15h-1.15zM94.7 150.7h1.15v1.15h-1.15zM103.0 142.8h1.15v1.15h-1.15zM98.5 152.4h1.15v1.15h-1.15zM101.5 145.8h1.15v1.15h-1.15zM98.8 146.8h1.15v1.15h-1.15zM108.2 154.1h1.15v1.15h-1.15zM96.2 158.8h1.15v1.15h-1.15zM90.1 162.5h1.15v1.15h-1.15zM112.5 151.1h1.15v1.15h-1.15zM103.5 162.6h1.15v1.15h-1.15zM109.9 160.2h1.15v1.15h-1.15zM102.2 139.7h1.15v1.15h-1.15zM118.4 147.8h1.15v1.15h-1.15zM99.7 150.0h1.15v1.15h-1.15zM83.0 159.8h1.15v1.15h-1.15zM113.5 147.9h1.15v1.15h-1.15zM84.8 163.0h1.15v1.15h-1.15zM95.9 155.7h1.15v1.15h-1.15zM88.3 156.5h1.15v1.15h-1.15zM104.3 134.5h1.15v1.15h-1.15zM70.5 161.4h1.15v1.15h-1.15zM98.3 162.5h1.15v1.15h-1.15zM94.9 148.3h1.15v1.15h-1.15zM102.0 142.3h1.15v1.15h-1.15zM108.7 153.8h1.15v1.15h-1.15zM85.3 161.6h1.15v1.15h-1.15zM90.6 148.2h1.15v1.15h-1.15zM101.4 141.3h1.15v1.15h-1.15zM101.0 151.9h1.15v1.15h-1.15zM106.1 131.3h1.15v1.15h-1.15zM111.8 155.0h1.15v1.15h-1.15zM105.4 158.2h1.15v1.15h-1.15zM99.9 153.4h1.15v1.15h-1.15zM85.7 157.0h1.15v1.15h-1.15zM96.5 156.8h1.15v1.15h-1.15zM97.9 159.8h1.15v1.15h-1.15zM105.6 132.5h1.15v1.15h-1.15zM99.3 140.1h1.15v1.15h-1.15zM102.4 153.0h1.15v1.15h-1.15zM105.9 152.0h1.15v1.15h-1.15zM95.7 155.3h1.15v1.15h-1.15zM97.5 162.9h1.15v1.15h-1.15zM94.9 150.6h1.15v1.15h-1.15zM101.4 149.1h1.15v1.15h-1.15zM86.6 159.8h1.15v1.15h-1.15zM97.1 141.0h1.15v1.15h-1.15zM105.5 150.0h1.15v1.15h-1.15zM112.8 146.1h1.15v1.15h-1.15zM100.3 148.2h1.15v1.15h-1.15zM111.8 153.0h1.15v1.15h-1.15zM102.1 155.0h1.15v1.15h-1.15zM103.2 148.1h1.15v1.15h-1.15zM98.8 155.8h1.15v1.15h-1.15zM86.6 152.3h1.15v1.15h-1.15zM110.9 148.2h1.15v1.15h-1.15zM101.2 162.8h1.15v1.15h-1.15zM100.7 158.9h1.15v1.15h-1.15zM99.5 159.4h1.15v1.15h-1.15zM104.9 145.9h1.15v1.15h-1.15zM90.6 142.2h1.15v1.15h-1.15zM97.0 150.4h1.15v1.15h-1.15zM100.8 162.7h1.15v1.15h-1.15zM98.4 154.8h1.15v1.15h-1.15zM95.5 140.2h1.15v1.15h-1.15zM88.6 154.5h1.15v1.15h-1.15zM106.4 161.4h1.15v1.15h-1.15zM113.3 151.0h1.15v1.15h-1.15zM106.7 144.9h1.15v1.15h-1.15zM99.8 141.4h1.15v1.15h-1.15zM96.9 157.7h1.15v1.15h-1.15zM107.2 151.6h1.15v1.15h-1.15zM115.8 162.4h1.15v1.15h-1.15zM108.4 158.0h1.15v1.15h-1.15zM89.1 162.3h1.15v1.15h-1.15zM101.5 159.6h1.15v1.15h-1.15zM104.9 158.3h1.15v1.15h-1.15zM101.9 150.9h1.15v1.15h-1.15zM111.6 152.2h1.15v1.15h-1.15zM97.6 150.3h1.15v1.15h-1.15zM107.9 157.8h1.15v1.15h-1.15zM104.5 156.1h1.15v1.15h-1.15zM113.7 162.4h1.15v1.15h-1.15zM107.4 162.4h1.15v1.15h-1.15zM96.5 148.2h1.15v1.15h-1.15zM98.6 153.9h1.15v1.15h-1.15zM110.9 162.9h1.15v1.15h-1.15zM92.6 163.1h1.15v1.15h-1.15zM110.4 162.6h1.15v1.15h-1.15zM113.8 160.1h1.15v1.15h-1.15zM96.7 149.5h1.15v1.15h-1.15zM102.7 146.6h1.15v1.15h-1.15zM91.5 160.7h1.15v1.15h-1.15zM91.7 148.1h1.15v1.15h-1.15zM111.0 162.5h1.15v1.15h-1.15zM101.1 141.1h1.15v1.15h-1.15zM102.4 138.2h1.15v1.15h-1.15zM100.7 145.7h1.15v1.15h-1.15zM101.4 146.5h1.15v1.15h-1.15zM102.3 162.7h1.15v1.15h-1.15zM89.8 161.7h1.15v1.15h-1.15zM112.4 155.0h1.15v1.15h-1.15zM97.4 142.7h1.15v1.15h-1.15zM103.9 142.6h1.15v1.15h-1.15zM87.8 145.8h1.15v1.15h-1.15zM100.9 137.6h1.15v1.15h-1.15zM98.1 150.6h1.15v1.15h-1.15zM109.3 152.0h1.15v1.15h-1.15zM108.8 146.4h1.15v1.15h-1.15zM125.7 144.2h1.15v1.15h-1.15zM93.8 151.6h1.15v1.15h-1.15zM85.7 146.4h1.15v1.15h-1.15zM113.6 158.8h1.15v1.15h-1.15zM99.4 160.4h1.15v1.15h-1.15zM88.4 162.8h1.15v1.15h-1.15zM116.8 161.9h1.15v1.15h-1.15zM105.3 145.6h1.15v1.15h-1.15zM104.1 139.0h1.15v1.15h-1.15zM86.1 162.5h1.15v1.15h-1.15zM109.9 156.1h1.15v1.15h-1.15zM102.2 158.1h1.15v1.15h-1.15zM106.2 149.5h1.15v1.15h-1.15zM102.5 147.9h1.15v1.15h-1.15zM95.4 147.4h1.15v1.15h-1.15zM115.1 152.6h1.15v1.15h-1.15zM103.5 151.5h1.15v1.15h-1.15zM87.6 159.9h1.15v1.15h-1.15zM96.4 157.5h1.15v1.15h-1.15zM114.8 151.3h1.15v1.15h-1.15zM125.1 162.6h1.15v1.15h-1.15zM101.1 149.8h1.15v1.15h-1.15zM110.4 150.5h1.15v1.15h-1.15zM101.3 157.1h1.15v1.15h-1.15zM100.1 149.5h1.15v1.15h-1.15zM98.5 162.5h1.15v1.15h-1.15zM96.5 152.4h1.15v1.15h-1.15zM104.3 152.5h1.15v1.15h-1.15zM100.9 149.1h1.15v1.15h-1.15zM107.1 154.4h1.15v1.15h-1.15zM92.4 162.9h1.15v1.15h-1.15zM100.9 157.3h1.15v1.15h-1.15zM109.2 157.7h1.15v1.15h-1.15zM98.1 153.7h1.15v1.15h-1.15zM90.8 155.0h1.15v1.15h-1.15zM94.1 154.7h1.15v1.15h-1.15zM103.0 156.1h1.15v1.15h-1.15zM92.2 150.7h1.15v1.15h-1.15zM96.1 152.9h1.15v1.15h-1.15zM107.6 151.3h1.15v1.15h-1.15zM89.2 160.2h1.15v1.15h-1.15zM115.3 160.1h1.15v1.15h-1.15zM104.7 161.6h1.15v1.15h-1.15zM116.4 151.7h1.15v1.15h-1.15zM89.8 149.9h1.15v1.15h-1.15zM104.4 153.2h1.15v1.15h-1.15zM93.5 144.1h1.15v1.15h-1.15zM103.2 162.4h1.15v1.15h-1.15zM108.7 145.8h1.15v1.15h-1.15zM89.9 141.1h1.15v1.15h-1.15zM94.6 146.4h1.15v1.15h-1.15zM91.7 153.6h1.15v1.15h-1.15zM104.6 162.9h1.15v1.15h-1.15zM105.3 145.8h1.15v1.15h-1.15zM105.3 147.7h1.15v1.15h-1.15zM113.6 147.1h1.15v1.15h-1.15zM94.6 159.5h1.15v1.15h-1.15zM98.0 154.9h1.15v1.15h-1.15zM100.9 138.4h1.15v1.15h-1.15zM93.2 154.0h1.15v1.15h-1.15zM125.5 163.1h1.15v1.15h-1.15zM95.6 142.8h1.15v1.15h-1.15zM105.2 150.0h1.15v1.15h-1.15zM98.8 144.6h1.15v1.15h-1.15zM92.1 162.1h1.15v1.15h-1.15zM90.6 152.8h1.15v1.15h-1.15zM97.3 152.5h1.15v1.15h-1.15zM101.6 162.6h1.15v1.15h-1.15zM105.5 153.8h1.15v1.15h-1.15zM89.7 148.6h1.15v1.15h-1.15zM96.6 149.1h1.15v1.15h-1.15zM102.7 137.9h1.15v1.15h-1.15zM91.1 140.6h1.15v1.15h-1.15zM112.0 163.1h1.15v1.15h-1.15zM95.6 145.0h1.15v1.15h-1.15zM106.6 160.3h1.15v1.15h-1.15zM89.6 144.0h1.15v1.15h-1.15zM107.6 161.4h1.15v1.15h-1.15zM97.7 153.6h1.15v1.15h-1.15zM84.8 162.8h1.15v1.15h-1.15zM106.7 153.6h1.15v1.15h-1.15zM111.1 154.1h1.15v1.15h-1.15zM84.6 147.1h1.15v1.15h-1.15zM97.5 132.8h1.15v1.15h-1.15zM106.1 141.2h1.15v1.15h-1.15zM101.9 161.3h1.15v1.15h-1.15zM102.6 156.9h1.15v1.15h-1.15zM97.8 153.9h1.15v1.15h-1.15zM111.2 149.2h1.15v1.15h-1.15zM101.6 150.3h1.15v1.15h-1.15zM112.0 162.2h1.15v1.15h-1.15zM103.9 149.3h1.15v1.15h-1.15zM102.8 144.3h1.15v1.15h-1.15zM101.9 155.1h1.15v1.15h-1.15zM105.1 153.8h1.15v1.15h-1.15zM98.1 131.9h1.15v1.15h-1.15zM97.7 153.1h1.15v1.15h-1.15zM100.2 144.6h1.15v1.15h-1.15zM99.4 162.6h1.15v1.15h-1.15zM111.1 152.0h1.15v1.15h-1.15zM100.7 144.2h1.15v1.15h-1.15zM100.5 149.0h1.15v1.15h-1.15zM108.2 130.4h1.15v1.15h-1.15zM106.9 144.3h1.15v1.15h-1.15zM86.0 152.7h1.15v1.15h-1.15zM93.6 151.7h1.15v1.15h-1.15zM96.5 151.1h1.15v1.15h-1.15zM100.9 151.3h1.15v1.15h-1.15zM107.1 154.3h1.15v1.15h-1.15zM111.1 144.1h1.15v1.15h-1.15zM105.1 163.0h1.15v1.15h-1.15zM92.6 162.6h1.15v1.15h-1.15zM80.5 162.7h1.15v1.15h-1.15zM100.0 153.8h1.15v1.15h-1.15zM89.0 154.8h1.15v1.15h-1.15zM97.0 153.2h1.15v1.15h-1.15zM108.2 161.4h1.15v1.15h-1.15zM95.6 142.2h1.15v1.15h-1.15zM113.0 157.1h1.15v1.15h-1.15zM100.4 158.8h1.15v1.15h-1.15zM78.0 161.6h1.15v1.15h-1.15zM94.4 148.1h1.15v1.15h-1.15zM105.8 144.1h1.15v1.15h-1.15zM104.4 154.8h1.15v1.15h-1.15zM107.0 151.4h1.15v1.15h-1.15zM96.4 158.9h1.15v1.15h-1.15zM92.7 160.2h1.15v1.15h-1.15zM87.4 162.5h1.15v1.15h-1.15zM103.7 146.4h1.15v1.15h-1.15zM99.4 145.6h1.15v1.15h-1.15zM99.6 153.6h1.15v1.15h-1.15zM96.6 147.3h1.15v1.15h-1.15zM106.0 143.1h1.15v1.15h-1.15zM97.1 162.8h1.15v1.15h-1.15zM93.6 162.7h1.15v1.15h-1.15zM99.9 147.2h1.15v1.15h-1.15zM91.7 154.8h1.15v1.15h-1.15zM81.8 153.9h1.15v1.15h-1.15zM94.5 143.1h1.15v1.15h-1.15zM100.6 148.1h1.15v1.15h-1.15zM102.6 149.4h1.15v1.15h-1.15zM128.7 162.5h1.15v1.15h-1.15zM104.8 149.1h1.15v1.15h-1.15zM103.0 149.7h1.15v1.15h-1.15zM98.4 147.6h1.15v1.15h-1.15zM114.6 154.9h1.15v1.15h-1.15zM101.2 153.7h1.15v1.15h-1.15zM91.4 150.0h1.15v1.15h-1.15zM102.5 143.5h1.15v1.15h-1.15zM102.6 160.3h1.15v1.15h-1.15zM101.0 144.8h1.15v1.15h-1.15zM101.6 160.1h1.15v1.15h-1.15zM86.4 161.2h1.15v1.15h-1.15zM91.7 155.1h1.15v1.15h-1.15zM101.9 136.0h1.15v1.15h-1.15zM106.5 156.9h1.15v1.15h-1.15zM102.9 162.3h1.15v1.15h-1.15zM105.3 132.1h1.15v1.15h-1.15zM97.5 160.3h1.15v1.15h-1.15zM102.0 148.4h1.15v1.15h-1.15zM91.4 152.6h1.15v1.15h-1.15zM120.2 161.0h1.15v1.15h-1.15zM103.6 157.8h1.15v1.15h-1.15zM103.6 123.7h1.15v1.15h-1.15zM107.6 156.7h1.15v1.15h-1.15zM94.0 154.4h1.15v1.15h-1.15zM101.2 153.9h1.15v1.15h-1.15zM109.4 153.0h1.15v1.15h-1.15zM98.5 154.7h1.15v1.15h-1.15zM88.8 144.2h1.15v1.15h-1.15zM98.5 163.1h1.15v1.15h-1.15zM102.5 146.5h1.15v1.15h-1.15zM106.8 157.0h1.15v1.15h-1.15zM90.9 151.4h1.15v1.15h-1.15zM107.6 157.2h1.15v1.15h-1.15zM112.9 162.5h1.15v1.15h-1.15zM103.9 131.0h1.15v1.15h-1.15zM101.0 158.1h1.15v1.15h-1.15zM107.5 152.2h1.15v1.15h-1.15zM95.0 144.5h1.15v1.15h-1.15zM100.7 137.8h1.15v1.15h-1.15zM100.7 145.1h1.15v1.15h-1.15zM87.6 142.2h1.15v1.15h-1.15zM105.6 161.7h1.15v1.15h-1.15zM115.1 161.4h1.15v1.15h-1.15zM106.5 137.6h1.15v1.15h-1.15zM87.2 142.0h1.15v1.15h-1.15zM97.6 142.4h1.15v1.15h-1.15zM98.6 162.8h1.15v1.15h-1.15zM117.6 163.0h1.15v1.15h-1.15zM89.0 162.6h1.15v1.15h-1.15zM97.3 162.5h1.15v1.15h-1.15zM98.8 147.4h1.15v1.15h-1.15zM110.5 162.7h1.15v1.15h-1.15zM111.0 160.1h1.15v1.15h-1.15zM108.5 151.8h1.15v1.15h-1.15zM91.9 160.8h1.15v1.15h-1.15zM86.1 152.2h1.15v1.15h-1.15zM104.9 143.8h1.15v1.15h-1.15zM104.7 145.1h1.15v1.15h-1.15zM83.0 155.6h1.15v1.15h-1.15zM113.8 148.4h1.15v1.15h-1.15zM103.0 152.6h1.15v1.15h-1.15zM89.9 146.6h1.15v1.15h-1.15zM119.3 139.1h1.15v1.15h-1.15zM94.7 151.0h1.15v1.15h-1.15zM84.9 153.4h1.15v1.15h-1.15zM120.4 162.8h1.15v1.15h-1.15zM110.0 151.1h1.15v1.15h-1.15zM100.4 142.2h1.15v1.15h-1.15zM104.8 151.6h1.15v1.15h-1.15zM93.9 143.2h1.15v1.15h-1.15zM94.3 149.5h1.15v1.15h-1.15zM100.6 153.4h1.15v1.15h-1.15zM103.1 153.5h1.15v1.15h-1.15zM99.1 142.7h1.15v1.15h-1.15zM112.7 153.9h1.15v1.15h-1.15zM102.0 154.7h1.15v1.15h-1.15zM96.1 163.0h1.15v1.15h-1.15zM94.4 146.7h1.15v1.15h-1.15zM99.3 136.6h1.15v1.15h-1.15zM90.5 139.6h1.15v1.15h-1.15zM87.5 144.5h1.15v1.15h-1.15zM115.4 162.8h1.15v1.15h-1.15zM92.5 162.3h1.15v1.15h-1.15zM93.3 152.7h1.15v1.15h-1.15zM100.4 137.7h1.15v1.15h-1.15zM106.6 162.3h1.15v1.15h-1.15zM97.7 140.1h1.15v1.15h-1.15zM110.4 146.1h1.15v1.15h-1.15zM93.6 151.7h1.15v1.15h-1.15zM87.8 144.7h1.15v1.15h-1.15zM108.4 145.3h1.15v1.15h-1.15zM103.0 136.2h1.15v1.15h-1.15zM108.8 151.5h1.15v1.15h-1.15zM108.1 142.8h1.15v1.15h-1.15zM127.4 162.7h1.15v1.15h-1.15zM93.3 151.3h1.15v1.15h-1.15zM103.6 160.7h1.15v1.15h-1.15zM100.4 149.1h1.15v1.15h-1.15zM100.1 162.7h1.15v1.15h-1.15zM103.2 158.7h1.15v1.15h-1.15zM111.1 146.0h1.15v1.15h-1.15zM111.6 156.9h1.15v1.15h-1.15zM112.6 151.0h1.15v1.15h-1.15zM93.1 148.5h1.15v1.15h-1.15zM89.8 152.4h1.15v1.15h-1.15zM109.7 162.7h1.15v1.15h-1.15zM81.1 153.5h1.15v1.15h-1.15zM112.5 142.5h1.15v1.15h-1.15zM114.7 153.9h1.15v1.15h-1.15zM102.7 162.7h1.15v1.15h-1.15zM104.1 142.8h1.15v1.15h-1.15zM106.0 148.1h1.15v1.15h-1.15zM91.6 148.2h1.15v1.15h-1.15zM104.5 158.8h1.15v1.15h-1.15zM98.6 158.7h1.15v1.15h-1.15zM112.1 149.4h1.15v1.15h-1.15zM112.2 138.0h1.15v1.15h-1.15zM101.4 156.8h1.15v1.15h-1.15zM107.2 153.2h1.15v1.15h-1.15zM104.0 145.9h1.15v1.15h-1.15zM88.8 144.3h1.15v1.15h-1.15zM102.8 154.2h1.15v1.15h-1.15zM107.3 158.0h1.15v1.15h-1.15zM109.6 158.4h1.15v1.15h-1.15zM110.3 143.4h1.15v1.15h-1.15zM94.5 162.8h1.15v1.15h-1.15zM98.5 149.6h1.15v1.15h-1.15zM93.9 138.9h1.15v1.15h-1.15zM98.5 155.9h1.15v1.15h-1.15zM121.2 161.6h1.15v1.15h-1.15zM89.5 147.7h1.15v1.15h-1.15zM108.0 163.1h1.15v1.15h-1.15zM87.0 151.1h1.15v1.15h-1.15zM102.5 152.1h1.15v1.15h-1.15zM73.4 149.1h1.15v1.15h-1.15zM97.0 146.5h1.15v1.15h-1.15zM113.5 145.0h1.15v1.15h-1.15zM100.0 160.3h1.15v1.15h-1.15zM133.7 157.6h1.15v1.15h-1.15zM105.3 144.1h1.15v1.15h-1.15zM113.3 147.3h1.15v1.15h-1.15zM100.6 161.9h1.15v1.15h-1.15zM94.2 157.7h1.15v1.15h-1.15zM107.0 138.9h1.15v1.15h-1.15zM98.5 162.5h1.15v1.15h-1.15zM81.4 161.3h1.15v1.15h-1.15zM98.2 162.4h1.15v1.15h-1.15zM102.6 151.6h1.15v1.15h-1.15zM100.8 144.5h1.15v1.15h-1.15zM102.0 162.9h1.15v1.15h-1.15zM101.2 153.8h1.15v1.15h-1.15zM111.1 142.9h1.15v1.15h-1.15zM92.0 146.5h1.15v1.15h-1.15zM102.2 148.7h1.15v1.15h-1.15zM87.2 159.4h1.15v1.15h-1.15zM103.1 141.6h1.15v1.15h-1.15zM91.7 155.7h1.15v1.15h-1.15zM103.1 142.7h1.15v1.15h-1.15zM88.3 151.2h1.15v1.15h-1.15zM112.6 144.9h1.15v1.15h-1.15zM109.2 143.4h1.15v1.15h-1.15zM111.1 139.3h1.15v1.15h-1.15zM94.7 162.8h1.15v1.15h-1.15zM108.4 147.0h1.15v1.15h-1.15zM100.6 150.6h1.15v1.15h-1.15zM98.6 133.7h1.15v1.15h-1.15zM111.6 162.6h1.15v1.15h-1.15zM101.6 162.5h1.15v1.15h-1.15zM92.8 152.6h1.15v1.15h-1.15zM116.4 162.4h1.15v1.15h-1.15zM96.1 151.3h1.15v1.15h-1.15zM101.9 142.2h1.15v1.15h-1.15zM108.4 145.9h1.15v1.15h-1.15zM105.1 129.4h1.15v1.15h-1.15zM91.0 136.2h1.15v1.15h-1.15zM98.7 156.9h1.15v1.15h-1.15zM93.3 153.5h1.15v1.15h-1.15zM96.8 143.4h1.15v1.15h-1.15zM94.7 151.9h1.15v1.15h-1.15zM95.0 148.8h1.15v1.15h-1.15zM91.6 154.4h1.15v1.15h-1.15zM88.0 134.6h1.15v1.15h-1.15zM102.7 152.2h1.15v1.15h-1.15zM94.3 160.6h1.15v1.15h-1.15zM91.7 142.7h1.15v1.15h-1.15zM95.7 158.9h1.15v1.15h-1.15zM101.1 160.8h1.15v1.15h-1.15zM86.6 150.1h1.15v1.15h-1.15zM107.9 146.6h1.15v1.15h-1.15zM107.1 147.2h1.15v1.15h-1.15zM108.0 138.4h1.15v1.15h-1.15zM116.6 162.5h1.15v1.15h-1.15zM98.5 141.1h1.15v1.15h-1.15zM114.5 148.0h1.15v1.15h-1.15zM95.1 158.3h1.15v1.15h-1.15zM101.9 146.4h1.15v1.15h-1.15zM118.7 152.3h1.15v1.15h-1.15zM95.5 146.6h1.15v1.15h-1.15zM98.0 148.9h1.15v1.15h-1.15zM102.1 160.4h1.15v1.15h-1.15zM99.7 147.6h1.15v1.15h-1.15zM100.2 145.1h1.15v1.15h-1.15zM115.7 151.3h1.15v1.15h-1.15zM110.6 143.4h1.15v1.15h-1.15zM93.5 152.4h1.15v1.15h-1.15zM106.3 162.7h1.15v1.15h-1.15zM97.2 141.1h1.15v1.15h-1.15zM98.4 134.7h1.15v1.15h-1.15zM103.8 162.6h1.15v1.15h-1.15zM108.7 136.9h1.15v1.15h-1.15zM93.4 161.5h1.15v1.15h-1.15zM102.8 162.8h1.15v1.15h-1.15zM96.9 138.1h1.15v1.15h-1.15zM117.2 162.9h1.15v1.15h-1.15zM104.3 152.4h1.15v1.15h-1.15zM106.6 157.7h1.15v1.15h-1.15zM99.8 132.6h1.15v1.15h-1.15zM108.6 155.7h1.15v1.15h-1.15zM109.1 143.9h1.15v1.15h-1.15zM110.4 144.7h1.15v1.15h-1.15zM104.1 153.9h1.15v1.15h-1.15zM97.0 140.4h1.15v1.15h-1.15zM104.0 154.2h1.15v1.15h-1.15zM99.2 150.9h1.15v1.15h-1.15zM94.4 163.0h1.15v1.15h-1.15zM103.4 150.0h1.15v1.15h-1.15zM106.7 159.1h1.15v1.15h-1.15zM84.9 162.5h1.15v1.15h-1.15zM94.6 145.1h1.15v1.15h-1.15zM101.3 140.0h1.15v1.15h-1.15zM102.0 143.8h1.15v1.15h-1.15zM95.1 156.1h1.15v1.15h-1.15zM107.5 141.8h1.15v1.15h-1.15zM99.8 160.0h1.15v1.15h-1.15zM104.9 144.5h1.15v1.15h-1.15zM110.1 154.4h1.15v1.15h-1.15zM96.3 153.7h1.15v1.15h-1.15zM102.7 145.5h1.15v1.15h-1.15zM96.9 139.5h1.15v1.15h-1.15zM109.6 159.7h1.15v1.15h-1.15zM114.6 157.1h1.15v1.15h-1.15zM96.7 149.8h1.15v1.15h-1.15zM109.3 153.3h1.15v1.15h-1.15zM115.0 143.9h1.15v1.15h-1.15zM88.5 163.0h1.15v1.15h-1.15zM106.8 145.0h1.15v1.15h-1.15zM111.6 155.2h1.15v1.15h-1.15zM100.7 155.9h1.15v1.15h-1.15zM105.1 148.0h1.15v1.15h-1.15zM95.3 156.4h1.15v1.15h-1.15zM102.1 149.6h1.15v1.15h-1.15zM93.0 148.7h1.15v1.15h-1.15zM87.6 156.7h1.15v1.15h-1.15zM95.2 152.2h1.15v1.15h-1.15zM113.5 152.3h1.15v1.15h-1.15zM110.7 162.5h1.15v1.15h-1.15zM102.2 144.4h1.15v1.15h-1.15zM108.1 162.0h1.15v1.15h-1.15zM97.6 153.0h1.15v1.15h-1.15zM111.3 162.9h1.15v1.15h-1.15zM103.8 137.6h1.15v1.15h-1.15zM109.0 131.9h1.15v1.15h-1.15zM95.8 157.6h1.15v1.15h-1.15zM99.9 141.4h1.15v1.15h-1.15zM105.2 137.5h1.15v1.15h-1.15zM88.1 148.0h1.15v1.15h-1.15zM112.1 152.2h1.15v1.15h-1.15zM99.6 141.6h1.15v1.15h-1.15zM104.0 162.7h1.15v1.15h-1.15zM119.0 161.4h1.15v1.15h-1.15zM98.4 139.3h1.15v1.15h-1.15zM90.1 151.6h1.15v1.15h-1.15zM100.3 154.9h1.15v1.15h-1.15zM106.1 149.9h1.15v1.15h-1.15zM97.7 148.5h1.15v1.15h-1.15zM102.8 156.9h1.15v1.15h-1.15zM112.5 157.2h1.15v1.15h-1.15zM104.0 143.3h1.15v1.15h-1.15zM102.9 162.8h1.15v1.15h-1.15zM105.7 152.3h1.15v1.15h-1.15zM103.8 157.0h1.15v1.15h-1.15zM104.7 148.2h1.15v1.15h-1.15zM102.9 147.5h1.15v1.15h-1.15zM85.0 150.8h1.15v1.15h-1.15zM104.8 150.9h1.15v1.15h-1.15zM101.1 155.9h1.15v1.15h-1.15zM92.3 144.0h1.15v1.15h-1.15zM103.1 134.6h1.15v1.15h-1.15zM114.9 160.6h1.15v1.15h-1.15zM88.4 162.4h1.15v1.15h-1.15zM105.1 143.0h1.15v1.15h-1.15zM94.3 157.2h1.15v1.15h-1.15zM104.1 152.3h1.15v1.15h-1.15zM106.6 153.7h1.15v1.15h-1.15zM98.3 159.0h1.15v1.15h-1.15zM114.9 138.6h1.15v1.15h-1.15zM93.9 149.1h1.15v1.15h-1.15zM107.7 158.8h1.15v1.15h-1.15zM119.9 147.1h1.15v1.15h-1.15zM108.1 132.3h1.15v1.15h-1.15zM104.5 152.1h1.15v1.15h-1.15zM99.8 155.1h1.15v1.15h-1.15zM89.9 155.1h1.15v1.15h-1.15zM116.7 149.0h1.15v1.15h-1.15zM107.4 130.4h1.15v1.15h-1.15zM97.6 133.3h1.15v1.15h-1.15zM97.8 159.9h1.15v1.15h-1.15zM90.3 147.5h1.15v1.15h-1.15zM100.4 151.4h1.15v1.15h-1.15zM90.0 146.9h1.15v1.15h-1.15zM105.6 153.7h1.15v1.15h-1.15zM107.3 162.1h1.15v1.15h-1.15zM115.2 162.8h1.15v1.15h-1.15zM101.4 162.8h1.15v1.15h-1.15zM110.9 156.1h1.15v1.15h-1.15zM94.3 139.2h1.15v1.15h-1.15zM96.5 158.3h1.15v1.15h-1.15zM104.3 162.6h1.15v1.15h-1.15zM92.0 143.2h1.15v1.15h-1.15zM89.6 156.9h1.15v1.15h-1.15zM97.7 154.3h1.15v1.15h-1.15zM96.5 163.0h1.15v1.15h-1.15zM114.1 158.4h1.15v1.15h-1.15zM118.1 145.5h1.15v1.15h-1.15zM111.3 150.6h1.15v1.15h-1.15zM101.6 132.2h1.15v1.15h-1.15zM116.8 146.4h1.15v1.15h-1.15zM91.3 150.6h1.15v1.15h-1.15zM93.8 162.5h1.15v1.15h-1.15zM101.2 150.0h1.15v1.15h-1.15zM114.8 154.7h1.15v1.15h-1.15zM111.9 161.5h1.15v1.15h-1.15zM108.2 147.6h1.15v1.15h-1.15zM84.7 159.6h1.15v1.15h-1.15zM92.5 152.3h1.15v1.15h-1.15zM99.3 128.3h1.15v1.15h-1.15zM95.4 162.8h1.15v1.15h-1.15zM113.9 163.1h1.15v1.15h-1.15zM112.1 161.6h1.15v1.15h-1.15zM116.9 157.1h1.15v1.15h-1.15zM97.3 150.4h1.15v1.15h-1.15zM75.8 162.6h1.15v1.15h-1.15zM99.6 162.7h1.15v1.15h-1.15zM80.1 161.4h1.15v1.15h-1.15zM98.6 151.2h1.15v1.15h-1.15zM109.6 143.2h1.15v1.15h-1.15zM105.5 149.0h1.15v1.15h-1.15zM103.1 147.9h1.15v1.15h-1.15zM102.5 148.6h1.15v1.15h-1.15zM96.1 151.5h1.15v1.15h-1.15zM100.2 156.1h1.15v1.15h-1.15zM94.5 144.1h1.15v1.15h-1.15zM114.4 156.2h1.15v1.15h-1.15zM99.2 141.2h1.15v1.15h-1.15zM111.7 156.2h1.15v1.15h-1.15zM90.3 158.5h1.15v1.15h-1.15zM109.7 152.7h1.15v1.15h-1.15zM99.9 154.4h1.15v1.15h-1.15zM103.0 142.3h1.15v1.15h-1.15zM102.2 151.8h1.15v1.15h-1.15zM115.1 162.7h1.15v1.15h-1.15zM110.5 150.0h1.15v1.15h-1.15zM103.1 155.7h1.15v1.15h-1.15zM87.2 159.2h1.15v1.15h-1.15zM109.4 154.8h1.15v1.15h-1.15zM105.9 159.0h1.15v1.15h-1.15zM100.6 138.3h1.15v1.15h-1.15zM101.5 135.9h1.15v1.15h-1.15zM101.7 163.1h1.15v1.15h-1.15zM113.3 160.8h1.15v1.15h-1.15zM119.1 163.1h1.15v1.15h-1.15zM117.3 162.8h1.15v1.15h-1.15zM98.9 141.6h1.15v1.15h-1.15zM107.8 158.1h1.15v1.15h-1.15zM110.1 143.0h1.15v1.15h-1.15zM88.1 155.0h1.15v1.15h-1.15zM111.4 156.4h1.15v1.15h-1.15zM98.9 156.9h1.15v1.15h-1.15zM110.1 145.6h1.15v1.15h-1.15zM101.8 154.3h1.15v1.15h-1.15zM93.6 149.0h1.15v1.15h-1.15zM100.0 136.4h1.15v1.15h-1.15zM109.9 161.9h1.15v1.15h-1.15zM113.4 146.6h1.15v1.15h-1.15zM93.5 150.4h1.15v1.15h-1.15zM116.1 160.7h1.15v1.15h-1.15zM92.1 149.1h1.15v1.15h-1.15zM81.1 151.8h1.15v1.15h-1.15zM115.2 152.9h1.15v1.15h-1.15zM95.2 154.7h1.15v1.15h-1.15zM97.0 158.4h1.15v1.15h-1.15zM98.0 162.3h1.15v1.15h-1.15zM89.5 162.8h1.15v1.15h-1.15zM104.2 141.5h1.15v1.15h-1.15zM92.9 155.4h1.15v1.15h-1.15zM97.9 157.2h1.15v1.15h-1.15zM101.3 147.7h1.15v1.15h-1.15zM108.7 155.8h1.15v1.15h-1.15zM106.0 163.0h1.15v1.15h-1.15zM96.8 146.2h1.15v1.15h-1.15zM90.8 155.6h1.15v1.15h-1.15zM98.7 150.9h1.15v1.15h-1.15zM103.4 151.6h1.15v1.15h-1.15zM118.9 161.3h1.15v1.15h-1.15zM112.1 159.9h1.15v1.15h-1.15zM109.1 143.3h1.15v1.15h-1.15zM87.3 162.3h1.15v1.15h-1.15zM99.7 160.8h1.15v1.15h-1.15zM100.5 162.9h1.15v1.15h-1.15zM110.2 147.5h1.15v1.15h-1.15zM98.5 154.6h1.15v1.15h-1.15zM92.0 162.2h1.15v1.15h-1.15zM97.8 145.2h1.15v1.15h-1.15zM107.0 146.0h1.15v1.15h-1.15zM93.2 150.4h1.15v1.15h-1.15zM86.2 148.5h1.15v1.15h-1.15zM102.8 153.8h1.15v1.15h-1.15zM99.6 157.6h1.15v1.15h-1.15zM93.2 155.8h1.15v1.15h-1.15zM103.2 152.6h1.15v1.15h-1.15zM105.8 142.0h1.15v1.15h-1.15zM102.4 153.6h1.15v1.15h-1.15zM117.7 148.3h1.15v1.15h-1.15zM95.3 152.4h1.15v1.15h-1.15zM106.2 145.2h1.15v1.15h-1.15zM95.3 150.6h1.15v1.15h-1.15zM108.9 146.2h1.15v1.15h-1.15zM111.2 153.1h1.15v1.15h-1.15zM91.7 152.3h1.15v1.15h-1.15zM105.1 159.8h1.15v1.15h-1.15zM99.6 146.8h1.15v1.15h-1.15zM107.8 144.1h1.15v1.15h-1.15zM105.7 148.8h1.15v1.15h-1.15zM99.5 154.6h1.15v1.15h-1.15zM99.6 155.6h1.15v1.15h-1.15zM99.1 142.3h1.15v1.15h-1.15zM107.0 142.4h1.15v1.15h-1.15zM96.2 157.9h1.15v1.15h-1.15zM104.3 157.7h1.15v1.15h-1.15zM92.4 160.7h1.15v1.15h-1.15zM93.3 152.6h1.15v1.15h-1.15zM112.2 146.6h1.15v1.15h-1.15zM97.0 135.3h1.15v1.15h-1.15zM109.2 156.5h1.15v1.15h-1.15zM86.9 145.7h1.15v1.15h-1.15zM104.0 137.8h1.15v1.15h-1.15zM111.3 161.8h1.15v1.15h-1.15zM112.0 146.2h1.15v1.15h-1.15zM107.0 150.8h1.15v1.15h-1.15zM115.1 150.8h1.15v1.15h-1.15zM85.2 148.0h1.15v1.15h-1.15zM103.4 149.7h1.15v1.15h-1.15zM95.4 154.8h1.15v1.15h-1.15zM92.5 150.4h1.15v1.15h-1.15zM102.6 150.4h1.15v1.15h-1.15zM116.7 154.4h1.15v1.15h-1.15zM104.7 135.4h1.15v1.15h-1.15zM91.1 156.1h1.15v1.15h-1.15zM101.8 153.0h1.15v1.15h-1.15zM106.9 143.9h1.15v1.15h-1.15zM109.8 163.0h1.15v1.15h-1.15zM99.0 146.5h1.15v1.15h-1.15zM107.4 145.4h1.15v1.15h-1.15zM106.9 151.1h1.15v1.15h-1.15zM92.8 146.5h1.15v1.15h-1.15zM118.1 163.0h1.15v1.15h-1.15zM109.0 153.6h1.15v1.15h-1.15zM108.4 145.9h1.15v1.15h-1.15zM99.5 155.6h1.15v1.15h-1.15zM97.7 141.8h1.15v1.15h-1.15zM109.9 152.0h1.15v1.15h-1.15zM105.8 135.7h1.15v1.15h-1.15zM91.8 154.0h1.15v1.15h-1.15zM105.9 159.7h1.15v1.15h-1.15zM92.8 156.1h1.15v1.15h-1.15zM108.1 143.0h1.15v1.15h-1.15zM105.9 162.6h1.15v1.15h-1.15zM108.6 159.1h1.15v1.15h-1.15zM96.1 156.5h1.15v1.15h-1.15zM100.7 144.7h1.15v1.15h-1.15zM99.6 144.4h1.15v1.15h-1.15zM114.3 141.6h1.15v1.15h-1.15zM79.5 141.5h1.15v1.15h-1.15zM109.3 147.6h1.15v1.15h-1.15zM111.6 141.1h1.15v1.15h-1.15zM109.7 143.8h1.15v1.15h-1.15zM112.6 157.1h1.15v1.15h-1.15zM119.9 150.1h1.15v1.15h-1.15zM112.9 138.4h1.15v1.15h-1.15zM99.2 145.3h1.15v1.15h-1.15zM98.2 133.8h1.15v1.15h-1.15zM88.6 146.9h1.15v1.15h-1.15zM98.2 141.6h1.15v1.15h-1.15zM117.3 162.6h1.15v1.15h-1.15zM93.9 144.6h1.15v1.15h-1.15zM114.3 147.6h1.15v1.15h-1.15zM100.8 145.0h1.15v1.15h-1.15zM100.9 162.6h1.15v1.15h-1.15zM88.9 159.4h1.15v1.15h-1.15zM111.2 136.5h1.15v1.15h-1.15zM93.1 162.9h1.15v1.15h-1.15zM105.1 143.2h1.15v1.15h-1.15zM109.0 162.4h1.15v1.15h-1.15zM97.4 144.5h1.15v1.15h-1.15zM100.2 153.0h1.15v1.15h-1.15zM105.3 147.2h1.15v1.15h-1.15zM97.5 146.2h1.15v1.15h-1.15zM94.0 138.2h1.15v1.15h-1.15zM104.0 148.8h1.15v1.15h-1.15zM103.7 162.7h1.15v1.15h-1.15zM102.6 150.4h1.15v1.15h-1.15zM102.1 152.6h1.15v1.15h-1.15zM100.2 154.5h1.15v1.15h-1.15zM109.9 148.2h1.15v1.15h-1.15zM99.5 147.0h1.15v1.15h-1.15zM93.7 145.0h1.15v1.15h-1.15zM101.5 156.2h1.15v1.15h-1.15zM105.7 151.3h1.15v1.15h-1.15zM107.5 150.9h1.15v1.15h-1.15zM105.9 162.9h1.15v1.15h-1.15zM86.3 151.9h1.15v1.15h-1.15zM100.0 152.9h1.15v1.15h-1.15zM95.9 138.2h1.15v1.15h-1.15zM94.7 144.6h1.15v1.15h-1.15zM106.9 138.3h1.15v1.15h-1.15zM100.5 144.7h1.15v1.15h-1.15zM102.1 142.8h1.15v1.15h-1.15zM115.1 157.3h1.15v1.15h-1.15zM89.6 158.7h1.15v1.15h-1.15zM102.6 161.0h1.15v1.15h-1.15zM97.3 152.9h1.15v1.15h-1.15zM101.6 139.5h1.15v1.15h-1.15zM100.5 145.0h1.15v1.15h-1.15zM103.8 163.0h1.15v1.15h-1.15zM96.8 144.1h1.15v1.15h-1.15zM97.8 151.7h1.15v1.15h-1.15zM98.8 162.4h1.15v1.15h-1.15zM116.0 157.8h1.15v1.15h-1.15zM109.2 142.9h1.15v1.15h-1.15zM94.0 149.6h1.15v1.15h-1.15zM98.3 161.0h1.15v1.15h-1.15zM103.9 139.2h1.15v1.15h-1.15zM120.3 162.9h1.15v1.15h-1.15zM114.6 143.6h1.15v1.15h-1.15zM105.6 155.1h1.15v1.15h-1.15zM98.9 147.1h1.15v1.15h-1.15zM103.8 147.1h1.15v1.15h-1.15zM88.7 150.2h1.15v1.15h-1.15zM97.8 150.6h1.15v1.15h-1.15zM106.0 163.0h1.15v1.15h-1.15zM91.8 150.1h1.15v1.15h-1.15zM93.3 162.6h1.15v1.15h-1.15zM91.9 157.1h1.15v1.15h-1.15zM104.8 151.6h1.15v1.15h-1.15zM90.6 148.8h1.15v1.15h-1.15zM95.4 145.5h1.15v1.15h-1.15zM105.1 134.1h1.15v1.15h-1.15zM105.0 149.1h1.15v1.15h-1.15zM96.2 162.4h1.15v1.15h-1.15zM100.9 161.5h1.15v1.15h-1.15zM111.2 157.9h1.15v1.15h-1.15zM102.3 144.0h1.15v1.15h-1.15zM95.3 153.9h1.15v1.15h-1.15zM100.7 158.2h1.15v1.15h-1.15zM116.6 149.0h1.15v1.15h-1.15zM116.1 153.8h1.15v1.15h-1.15zM110.4 151.1h1.15v1.15h-1.15zM103.0 146.1h1.15v1.15h-1.15zM79.9 161.4h1.15v1.15h-1.15zM99.4 156.9h1.15v1.15h-1.15zM103.7 161.4h1.15v1.15h-1.15zM91.2 151.7h1.15v1.15h-1.15zM92.3 162.6h1.15v1.15h-1.15zM110.5 151.8h1.15v1.15h-1.15zM105.9 160.2h1.15v1.15h-1.15zM94.4 152.5h1.15v1.15h-1.15zM112.7 156.6h1.15v1.15h-1.15zM92.7 162.1h1.15v1.15h-1.15zM108.6 159.4h1.15v1.15h-1.15zM118.2 154.4h1.15v1.15h-1.15zM105.7 144.4h1.15v1.15h-1.15zM96.3 157.5h1.15v1.15h-1.15zM105.8 129.8h1.15v1.15h-1.15zM111.2 148.7h1.15v1.15h-1.15zM96.3 147.8h1.15v1.15h-1.15zM96.2 146.3h1.15v1.15h-1.15zM91.2 157.7h1.15v1.15h-1.15zM91.2 150.8h1.15v1.15h-1.15zM94.3 149.6h1.15v1.15h-1.15zM109.2 157.2h1.15v1.15h-1.15zM103.2 151.7h1.15v1.15h-1.15zM91.2 153.6h1.15v1.15h-1.15zM103.1 139.2h1.15v1.15h-1.15zM103.9 156.4h1.15v1.15h-1.15zM99.5 151.9h1.15v1.15h-1.15zM93.2 159.3h1.15v1.15h-1.15zM97.1 162.8h1.15v1.15h-1.15zM108.7 147.4h1.15v1.15h-1.15zM92.1 153.5h1.15v1.15h-1.15zM78.6 147.5h1.15v1.15h-1.15zM91.6 152.3h1.15v1.15h-1.15zM91.9 151.9h1.15v1.15h-1.15zM98.3 144.6h1.15v1.15h-1.15zM86.7 162.6h1.15v1.15h-1.15zM100.6 148.7h1.15v1.15h-1.15zM97.1 134.5h1.15v1.15h-1.15zM117.0 153.1h1.15v1.15h-1.15zM115.4 152.0h1.15v1.15h-1.15zM112.7 150.1h1.15v1.15h-1.15zM99.7 152.7h1.15v1.15h-1.15zM91.9 158.0h1.15v1.15h-1.15zM109.3 152.7h1.15v1.15h-1.15zM98.5 139.2h1.15v1.15h-1.15zM105.0 153.8h1.15v1.15h-1.15zM114.4 153.8h1.15v1.15h-1.15zM108.1 140.6h1.15v1.15h-1.15zM93.9 151.2h1.15v1.15h-1.15zM99.5 148.4h1.15v1.15h-1.15zM95.6 142.9h1.15v1.15h-1.15zM114.9 153.5h1.15v1.15h-1.15zM125.2 162.7h1.15v1.15h-1.15zM94.4 162.9h1.15v1.15h-1.15zM90.4 151.1h1.15v1.15h-1.15zM109.2 143.0h1.15v1.15h-1.15zM88.7 153.2h1.15v1.15h-1.15zM126.0 156.8h1.15v1.15h-1.15zM96.1 160.0h1.15v1.15h-1.15zM83.3 162.8h1.15v1.15h-1.15zM108.2 154.7h1.15v1.15h-1.15zM102.2 147.7h1.15v1.15h-1.15zM116.2 153.5h1.15v1.15h-1.15zM103.6 162.8h1.15v1.15h-1.15zM95.7 150.8h1.15v1.15h-1.15zM102.6 146.6h1.15v1.15h-1.15zM104.2 162.8h1.15v1.15h-1.15zM118.9 146.8h1.15v1.15h-1.15zM108.5 145.1h1.15v1.15h-1.15zM109.6 158.0h1.15v1.15h-1.15zM87.7 162.4h1.15v1.15h-1.15zM98.3 157.7h1.15v1.15h-1.15zM103.5 156.6h1.15v1.15h-1.15zM94.3 146.2h1.15v1.15h-1.15zM109.9 143.3h1.15v1.15h-1.15zM114.1 154.6h1.15v1.15h-1.15zM104.0 148.4h1.15v1.15h-1.15zM96.4 153.3h1.15v1.15h-1.15zM86.7 156.9h1.15v1.15h-1.15zM104.9 143.8h1.15v1.15h-1.15zM106.6 153.7h1.15v1.15h-1.15zM94.5 149.7h1.15v1.15h-1.15zM99.2 144.9h1.15v1.15h-1.15zM107.0 151.9h1.15v1.15h-1.15zM92.6 153.1h1.15v1.15h-1.15zM119.4 162.3h1.15v1.15h-1.15zM107.4 155.9h1.15v1.15h-1.15zM112.3 158.4h1.15v1.15h-1.15zM99.7 152.8h1.15v1.15h-1.15zM94.2 162.4h1.15v1.15h-1.15zM105.5 144.4h1.15v1.15h-1.15zM106.1 157.9h1.15v1.15h-1.15zM96.2 157.2h1.15v1.15h-1.15zM89.6 162.4h1.15v1.15h-1.15zM109.8 158.1h1.15v1.15h-1.15zM94.9 156.1h1.15v1.15h-1.15zM103.7 152.5h1.15v1.15h-1.15zM100.2 141.9h1.15v1.15h-1.15zM108.6 154.0h1.15v1.15h-1.15zM98.3 148.9h1.15v1.15h-1.15zM83.4 156.3h1.15v1.15h-1.15zM103.9 148.5h1.15v1.15h-1.15zM99.2 146.0h1.15v1.15h-1.15zM112.1 163.0h1.15v1.15h-1.15zM99.7 146.1h1.15v1.15h-1.15zM115.8 152.6h1.15v1.15h-1.15zM97.3 159.3h1.15v1.15h-1.15zM99.1 147.2h1.15v1.15h-1.15zM103.8 141.5h1.15v1.15h-1.15zM112.0 148.5h1.15v1.15h-1.15zM101.3 150.0h1.15v1.15h-1.15zM108.8 158.9h1.15v1.15h-1.15zM111.8 158.8h1.15v1.15h-1.15zM96.7 142.5h1.15v1.15h-1.15zM92.6 161.1h1.15v1.15h-1.15zM97.6 153.0h1.15v1.15h-1.15zM83.4 162.6h1.15v1.15h-1.15zM91.2 157.4h1.15v1.15h-1.15zM103.7 147.8h1.15v1.15h-1.15zM103.1 139.1h1.15v1.15h-1.15zM82.4 157.3h1.15v1.15h-1.15zM100.6 132.1h1.15v1.15h-1.15zM103.1 151.3h1.15v1.15h-1.15zM105.7 142.9h1.15v1.15h-1.15zM95.6 153.3h1.15v1.15h-1.15zM104.7 162.9h1.15v1.15h-1.15zM91.7 159.0h1.15v1.15h-1.15zM111.0 159.2h1.15v1.15h-1.15zM95.7 153.2h1.15v1.15h-1.15zM101.0 155.2h1.15v1.15h-1.15zM112.6 159.2h1.15v1.15h-1.15zM92.6 147.3h1.15v1.15h-1.15zM98.9 157.5h1.15v1.15h-1.15zM105.6 162.5h1.15v1.15h-1.15zM108.1 147.3h1.15v1.15h-1.15zM109.4 138.5h1.15v1.15h-1.15zM114.0 149.5h1.15v1.15h-1.15zM99.4 146.1h1.15v1.15h-1.15zM98.0 158.0h1.15v1.15h-1.15zM107.1 150.7h1.15v1.15h-1.15zM90.4 148.4h1.15v1.15h-1.15zM104.9 149.6h1.15v1.15h-1.15zM98.1 146.0h1.15v1.15h-1.15zM99.0 140.6h1.15v1.15h-1.15zM101.9 155.0h1.15v1.15h-1.15zM83.6 159.6h1.15v1.15h-1.15zM105.5 157.6h1.15v1.15h-1.15zM106.9 138.0h1.15v1.15h-1.15zM118.6 144.7h1.15v1.15h-1.15zM115.5 163.1h1.15v1.15h-1.15zM93.7 134.2h1.15v1.15h-1.15zM84.5 149.1h1.15v1.15h-1.15zM114.4 139.8h1.15v1.15h-1.15zM97.5 158.0h1.15v1.15h-1.15zM81.7 155.0h1.15v1.15h-1.15zM110.6 154.3h1.15v1.15h-1.15zM90.4 153.8h1.15v1.15h-1.15zM96.6 160.3h1.15v1.15h-1.15zM103.4 147.5h1.15v1.15h-1.15zM118.3 149.8h1.15v1.15h-1.15zM119.7 151.1h1.15v1.15h-1.15zM90.5 156.0h1.15v1.15h-1.15zM102.3 152.3h1.15v1.15h-1.15zM115.7 162.3h1.15v1.15h-1.15zM100.0 159.1h1.15v1.15h-1.15zM97.6 160.8h1.15v1.15h-1.15zM112.0 139.9h1.15v1.15h-1.15zM88.7 157.8h1.15v1.15h-1.15zM105.8 151.5h1.15v1.15h-1.15zM108.4 155.1h1.15v1.15h-1.15zM113.3 156.3h1.15v1.15h-1.15zM107.1 150.1h1.15v1.15h-1.15zM95.4 158.2h1.15v1.15h-1.15zM101.9 153.6h1.15v1.15h-1.15zM101.3 150.4h1.15v1.15h-1.15zM101.2 150.6h1.15v1.15h-1.15zM103.6 140.8h1.15v1.15h-1.15zM100.6 146.7h1.15v1.15h-1.15zM77.1 162.4h1.15v1.15h-1.15zM88.0 162.8h1.15v1.15h-1.15zM99.9 143.9h1.15v1.15h-1.15zM96.7 153.6h1.15v1.15h-1.15zM111.5 153.8h1.15v1.15h-1.15zM98.6 127.4h1.15v1.15h-1.15zM102.6 152.0h1.15v1.15h-1.15zM110.0 139.1h1.15v1.15h-1.15zM108.9 160.9h1.15v1.15h-1.15zM95.0 139.2h1.15v1.15h-1.15zM111.1 147.0h1.15v1.15h-1.15zM91.8 162.6h1.15v1.15h-1.15zM111.0 145.9h1.15v1.15h-1.15zM89.4 150.8h1.15v1.15h-1.15zM95.0 148.6h1.15v1.15h-1.15zM94.3 150.7h1.15v1.15h-1.15zM105.9 152.8h1.15v1.15h-1.15zM100.4 147.5h1.15v1.15h-1.15zM108.8 151.0h1.15v1.15h-1.15zM107.5 146.3h1.15v1.15h-1.15zM99.9 162.7h1.15v1.15h-1.15zM99.7 144.2h1.15v1.15h-1.15zM98.8 137.5h1.15v1.15h-1.15zM100.8 142.3h1.15v1.15h-1.15zM106.0 149.2h1.15v1.15h-1.15zM105.6 153.2h1.15v1.15h-1.15zM104.3 151.9h1.15v1.15h-1.15zM106.4 142.8h1.15v1.15h-1.15zM113.7 162.7h1.15v1.15h-1.15zM96.4 146.0h1.15v1.15h-1.15zM88.4 155.9h1.15v1.15h-1.15zM110.7 160.2h1.15v1.15h-1.15zM115.7 151.1h1.15v1.15h-1.15zM106.0 148.2h1.15v1.15h-1.15zM110.0 163.0h1.15v1.15h-1.15zM121.8 152.2h1.15v1.15h-1.15zM105.2 160.7h1.15v1.15h-1.15zM105.9 140.7h1.15v1.15h-1.15zM76.7 157.1h1.15v1.15h-1.15zM105.1 150.9h1.15v1.15h-1.15zM102.7 152.6h1.15v1.15h-1.15zM113.5 151.0h1.15v1.15h-1.15zM99.3 155.5h1.15v1.15h-1.15zM119.1 150.4h1.15v1.15h-1.15zM98.1 145.1h1.15v1.15h-1.15zM103.3 155.0h1.15v1.15h-1.15zM114.2 154.8h1.15v1.15h-1.15zM106.3 161.8h1.15v1.15h-1.15zM101.4 152.6h1.15v1.15h-1.15zM110.2 150.4h1.15v1.15h-1.15zM95.0 141.7h1.15v1.15h-1.15zM94.3 148.5h1.15v1.15h-1.15zM110.8 146.1h1.15v1.15h-1.15zM104.8 133.5h1.15v1.15h-1.15zM100.3 141.3h1.15v1.15h-1.15zM94.3 147.5h1.15v1.15h-1.15zM102.3 139.9h1.15v1.15h-1.15zM93.6 127.5h1.15v1.15h-1.15zM110.7 149.0h1.15v1.15h-1.15zM98.5 162.7h1.15v1.15h-1.15zM106.8 150.6h1.15v1.15h-1.15zM105.7 144.7h1.15v1.15h-1.15zM104.3 146.4h1.15v1.15h-1.15zM102.9 141.4h1.15v1.15h-1.15zM111.1 162.4h1.15v1.15h-1.15zM96.6 151.0h1.15v1.15h-1.15zM104.3 152.4h1.15v1.15h-1.15zM103.6 139.9h1.15v1.15h-1.15zM106.7 142.8h1.15v1.15h-1.15zM100.4 150.4h1.15v1.15h-1.15zM106.0 161.9h1.15v1.15h-1.15zM94.1 162.7h1.15v1.15h-1.15zM106.5 152.1h1.15v1.15h-1.15zM92.5 143.6h1.15v1.15h-1.15zM104.0 149.6h1.15v1.15h-1.15zM114.6 150.1h1.15v1.15h-1.15zM93.0 153.5h1.15v1.15h-1.15zM95.5 158.8h1.15v1.15h-1.15zM102.9 158.1h1.15v1.15h-1.15zM91.4 162.6h1.15v1.15h-1.15zM106.1 158.4h1.15v1.15h-1.15zM106.9 144.7h1.15v1.15h-1.15zM106.3 162.7h1.15v1.15h-1.15zM104.1 152.2h1.15v1.15h-1.15zM96.6 134.6h1.15v1.15h-1.15zM86.4 149.1h1.15v1.15h-1.15zM91.0 161.2h1.15v1.15h-1.15zM104.9 159.3h1.15v1.15h-1.15zM98.2 144.7h1.15v1.15h-1.15zM105.1 153.1h1.15v1.15h-1.15zM90.6 160.8h1.15v1.15h-1.15zM110.6 149.5h1.15v1.15h-1.15zM98.2 155.7h1.15v1.15h-1.15zM97.8 148.1h1.15v1.15h-1.15zM90.8 162.3h1.15v1.15h-1.15zM107.7 144.9h1.15v1.15h-1.15zM108.6 149.0h1.15v1.15h-1.15zM92.2 162.3h1.15v1.15h-1.15zM95.5 160.7h1.15v1.15h-1.15zM89.4 142.5h1.15v1.15h-1.15zM106.9 135.1h1.15v1.15h-1.15zM94.9 154.4h1.15v1.15h-1.15zM110.2 144.1h1.15v1.15h-1.15zM108.0 155.8h1.15v1.15h-1.15zM105.9 153.8h1.15v1.15h-1.15zM76.7 162.4h1.15v1.15h-1.15zM101.7 138.3h1.15v1.15h-1.15zM94.0 148.9h1.15v1.15h-1.15zM101.4 148.0h1.15v1.15h-1.15zM109.9 152.8h1.15v1.15h-1.15zM110.1 144.6h1.15v1.15h-1.15zM108.3 152.7h1.15v1.15h-1.15zM88.8 162.9h1.15v1.15h-1.15zM93.9 162.9h1.15v1.15h-1.15zM102.7 136.3h1.15v1.15h-1.15zM95.8 154.5h1.15v1.15h-1.15zM102.9 141.1h1.15v1.15h-1.15zM102.4 158.7h1.15v1.15h-1.15zM89.3 151.7h1.15v1.15h-1.15zM104.7 141.9h1.15v1.15h-1.15zM100.8 144.7h1.15v1.15h-1.15zM111.1 162.5h1.15v1.15h-1.15zM106.1 139.0h1.15v1.15h-1.15zM88.6 158.5h1.15v1.15h-1.15zM77.2 160.3h1.15v1.15h-1.15zM109.2 162.7h1.15v1.15h-1.15zM87.3 154.8h1.15v1.15h-1.15zM109.9 161.6h1.15v1.15h-1.15zM111.3 162.8h1.15v1.15h-1.15zM106.2 147.6h1.15v1.15h-1.15zM89.3 156.9h1.15v1.15h-1.15zM114.2 148.2h1.15v1.15h-1.15zM118.1 158.4h1.15v1.15h-1.15zM95.2 140.9h1.15v1.15h-1.15zM91.9 134.0h1.15v1.15h-1.15zM93.5 149.2h1.15v1.15h-1.15zM97.1 143.1h1.15v1.15h-1.15zM108.8 150.8h1.15v1.15h-1.15zM85.1 157.1h1.15v1.15h-1.15zM98.3 162.7h1.15v1.15h-1.15zM108.3 141.9h1.15v1.15h-1.15zM89.7 140.3h1.15v1.15h-1.15zM93.4 152.3h1.15v1.15h-1.15zM104.4 151.9h1.15v1.15h-1.15zM92.6 154.1h1.15v1.15h-1.15zM103.6 150.2h1.15v1.15h-1.15zM102.2 134.2h1.15v1.15h-1.15zM115.2 150.0h1.15v1.15h-1.15zM89.0 153.1h1.15v1.15h-1.15zM98.6 147.1h1.15v1.15h-1.15zM92.9 147.3h1.15v1.15h-1.15zM99.3 162.4h1.15v1.15h-1.15zM113.1 141.1h1.15v1.15h-1.15zM97.0 146.9h1.15v1.15h-1.15zM98.1 149.5h1.15v1.15h-1.15zM120.9 159.0h1.15v1.15h-1.15zM104.3 137.5h1.15v1.15h-1.15zM111.8 154.5h1.15v1.15h-1.15zM117.8 153.6h1.15v1.15h-1.15zM97.7 145.4h1.15v1.15h-1.15zM105.5 148.0h1.15v1.15h-1.15zM115.6 155.6h1.15v1.15h-1.15zM105.5 150.9h1.15v1.15h-1.15zM107.2 145.4h1.15v1.15h-1.15zM101.1 160.8h1.15v1.15h-1.15zM109.7 133.7h1.15v1.15h-1.15zM92.8 150.7h1.15v1.15h-1.15zM105.2 147.5h1.15v1.15h-1.15zM110.9 157.9h1.15v1.15h-1.15zM98.9 149.8h1.15v1.15h-1.15zM102.6 147.2h1.15v1.15h-1.15zM97.8 146.1h1.15v1.15h-1.15zM91.0 144.9h1.15v1.15h-1.15zM106.0 145.5h1.15v1.15h-1.15zM105.1 157.6h1.15v1.15h-1.15zM93.7 141.3h1.15v1.15h-1.15zM125.9 162.4h1.15v1.15h-1.15zM108.7 145.4h1.15v1.15h-1.15zM95.6 148.8h1.15v1.15h-1.15zM110.1 143.3h1.15v1.15h-1.15zM102.6 143.3h1.15v1.15h-1.15zM100.4 148.5h1.15v1.15h-1.15zM103.0 145.4h1.15v1.15h-1.15zM112.1 157.5h1.15v1.15h-1.15zM92.5 149.3h1.15v1.15h-1.15zM102.0 139.7h1.15v1.15h-1.15zM108.1 131.2h1.15v1.15h-1.15zM103.0 152.6h1.15v1.15h-1.15zM97.8 140.5h1.15v1.15h-1.15zM106.9 146.1h1.15v1.15h-1.15zM106.9 148.9h1.15v1.15h-1.15zM83.7 156.8h1.15v1.15h-1.15zM112.4 150.4h1.15v1.15h-1.15zM102.9 148.0h1.15v1.15h-1.15zM91.6 151.3h1.15v1.15h-1.15zM100.3 162.4h1.15v1.15h-1.15zM106.0 152.1h1.15v1.15h-1.15zM97.9 153.9h1.15v1.15h-1.15zM97.2 150.4h1.15v1.15h-1.15zM99.2 151.6h1.15v1.15h-1.15zM113.9 162.7h1.15v1.15h-1.15zM105.6 130.7h1.15v1.15h-1.15zM95.7 153.7h1.15v1.15h-1.15zM94.1 150.1h1.15v1.15h-1.15zM103.3 145.2h1.15v1.15h-1.15zM109.3 153.4h1.15v1.15h-1.15zM107.3 151.6h1.15v1.15h-1.15zM95.1 158.2h1.15v1.15h-1.15zM97.9 138.0h1.15v1.15h-1.15zM97.6 150.2h1.15v1.15h-1.15zM93.7 162.4h1.15v1.15h-1.15zM113.8 144.7h1.15v1.15h-1.15zM100.3 151.1h1.15v1.15h-1.15zM109.3 143.0h1.15v1.15h-1.15zM98.7 132.5h1.15v1.15h-1.15zM84.6 156.5h1.15v1.15h-1.15zM100.8 160.1h1.15v1.15h-1.15zM101.6 152.9h1.15v1.15h-1.15zM98.3 153.5h1.15v1.15h-1.15zM101.9 143.2h1.15v1.15h-1.15zM108.5 162.5h1.15v1.15h-1.15zM108.4 153.5h1.15v1.15h-1.15zM91.1 153.8h1.15v1.15h-1.15zM102.9 159.6h1.15v1.15h-1.15zM99.2 158.8h1.15v1.15h-1.15zM110.6 150.1h1.15v1.15h-1.15zM89.0 162.8h1.15v1.15h-1.15zM100.2 151.4h1.15v1.15h-1.15zM105.7 159.9h1.15v1.15h-1.15zM98.6 149.3h1.15v1.15h-1.15zM108.0 163.0h1.15v1.15h-1.15zM103.2 155.8h1.15v1.15h-1.15zM105.7 158.5h1.15v1.15h-1.15zM97.3 141.5h1.15v1.15h-1.15zM111.5 150.1h1.15v1.15h-1.15zM110.6 146.9h1.15v1.15h-1.15zM111.1 161.6h1.15v1.15h-1.15zM101.9 162.9h1.15v1.15h-1.15zM100.2 147.2h1.15v1.15h-1.15zM103.9 146.1h1.15v1.15h-1.15zM92.7 143.1h1.15v1.15h-1.15zM77.1 162.7h1.15v1.15h-1.15zM99.9 144.9h1.15v1.15h-1.15zM111.4 150.0h1.15v1.15h-1.15zM101.4 155.2h1.15v1.15h-1.15zM94.3 152.3h1.15v1.15h-1.15zM98.5 146.9h1.15v1.15h-1.15zM92.4 150.5h1.15v1.15h-1.15zM110.0 149.0h1.15v1.15h-1.15zM102.0 156.3h1.15v1.15h-1.15zM99.8 155.3h1.15v1.15h-1.15zM107.9 142.3h1.15v1.15h-1.15zM108.3 162.9h1.15v1.15h-1.15zM99.3 161.2h1.15v1.15h-1.15zM97.2 142.5h1.15v1.15h-1.15zM108.4 161.0h1.15v1.15h-1.15zM86.7 152.3h1.15v1.15h-1.15zM89.3 151.2h1.15v1.15h-1.15zM109.1 158.4h1.15v1.15h-1.15zM101.8 150.0h1.15v1.15h-1.15zM97.9 152.8h1.15v1.15h-1.15zM99.6 146.2h1.15v1.15h-1.15zM124.5 162.6h1.15v1.15h-1.15zM90.5 151.1h1.15v1.15h-1.15zM97.4 136.5h1.15v1.15h-1.15zM105.7 160.0h1.15v1.15h-1.15zM113.9 154.6h1.15v1.15h-1.15zM109.9 137.3h1.15v1.15h-1.15zM108.8 153.1h1.15v1.15h-1.15zM93.3 162.8h1.15v1.15h-1.15zM109.8 142.7h1.15v1.15h-1.15zM115.0 160.5h1.15v1.15h-1.15zM118.1 154.6h1.15v1.15h-1.15zM113.6 162.4h1.15v1.15h-1.15zM102.8 157.4h1.15v1.15h-1.15zM91.3 162.9h1.15v1.15h-1.15zM90.3 155.9h1.15v1.15h-1.15zM115.1 152.6h1.15v1.15h-1.15zM104.1 148.4h1.15v1.15h-1.15zM88.9 160.4h1.15v1.15h-1.15zM111.1 152.8h1.15v1.15h-1.15zM94.9 149.0h1.15v1.15h-1.15zM112.3 151.9h1.15v1.15h-1.15zM100.6 156.0h1.15v1.15h-1.15zM111.8 152.3h1.15v1.15h-1.15zM97.8 163.1h1.15v1.15h-1.15zM98.5 149.5h1.15v1.15h-1.15zM106.5 153.6h1.15v1.15h-1.15zM101.9 125.4h1.15v1.15h-1.15zM99.8 160.3h1.15v1.15h-1.15zM92.2 162.8h1.15v1.15h-1.15zM113.3 162.9h1.15v1.15h-1.15zM101.2 156.9h1.15v1.15h-1.15zM94.7 160.6h1.15v1.15h-1.15zM101.4 147.0h1.15v1.15h-1.15zM102.6 138.1h1.15v1.15h-1.15zM97.6 130.1h1.15v1.15h-1.15zM99.5 134.4h1.15v1.15h-1.15zM114.5 161.7h1.15v1.15h-1.15zM94.7 138.1h1.15v1.15h-1.15zM109.3 147.5h1.15v1.15h-1.15zM95.4 154.9h1.15v1.15h-1.15zM110.9 141.0h1.15v1.15h-1.15zM94.9 146.5h1.15v1.15h-1.15zM103.8 162.8h1.15v1.15h-1.15zM110.5 153.0h1.15v1.15h-1.15zM117.4 163.0h1.15v1.15h-1.15zM77.4 158.9h1.15v1.15h-1.15zM97.6 150.1h1.15v1.15h-1.15zM107.9 127.6h1.15v1.15h-1.15zM102.0 160.2h1.15v1.15h-1.15zM106.4 155.5h1.15v1.15h-1.15zM113.3 150.5h1.15v1.15h-1.15zM111.5 162.8h1.15v1.15h-1.15zM105.6 154.2h1.15v1.15h-1.15zM100.9 144.6h1.15v1.15h-1.15zM101.9 148.3h1.15v1.15h-1.15zM108.9 146.2h1.15v1.15h-1.15zM108.0 161.1h1.15v1.15h-1.15zM90.9 158.5h1.15v1.15h-1.15zM112.4 160.7h1.15v1.15h-1.15zM104.5 156.5h1.15v1.15h-1.15zM102.7 162.8h1.15v1.15h-1.15zM108.6 155.4h1.15v1.15h-1.15zM118.1 163.0h1.15v1.15h-1.15zM90.2 145.4h1.15v1.15h-1.15zM104.6 141.7h1.15v1.15h-1.15zM113.3 144.6h1.15v1.15h-1.15zM98.8 151.1h1.15v1.15h-1.15zM97.5 151.1h1.15v1.15h-1.15zM102.5 147.0h1.15v1.15h-1.15zM102.8 140.1h1.15v1.15h-1.15zM94.4 151.6h1.15v1.15h-1.15zM105.7 161.2h1.15v1.15h-1.15zM95.2 161.7h1.15v1.15h-1.15zM94.2 141.8h1.15v1.15h-1.15zM90.6 139.0h1.15v1.15h-1.15zM96.8 162.5h1.15v1.15h-1.15zM107.6 156.6h1.15v1.15h-1.15zM91.5 149.7h1.15v1.15h-1.15zM88.2 161.9h1.15v1.15h-1.15zM106.3 149.8h1.15v1.15h-1.15zM98.6 150.1h1.15v1.15h-1.15zM102.1 145.6h1.15v1.15h-1.15zM107.6 142.3h1.15v1.15h-1.15zM94.5 144.5h1.15v1.15h-1.15zM111.2 162.5h1.15v1.15h-1.15zM93.9 162.2h1.15v1.15h-1.15zM90.9 141.6h1.15v1.15h-1.15zM89.7 152.1h1.15v1.15h-1.15zM102.4 154.2h1.15v1.15h-1.15zM86.8 149.0h1.15v1.15h-1.15zM105.4 148.0h1.15v1.15h-1.15zM105.9 137.2h1.15v1.15h-1.15zM97.3 152.6h1.15v1.15h-1.15zM107.7 154.1h1.15v1.15h-1.15zM95.4 152.2h1.15v1.15h-1.15zM95.3 159.1h1.15v1.15h-1.15zM110.8 155.5h1.15v1.15h-1.15zM118.9 163.1h1.15v1.15h-1.15zM105.4 145.2h1.15v1.15h-1.15zM103.5 158.2h1.15v1.15h-1.15zM100.3 162.8h1.15v1.15h-1.15zM84.6 162.4h1.15v1.15h-1.15zM91.3 150.8h1.15v1.15h-1.15zM101.2 138.9h1.15v1.15h-1.15zM93.7 134.0h1.15v1.15h-1.15zM121.5 160.1h1.15v1.15h-1.15zM92.5 152.7h1.15v1.15h-1.15zM95.6 156.4h1.15v1.15h-1.15zM107.7 143.8h1.15v1.15h-1.15zM100.5 158.6h1.15v1.15h-1.15zM89.9 159.5h1.15v1.15h-1.15zM97.9 158.7h1.15v1.15h-1.15zM89.6 143.2h1.15v1.15h-1.15zM91.1 162.2h1.15v1.15h-1.15zM90.1 158.8h1.15v1.15h-1.15zM100.3 147.1h1.15v1.15h-1.15zM100.6 129.2h1.15v1.15h-1.15zM101.0 154.8h1.15v1.15h-1.15zM107.7 150.3h1.15v1.15h-1.15zM97.0 155.3h1.15v1.15h-1.15zM96.2 153.0h1.15v1.15h-1.15zM116.2 140.2h1.15v1.15h-1.15zM111.4 160.3h1.15v1.15h-1.15zM115.5 150.2h1.15v1.15h-1.15zM108.6 162.9h1.15v1.15h-1.15zM99.5 159.7h1.15v1.15h-1.15zM100.1 151.4h1.15v1.15h-1.15zM96.2 162.4h1.15v1.15h-1.15zM98.9 152.3h1.15v1.15h-1.15zM93.5 152.1h1.15v1.15h-1.15zM121.3 157.8h1.15v1.15h-1.15zM95.7 148.3h1.15v1.15h-1.15zM108.7 163.1h1.15v1.15h-1.15zM104.6 152.6h1.15v1.15h-1.15zM116.4 159.0h1.15v1.15h-1.15zM125.5 149.7h1.15v1.15h-1.15zM116.2 149.6h1.15v1.15h-1.15zM89.8 151.3h1.15v1.15h-1.15zM99.2 148.7h1.15v1.15h-1.15zM81.3 161.5h1.15v1.15h-1.15zM100.9 147.0h1.15v1.15h-1.15zM105.7 158.0h1.15v1.15h-1.15zM100.4 159.7h1.15v1.15h-1.15zM111.8 150.4h1.15v1.15h-1.15zM106.2 162.5h1.15v1.15h-1.15zM103.9 151.7h1.15v1.15h-1.15zM90.1 162.5h1.15v1.15h-1.15zM125.0 157.6h1.15v1.15h-1.15zM100.3 151.0h1.15v1.15h-1.15zM99.9 163.0h1.15v1.15h-1.15zM93.1 161.3h1.15v1.15h-1.15zM100.4 151.1h1.15v1.15h-1.15zM117.9 155.8h1.15v1.15h-1.15zM102.4 158.0h1.15v1.15h-1.15zM107.8 162.6h1.15v1.15h-1.15zM115.9 162.0h1.15v1.15h-1.15zM105.0 138.2h1.15v1.15h-1.15zM84.9 162.9h1.15v1.15h-1.15zM110.9 142.5h1.15v1.15h-1.15zM115.7 142.5h1.15v1.15h-1.15zM110.9 146.2h1.15v1.15h-1.15zM115.6 151.9h1.15v1.15h-1.15zM110.4 150.5h1.15v1.15h-1.15zM86.9 149.7h1.15v1.15h-1.15zM106.3 155.7h1.15v1.15h-1.15zM117.3 155.8h1.15v1.15h-1.15zM91.4 146.2h1.15v1.15h-1.15zM95.7 154.6h1.15v1.15h-1.15zM101.9 151.6h1.15v1.15h-1.15zM109.8 145.5h1.15v1.15h-1.15zM116.9 151.4h1.15v1.15h-1.15zM111.4 154.6h1.15v1.15h-1.15zM96.6 150.0h1.15v1.15h-1.15zM95.2 148.0h1.15v1.15h-1.15zM103.2 156.2h1.15v1.15h-1.15zM91.4 143.3h1.15v1.15h-1.15zM88.8 145.2h1.15v1.15h-1.15zM91.1 144.9h1.15v1.15h-1.15zM90.7 158.4h1.15v1.15h-1.15zM101.0 147.5h1.15v1.15h-1.15zM105.6 152.7h1.15v1.15h-1.15zM108.2 158.9h1.15v1.15h-1.15zM111.9 149.5h1.15v1.15h-1.15zM95.5 155.6h1.15v1.15h-1.15zM89.0 162.9h1.15v1.15h-1.15zM99.2 147.6h1.15v1.15h-1.15zM104.6 157.9h1.15v1.15h-1.15zM102.9 152.7h1.15v1.15h-1.15zM105.2 162.4h1.15v1.15h-1.15zM99.2 154.6h1.15v1.15h-1.15zM105.3 162.8h1.15v1.15h-1.15zM111.2 145.0h1.15v1.15h-1.15zM100.7 144.9h1.15v1.15h-1.15zM105.5 154.9h1.15v1.15h-1.15zM85.4 148.0h1.15v1.15h-1.15zM103.6 158.3h1.15v1.15h-1.15zM101.0 145.8h1.15v1.15h-1.15zM102.4 142.4h1.15v1.15h-1.15zM106.2 152.0h1.15v1.15h-1.15zM107.3 138.9h1.15v1.15h-1.15zM111.3 159.2h1.15v1.15h-1.15zM90.5 156.5h1.15v1.15h-1.15zM114.2 141.2h1.15v1.15h-1.15zM69.5 158.1h1.15v1.15h-1.15zM110.7 149.4h1.15v1.15h-1.15zM105.2 136.9h1.15v1.15h-1.15zM95.7 144.6h1.15v1.15h-1.15zM100.9 134.6h1.15v1.15h-1.15zM105.3 149.7h1.15v1.15h-1.15zM108.0 155.2h1.15v1.15h-1.15zM120.9 162.7h1.15v1.15h-1.15zM92.3 155.2h1.15v1.15h-1.15zM101.2 146.4h1.15v1.15h-1.15zM95.3 159.3h1.15v1.15h-1.15zM107.8 140.8h1.15v1.15h-1.15zM70.3 162.7h1.15v1.15h-1.15zM107.0 138.3h1.15v1.15h-1.15zM104.2 147.3h1.15v1.15h-1.15zM102.8 145.2h1.15v1.15h-1.15zM116.5 151.7h1.15v1.15h-1.15zM110.2 145.5h1.15v1.15h-1.15zM105.8 151.0h1.15v1.15h-1.15zM86.4 155.2h1.15v1.15h-1.15zM91.3 149.1h1.15v1.15h-1.15zM111.9 157.0h1.15v1.15h-1.15zM86.7 159.8h1.15v1.15h-1.15zM96.8 142.3h1.15v1.15h-1.15zM104.5 153.8h1.15v1.15h-1.15zM100.5 153.3h1.15v1.15h-1.15zM110.6 152.2h1.15v1.15h-1.15zM90.3 148.4h1.15v1.15h-1.15zM82.9 162.9h1.15v1.15h-1.15zM106.3 152.4h1.15v1.15h-1.15zM105.3 150.5h1.15v1.15h-1.15zM98.5 162.7h1.15v1.15h-1.15zM111.2 162.9h1.15v1.15h-1.15zM96.0 153.1h1.15v1.15h-1.15zM106.5 151.8h1.15v1.15h-1.15zM100.6 145.6h1.15v1.15h-1.15zM97.5 140.3h1.15v1.15h-1.15zM106.5 153.1h1.15v1.15h-1.15zM101.2 143.9h1.15v1.15h-1.15zM104.2 144.7h1.15v1.15h-1.15zM105.9 154.6h1.15v1.15h-1.15zM90.2 150.7h1.15v1.15h-1.15zM91.7 147.8h1.15v1.15h-1.15zM101.5 146.8h1.15v1.15h-1.15zM95.3 161.4h1.15v1.15h-1.15zM103.4 146.0h1.15v1.15h-1.15zM112.5 135.3h1.15v1.15h-1.15zM108.1 139.6h1.15v1.15h-1.15zM111.6 160.6h1.15v1.15h-1.15zM108.0 151.6h1.15v1.15h-1.15zM109.6 149.6h1.15v1.15h-1.15zM95.8 147.0h1.15v1.15h-1.15zM97.8 155.6h1.15v1.15h-1.15zM93.7 158.0h1.15v1.15h-1.15zM93.1 154.6h1.15v1.15h-1.15zM119.9 151.6h1.15v1.15h-1.15zM93.5 143.5h1.15v1.15h-1.15zM100.5 139.2h1.15v1.15h-1.15zM96.9 162.3h1.15v1.15h-1.15zM107.2 148.2h1.15v1.15h-1.15zM88.1 162.4h1.15v1.15h-1.15zM104.8 144.3h1.15v1.15h-1.15zM99.8 157.8h1.15v1.15h-1.15zM106.7 155.0h1.15v1.15h-1.15zM109.9 149.5h1.15v1.15h-1.15zM107.3 145.4h1.15v1.15h-1.15zM103.9 160.0h1.15v1.15h-1.15zM101.8 149.6h1.15v1.15h-1.15zM103.2 134.1h1.15v1.15h-1.15zM89.2 140.7h1.15v1.15h-1.15zM93.1 158.7h1.15v1.15h-1.15zM102.3 155.4h1.15v1.15h-1.15zM96.7 137.9h1.15v1.15h-1.15zM105.7 150.2h1.15v1.15h-1.15zM91.0 153.0h1.15v1.15h-1.15zM102.7 148.0h1.15v1.15h-1.15zM99.0 141.9h1.15v1.15h-1.15zM85.6 147.9h1.15v1.15h-1.15zM111.7 162.8h1.15v1.15h-1.15zM105.3 145.7h1.15v1.15h-1.15zM92.6 155.6h1.15v1.15h-1.15zM107.0 161.1h1.15v1.15h-1.15zM103.2 153.3h1.15v1.15h-1.15zM105.0 160.3h1.15v1.15h-1.15zM102.0 152.1h1.15v1.15h-1.15zM119.7 162.7h1.15v1.15h-1.15zM100.2 162.9h1.15v1.15h-1.15zM97.1 162.8h1.15v1.15h-1.15zM103.6 157.0h1.15v1.15h-1.15zM88.7 155.7h1.15v1.15h-1.15zM106.7 150.9h1.15v1.15h-1.15zM90.8 139.9h1.15v1.15h-1.15zM131.5 152.7h1.15v1.15h-1.15zM100.8 146.7h1.15v1.15h-1.15zM115.8 157.9h1.15v1.15h-1.15zM99.1 157.6h1.15v1.15h-1.15zM106.7 152.8h1.15v1.15h-1.15zM108.1 154.0h1.15v1.15h-1.15zM104.7 147.0h1.15v1.15h-1.15zM96.8 149.1h1.15v1.15h-1.15zM110.7 151.5h1.15v1.15h-1.15zM104.4 153.7h1.15v1.15h-1.15zM102.4 153.1h1.15v1.15h-1.15zM99.5 151.2h1.15v1.15h-1.15zM103.3 134.7h1.15v1.15h-1.15zM97.6 146.9h1.15v1.15h-1.15zM106.3 145.1h1.15v1.15h-1.15zM104.4 151.2h1.15v1.15h-1.15zM106.1 155.0h1.15v1.15h-1.15zM109.7 154.4h1.15v1.15h-1.15zM110.6 161.8h1.15v1.15h-1.15zM112.4 155.6h1.15v1.15h-1.15zM93.1 148.9h1.15v1.15h-1.15zM87.2 151.6h1.15v1.15h-1.15zM103.6 146.8h1.15v1.15h-1.15zM106.4 162.8h1.15v1.15h-1.15zM105.3 151.5h1.15v1.15h-1.15zM121.1 160.0h1.15v1.15h-1.15zM103.8 136.2h1.15v1.15h-1.15zM96.1 156.0h1.15v1.15h-1.15zM120.8 155.1h1.15v1.15h-1.15zM113.8 153.4h1.15v1.15h-1.15zM97.4 161.2h1.15v1.15h-1.15zM107.6 133.4h1.15v1.15h-1.15zM82.8 162.5h1.15v1.15h-1.15zM104.6 152.8h1.15v1.15h-1.15zM105.7 162.7h1.15v1.15h-1.15zM82.3 162.9h1.15v1.15h-1.15zM100.4 159.1h1.15v1.15h-1.15zM108.5 155.3h1.15v1.15h-1.15zM101.1 162.8h1.15v1.15h-1.15zM103.1 136.7h1.15v1.15h-1.15zM82.2 158.4h1.15v1.15h-1.15zM106.3 148.4h1.15v1.15h-1.15zM101.0 132.6h1.15v1.15h-1.15zM93.8 139.3h1.15v1.15h-1.15zM112.3 155.8h1.15v1.15h-1.15zM95.1 162.0h1.15v1.15h-1.15zM85.4 156.6h1.15v1.15h-1.15zM105.3 140.2h1.15v1.15h-1.15zM93.9 149.1h1.15v1.15h-1.15zM100.6 137.0h1.15v1.15h-1.15zM77.8 162.8h1.15v1.15h-1.15zM93.2 147.6h1.15v1.15h-1.15zM96.3 156.2h1.15v1.15h-1.15zM103.1 146.0h1.15v1.15h-1.15zM87.8 156.8h1.15v1.15h-1.15zM102.1 156.5h1.15v1.15h-1.15zM112.3 159.6h1.15v1.15h-1.15zM93.9 153.6h1.15v1.15h-1.15zM108.6 162.3h1.15v1.15h-1.15zM96.8 145.6h1.15v1.15h-1.15zM109.6 151.4h1.15v1.15h-1.15zM118.2 154.1h1.15v1.15h-1.15zM109.1 142.5h1.15v1.15h-1.15zM100.3 146.6h1.15v1.15h-1.15zM113.9 150.1h1.15v1.15h-1.15zM83.3 163.0h1.15v1.15h-1.15zM105.8 152.2h1.15v1.15h-1.15zM110.4 155.5h1.15v1.15h-1.15zM84.6 148.6h1.15v1.15h-1.15zM99.5 148.4h1.15v1.15h-1.15zM105.0 149.0h1.15v1.15h-1.15zM112.5 150.3h1.15v1.15h-1.15zM101.9 147.2h1.15v1.15h-1.15zM118.8 149.4h1.15v1.15h-1.15zM94.8 144.5h1.15v1.15h-1.15zM108.0 149.3h1.15v1.15h-1.15zM100.4 152.5h1.15v1.15h-1.15zM88.9 140.3h1.15v1.15h-1.15zM99.9 150.6h1.15v1.15h-1.15zM106.1 163.0h1.15v1.15h-1.15zM106.4 141.5h1.15v1.15h-1.15zM96.0 149.2h1.15v1.15h-1.15zM87.5 144.6h1.15v1.15h-1.15zM103.3 144.0h1.15v1.15h-1.15zM88.2 145.6h1.15v1.15h-1.15zM86.7 144.9h1.15v1.15h-1.15zM78.7 156.6h1.15v1.15h-1.15zM114.8 152.4h1.15v1.15h-1.15zM106.2 153.5h1.15v1.15h-1.15zM115.1 141.2h1.15v1.15h-1.15zM108.7 150.4h1.15v1.15h-1.15zM85.9 162.5h1.15v1.15h-1.15zM112.1 142.9h1.15v1.15h-1.15zM102.4 153.5h1.15v1.15h-1.15zM105.4 159.5h1.15v1.15h-1.15zM119.3 153.3h1.15v1.15h-1.15zM105.5 136.7h1.15v1.15h-1.15zM102.4 144.2h1.15v1.15h-1.15zM104.1 151.0h1.15v1.15h-1.15zM105.2 132.4h1.15v1.15h-1.15zM96.8 163.0h1.15v1.15h-1.15zM105.8 137.3h1.15v1.15h-1.15zM104.6 154.2h1.15v1.15h-1.15zM105.5 153.4h1.15v1.15h-1.15zM88.5 151.6h1.15v1.15h-1.15zM101.7 155.1h1.15v1.15h-1.15zM88.7 148.0h1.15v1.15h-1.15zM105.2 153.9h1.15v1.15h-1.15zM99.3 163.0h1.15v1.15h-1.15zM114.8 157.2h1.15v1.15h-1.15zM110.8 156.7h1.15v1.15h-1.15zM105.1 154.6h1.15v1.15h-1.15zM102.7 141.8h1.15v1.15h-1.15zM101.3 152.8h1.15v1.15h-1.15zM104.4 150.4h1.15v1.15h-1.15zM100.4 147.6h1.15v1.15h-1.15zM117.0 141.5h1.15v1.15h-1.15zM93.3 144.9h1.15v1.15h-1.15zM98.7 147.9h1.15v1.15h-1.15zM85.1 143.4h1.15v1.15h-1.15zM113.3 162.8h1.15v1.15h-1.15zM114.9 156.1h1.15v1.15h-1.15zM97.4 155.4h1.15v1.15h-1.15zM112.2 155.7h1.15v1.15h-1.15zM112.4 155.2h1.15v1.15h-1.15zM101.8 154.3h1.15v1.15h-1.15zM104.2 147.3h1.15v1.15h-1.15zM113.1 158.1h1.15v1.15h-1.15zM98.1 161.5h1.15v1.15h-1.15zM98.4 140.1h1.15v1.15h-1.15zM79.1 162.8h1.15v1.15h-1.15zM122.3 160.8h1.15v1.15h-1.15zM94.3 138.5h1.15v1.15h-1.15zM116.5 161.5h1.15v1.15h-1.15zM105.2 155.7h1.15v1.15h-1.15zM108.3 158.2h1.15v1.15h-1.15zM106.8 141.7h1.15v1.15h-1.15zM97.8 160.7h1.15v1.15h-1.15zM98.4 144.7h1.15v1.15h-1.15zM106.0 147.5h1.15v1.15h-1.15zM102.1 158.9h1.15v1.15h-1.15zM87.5 149.8h1.15v1.15h-1.15zM94.0 148.8h1.15v1.15h-1.15zM104.6 147.7h1.15v1.15h-1.15zM132.9 153.8h1.15v1.15h-1.15zM98.1 145.0h1.15v1.15h-1.15zM100.2 142.7h1.15v1.15h-1.15zM110.1 150.0h1.15v1.15h-1.15zM106.9 135.9h1.15v1.15h-1.15zM96.9 157.8h1.15v1.15h-1.15zM103.4 146.6h1.15v1.15h-1.15zM100.4 156.8h1.15v1.15h-1.15zM102.1 151.1h1.15v1.15h-1.15zM103.8 143.2h1.15v1.15h-1.15zM102.4 157.3h1.15v1.15h-1.15zM101.9 142.8h1.15v1.15h-1.15zM104.6 151.5h1.15v1.15h-1.15zM108.5 148.9h1.15v1.15h-1.15zM110.4 161.5h1.15v1.15h-1.15zM112.8 154.4h1.15v1.15h-1.15zM100.5 152.0h1.15v1.15h-1.15zM102.0 140.3h1.15v1.15h-1.15zM91.9 162.6h1.15v1.15h-1.15zM89.5 159.0h1.15v1.15h-1.15zM118.4 154.9h1.15v1.15h-1.15zM91.9 152.8h1.15v1.15h-1.15zM100.6 154.8h1.15v1.15h-1.15zM96.8 159.1h1.15v1.15h-1.15zM99.2 137.8h1.15v1.15h-1.15zM111.6 157.3h1.15v1.15h-1.15zM102.1 154.7h1.15v1.15h-1.15zM100.0 158.2h1.15v1.15h-1.15zM103.7 148.5h1.15v1.15h-1.15zM96.8 161.6h1.15v1.15h-1.15zM96.0 156.6h1.15v1.15h-1.15zM103.2 146.2h1.15v1.15h-1.15zM96.5 141.1h1.15v1.15h-1.15zM97.9 142.3h1.15v1.15h-1.15zM118.3 144.7h1.15v1.15h-1.15zM102.6 157.5h1.15v1.15h-1.15zM86.8 141.1h1.15v1.15h-1.15zM96.2 156.1h1.15v1.15h-1.15zM97.9 161.2h1.15v1.15h-1.15zM97.8 141.3h1.15v1.15h-1.15zM93.4 139.5h1.15v1.15h-1.15zM96.8 158.4h1.15v1.15h-1.15zM96.6 158.2h1.15v1.15h-1.15zM97.5 150.4h1.15v1.15h-1.15zM96.9 147.7h1.15v1.15h-1.15zM101.3 162.8h1.15v1.15h-1.15zM100.8 156.5h1.15v1.15h-1.15zM89.5 152.2h1.15v1.15h-1.15zM103.1 161.8h1.15v1.15h-1.15zM139.8 163.0h1.15v1.15h-1.15zM95.0 145.4h1.15v1.15h-1.15zM120.6 162.6h1.15v1.15h-1.15zM97.8 147.5h1.15v1.15h-1.15zM108.8 156.7h1.15v1.15h-1.15zM103.3 158.0h1.15v1.15h-1.15zM102.1 143.9h1.15v1.15h-1.15zM97.1 152.7h1.15v1.15h-1.15zM112.6 155.2h1.15v1.15h-1.15zM95.4 149.6h1.15v1.15h-1.15zM106.3 153.6h1.15v1.15h-1.15zM107.5 147.0h1.15v1.15h-1.15zM95.5 154.2h1.15v1.15h-1.15zM111.9 144.8h1.15v1.15h-1.15zM104.3 153.0h1.15v1.15h-1.15zM97.2 162.8h1.15v1.15h-1.15zM110.9 150.4h1.15v1.15h-1.15zM117.8 156.1h1.15v1.15h-1.15zM90.9 162.5h1.15v1.15h-1.15zM108.8 139.3h1.15v1.15h-1.15zM99.5 157.4h1.15v1.15h-1.15zM97.5 149.8h1.15v1.15h-1.15zM100.1 162.8h1.15v1.15h-1.15zM94.8 152.0h1.15v1.15h-1.15zM106.8 161.8h1.15v1.15h-1.15zM107.0 160.8h1.15v1.15h-1.15zM91.5 159.1h1.15v1.15h-1.15zM107.8 151.8h1.15v1.15h-1.15zM99.0 142.9h1.15v1.15h-1.15zM98.6 156.7h1.15v1.15h-1.15zM103.5 143.3h1.15v1.15h-1.15zM105.4 148.5h1.15v1.15h-1.15zM107.9 144.5h1.15v1.15h-1.15zM109.4 155.0h1.15v1.15h-1.15zM100.0 132.5h1.15v1.15h-1.15zM102.6 144.6h1.15v1.15h-1.15zM104.6 162.4h1.15v1.15h-1.15zM105.3 150.0h1.15v1.15h-1.15zM103.3 140.8h1.15v1.15h-1.15zM111.2 144.2h1.15v1.15h-1.15zM99.7 150.3h1.15v1.15h-1.15zM105.8 162.3h1.15v1.15h-1.15zM96.4 143.8h1.15v1.15h-1.15zM109.9 153.4h1.15v1.15h-1.15zM93.7 150.7h1.15v1.15h-1.15zM100.9 146.4h1.15v1.15h-1.15zM95.8 145.7h1.15v1.15h-1.15zM102.2 162.5h1.15v1.15h-1.15zM99.5 162.5h1.15v1.15h-1.15zM103.1 145.9h1.15v1.15h-1.15zM93.8 149.9h1.15v1.15h-1.15zM105.6 150.5h1.15v1.15h-1.15zM95.5 141.9h1.15v1.15h-1.15zM96.9 153.0h1.15v1.15h-1.15zM114.6 155.8h1.15v1.15h-1.15zM118.5 162.4h1.15v1.15h-1.15zM97.5 147.9h1.15v1.15h-1.15zM97.9 139.0h1.15v1.15h-1.15zM110.7 145.5h1.15v1.15h-1.15zM94.4 137.4h1.15v1.15h-1.15zM88.7 154.5h1.15v1.15h-1.15zM98.8 135.3h1.15v1.15h-1.15zM95.8 142.0h1.15v1.15h-1.15zM105.6 150.9h1.15v1.15h-1.15zM100.0 146.8h1.15v1.15h-1.15zM100.6 158.3h1.15v1.15h-1.15zM96.5 158.5h1.15v1.15h-1.15zM113.4 156.4h1.15v1.15h-1.15zM120.1 140.5h1.15v1.15h-1.15zM99.4 149.5h1.15v1.15h-1.15zM105.7 150.9h1.15v1.15h-1.15zM102.2 142.0h1.15v1.15h-1.15zM112.4 147.3h1.15v1.15h-1.15zM105.6 137.6h1.15v1.15h-1.15zM96.2 149.6h1.15v1.15h-1.15zM100.0 153.4h1.15v1.15h-1.15zM104.0 152.6h1.15v1.15h-1.15zM98.0 162.4h1.15v1.15h-1.15zM73.1 163.0h1.15v1.15h-1.15zM100.8 153.8h1.15v1.15h-1.15zM88.8 147.8h1.15v1.15h-1.15zM110.4 139.0h1.15v1.15h-1.15zM91.6 153.4h1.15v1.15h-1.15zM106.8 151.4h1.15v1.15h-1.15zM107.9 161.8h1.15v1.15h-1.15zM101.1 147.0h1.15v1.15h-1.15zM101.3 149.0h1.15v1.15h-1.15zM113.0 148.3h1.15v1.15h-1.15zM111.6 158.4h1.15v1.15h-1.15zM118.6 162.9h1.15v1.15h-1.15zM90.8 162.3h1.15v1.15h-1.15zM114.0 149.8h1.15v1.15h-1.15zM116.2 162.5h1.15v1.15h-1.15zM103.1 156.9h1.15v1.15h-1.15zM107.5 158.6h1.15v1.15h-1.15zM94.3 162.8h1.15v1.15h-1.15zM100.7 152.9h1.15v1.15h-1.15zM99.9 144.3h1.15v1.15h-1.15zM114.1 162.6h1.15v1.15h-1.15zM101.5 162.6h1.15v1.15h-1.15zM110.0 159.1h1.15v1.15h-1.15zM94.0 161.1h1.15v1.15h-1.15zM95.6 146.3h1.15v1.15h-1.15zM102.9 151.6h1.15v1.15h-1.15zM107.5 153.5h1.15v1.15h-1.15zM103.5 154.8h1.15v1.15h-1.15zM73.0 153.4h1.15v1.15h-1.15zM88.3 147.2h1.15v1.15h-1.15zM119.6 156.6h1.15v1.15h-1.15zM110.3 140.2h1.15v1.15h-1.15zM109.2 152.9h1.15v1.15h-1.15zM101.0 146.4h1.15v1.15h-1.15zM115.6 151.7h1.15v1.15h-1.15zM74.9 158.3h1.15v1.15h-1.15zM95.9 147.9h1.15v1.15h-1.15zM103.6 141.3h1.15v1.15h-1.15zM95.0 136.5h1.15v1.15h-1.15zM96.8 132.6h1.15v1.15h-1.15zM102.9 143.2h1.15v1.15h-1.15zM103.5 159.8h1.15v1.15h-1.15zM102.0 151.1h1.15v1.15h-1.15zM103.4 148.5h1.15v1.15h-1.15zM118.9 150.5h1.15v1.15h-1.15zM99.6 156.0h1.15v1.15h-1.15zM97.6 144.0h1.15v1.15h-1.15zM104.7 159.1h1.15v1.15h-1.15zM100.3 143.7h1.15v1.15h-1.15zM100.6 149.6h1.15v1.15h-1.15zM95.7 143.5h1.15v1.15h-1.15zM113.2 156.5h1.15v1.15h-1.15zM91.9 162.6h1.15v1.15h-1.15zM100.6 138.4h1.15v1.15h-1.15zM104.7 139.6h1.15v1.15h-1.15zM108.5 144.9h1.15v1.15h-1.15zM90.8 151.3h1.15v1.15h-1.15zM97.5 145.7h1.15v1.15h-1.15zM110.4 145.1h1.15v1.15h-1.15zM104.4 143.8h1.15v1.15h-1.15zM106.3 147.3h1.15v1.15h-1.15zM92.7 140.1h1.15v1.15h-1.15zM114.7 156.6h1.15v1.15h-1.15zM100.1 140.5h1.15v1.15h-1.15zM95.2 147.9h1.15v1.15h-1.15zM102.5 160.5h1.15v1.15h-1.15zM100.7 140.5h1.15v1.15h-1.15zM94.9 162.6h1.15v1.15h-1.15zM111.9 143.5h1.15v1.15h-1.15zM118.4 162.7h1.15v1.15h-1.15zM104.7 139.9h1.15v1.15h-1.15zM98.8 125.4h1.15v1.15h-1.15zM104.2 154.6h1.15v1.15h-1.15zM98.8 147.4h1.15v1.15h-1.15zM135.2 156.7h1.15v1.15h-1.15zM100.8 145.4h1.15v1.15h-1.15zM106.1 148.4h1.15v1.15h-1.15zM106.5 152.3h1.15v1.15h-1.15zM99.2 162.8h1.15v1.15h-1.15zM122.6 162.4h1.15v1.15h-1.15zM114.7 162.7h1.15v1.15h-1.15zM100.8 161.5h1.15v1.15h-1.15zM102.3 151.4h1.15v1.15h-1.15zM99.3 146.8h1.15v1.15h-1.15zM97.3 156.8h1.15v1.15h-1.15zM96.0 158.1h1.15v1.15h-1.15zM87.8 157.1h1.15v1.15h-1.15zM96.3 162.6h1.15v1.15h-1.15zM106.6 148.2h1.15v1.15h-1.15zM105.9 152.8h1.15v1.15h-1.15zM108.7 150.1h1.15v1.15h-1.15zM101.0 152.8h1.15v1.15h-1.15zM101.8 142.3h1.15v1.15h-1.15zM114.8 159.5h1.15v1.15h-1.15zM116.7 156.1h1.15v1.15h-1.15zM120.3 160.9h1.15v1.15h-1.15zM105.3 151.0h1.15v1.15h-1.15zM107.0 155.8h1.15v1.15h-1.15zM108.0 157.4h1.15v1.15h-1.15zM100.1 160.5h1.15v1.15h-1.15zM108.6 141.2h1.15v1.15h-1.15zM103.7 155.7h1.15v1.15h-1.15zM95.7 157.6h1.15v1.15h-1.15zM107.1 154.9h1.15v1.15h-1.15zM78.6 151.5h1.15v1.15h-1.15zM108.1 141.6h1.15v1.15h-1.15zM103.1 146.8h1.15v1.15h-1.15zM108.6 149.3h1.15v1.15h-1.15zM117.2 152.4h1.15v1.15h-1.15zM107.2 159.5h1.15v1.15h-1.15zM99.7 152.2h1.15v1.15h-1.15zM98.5 162.6h1.15v1.15h-1.15zM107.6 154.4h1.15v1.15h-1.15zM76.8 163.1h1.15v1.15h-1.15zM96.4 154.7h1.15v1.15h-1.15zM108.5 162.5h1.15v1.15h-1.15zM114.0 162.4h1.15v1.15h-1.15zM106.5 151.3h1.15v1.15h-1.15zM101.1 138.3h1.15v1.15h-1.15zM106.0 163.0h1.15v1.15h-1.15zM105.2 148.7h1.15v1.15h-1.15zM108.2 161.6h1.15v1.15h-1.15zM117.7 146.7h1.15v1.15h-1.15zM92.1 162.7h1.15v1.15h-1.15zM96.3 147.8h1.15v1.15h-1.15zM103.5 141.9h1.15v1.15h-1.15zM105.6 144.3h1.15v1.15h-1.15zM74.1 162.5h1.15v1.15h-1.15zM95.6 157.0h1.15v1.15h-1.15zM105.0 157.8h1.15v1.15h-1.15zM101.9 137.9h1.15v1.15h-1.15zM83.6 150.5h1.15v1.15h-1.15zM94.5 153.7h1.15v1.15h-1.15zM105.9 161.6h1.15v1.15h-1.15zM114.4 144.1h1.15v1.15h-1.15zM94.7 161.2h1.15v1.15h-1.15zM87.5 154.4h1.15v1.15h-1.15zM101.0 143.3h1.15v1.15h-1.15zM96.0 162.6h1.15v1.15h-1.15zM101.5 157.2h1.15v1.15h-1.15zM90.8 153.7h1.15v1.15h-1.15zM105.8 150.5h1.15v1.15h-1.15zM96.2 137.4h1.15v1.15h-1.15zM121.4 160.6h1.15v1.15h-1.15zM101.4 158.0h1.15v1.15h-1.15zM99.3 143.1h1.15v1.15h-1.15zM105.5 150.2h1.15v1.15h-1.15zM121.3 150.2h1.15v1.15h-1.15zM79.6 162.7h1.15v1.15h-1.15zM101.9 149.4h1.15v1.15h-1.15zM105.8 142.3h1.15v1.15h-1.15zM101.8 155.5h1.15v1.15h-1.15zM99.7 150.9h1.15v1.15h-1.15zM100.8 158.0h1.15v1.15h-1.15zM91.5 148.2h1.15v1.15h-1.15zM111.7 155.0h1.15v1.15h-1.15zM104.2 147.7h1.15v1.15h-1.15zM103.7 150.0h1.15v1.15h-1.15zM82.6 146.4h1.15v1.15h-1.15zM100.0 144.1h1.15v1.15h-1.15zM101.5 147.7h1.15v1.15h-1.15zM89.0 151.5h1.15v1.15h-1.15zM107.7 159.0h1.15v1.15h-1.15zM113.2 161.9h1.15v1.15h-1.15zM104.1 163.0h1.15v1.15h-1.15zM96.8 155.2h1.15v1.15h-1.15zM100.2 139.2h1.15v1.15h-1.15zM93.0 163.0h1.15v1.15h-1.15zM93.3 150.5h1.15v1.15h-1.15zM111.1 157.1h1.15v1.15h-1.15zM101.2 154.0h1.15v1.15h-1.15zM92.4 149.0h1.15v1.15h-1.15zM94.3 159.5h1.15v1.15h-1.15zM118.8 152.5h1.15v1.15h-1.15zM112.0 162.5h1.15v1.15h-1.15zM104.6 151.6h1.15v1.15h-1.15zM119.2 160.6h1.15v1.15h-1.15zM121.7 162.9h1.15v1.15h-1.15zM121.8 163.1h1.15v1.15h-1.15zM94.0 146.7h1.15v1.15h-1.15zM94.6 136.5h1.15v1.15h-1.15zM131.3 156.3h1.15v1.15h-1.15zM97.3 138.4h1.15v1.15h-1.15zM131.4 152.3h1.15v1.15h-1.15zM92.7 150.6h1.15v1.15h-1.15zM120.6 156.0h1.15v1.15h-1.15zM97.3 128.6h1.15v1.15h-1.15zM90.1 162.9h1.15v1.15h-1.15zM96.9 151.5h1.15v1.15h-1.15zM88.2 158.9h1.15v1.15h-1.15zM103.9 155.0h1.15v1.15h-1.15zM105.9 157.2h1.15v1.15h-1.15zM86.8 153.7h1.15v1.15h-1.15zM94.6 149.6h1.15v1.15h-1.15zM99.8 156.9h1.15v1.15h-1.15zM111.4 153.7h1.15v1.15h-1.15zM115.7 151.5h1.15v1.15h-1.15zM87.7 159.5h1.15v1.15h-1.15zM111.0 147.4h1.15v1.15h-1.15zM111.0 148.1h1.15v1.15h-1.15zM101.0 147.6h1.15v1.15h-1.15zM86.3 161.1h1.15v1.15h-1.15zM98.1 153.0h1.15v1.15h-1.15zM116.6 153.8h1.15v1.15h-1.15zM89.7 156.6h1.15v1.15h-1.15zM97.5 160.6h1.15v1.15h-1.15zM111.9 153.8h1.15v1.15h-1.15zM109.4 149.8h1.15v1.15h-1.15zM94.2 153.9h1.15v1.15h-1.15zM91.3 149.8h1.15v1.15h-1.15zM103.6 162.5h1.15v1.15h-1.15zM91.0 160.6h1.15v1.15h-1.15zM90.4 159.6h1.15v1.15h-1.15zM101.8 154.8h1.15v1.15h-1.15zM104.2 147.4h1.15v1.15h-1.15zM94.7 152.7h1.15v1.15h-1.15zM92.6 146.1h1.15v1.15h-1.15zM103.5 162.8h1.15v1.15h-1.15zM114.3 152.2h1.15v1.15h-1.15zM97.9 148.4h1.15v1.15h-1.15zM98.7 151.6h1.15v1.15h-1.15zM110.3 162.4h1.15v1.15h-1.15zM87.5 162.5h1.15v1.15h-1.15zM98.4 142.9h1.15v1.15h-1.15zM99.4 132.5h1.15v1.15h-1.15zM99.6 161.3h1.15v1.15h-1.15zM112.8 155.6h1.15v1.15h-1.15zM107.0 138.7h1.15v1.15h-1.15zM95.0 162.8h1.15v1.15h-1.15zM108.2 161.5h1.15v1.15h-1.15zM110.9 159.7h1.15v1.15h-1.15zM88.8 157.7h1.15v1.15h-1.15zM102.8 147.5h1.15v1.15h-1.15zM92.1 162.7h1.15v1.15h-1.15zM107.2 162.8h1.15v1.15h-1.15zM106.2 145.8h1.15v1.15h-1.15zM106.5 151.7h1.15v1.15h-1.15zM94.6 146.4h1.15v1.15h-1.15zM106.2 139.6h1.15v1.15h-1.15zM101.8 147.4h1.15v1.15h-1.15zM112.6 151.2h1.15v1.15h-1.15zM92.7 146.4h1.15v1.15h-1.15zM93.8 152.2h1.15v1.15h-1.15zM90.3 153.6h1.15v1.15h-1.15zM106.4 152.3h1.15v1.15h-1.15zM93.0 140.8h1.15v1.15h-1.15zM95.5 162.4h1.15v1.15h-1.15zM98.8 147.0h1.15v1.15h-1.15zM116.6 147.5h1.15v1.15h-1.15zM111.4 151.0h1.15v1.15h-1.15zM101.4 150.9h1.15v1.15h-1.15zM106.0 156.7h1.15v1.15h-1.15zM86.0 156.7h1.15v1.15h-1.15zM104.8 156.7h1.15v1.15h-1.15zM101.4 157.5h1.15v1.15h-1.15zM90.2 155.9h1.15v1.15h-1.15zM89.6 162.0h1.15v1.15h-1.15zM112.6 162.5h1.15v1.15h-1.15zM109.6 162.9h1.15v1.15h-1.15zM103.7 142.3h1.15v1.15h-1.15zM99.0 142.0h1.15v1.15h-1.15zM111.0 162.7h1.15v1.15h-1.15zM108.9 160.6h1.15v1.15h-1.15zM111.0 155.8h1.15v1.15h-1.15zM88.6 149.7h1.15v1.15h-1.15zM108.4 156.1h1.15v1.15h-1.15zM98.9 163.0h1.15v1.15h-1.15zM98.2 147.4h1.15v1.15h-1.15zM109.0 163.0h1.15v1.15h-1.15zM113.7 160.5h1.15v1.15h-1.15zM101.2 155.5h1.15v1.15h-1.15zM97.1 152.4h1.15v1.15h-1.15zM102.5 153.9h1.15v1.15h-1.15zM104.2 162.4h1.15v1.15h-1.15zM102.3 157.2h1.15v1.15h-1.15zM105.0 160.7h1.15v1.15h-1.15zM106.7 150.0h1.15v1.15h-1.15zM98.1 154.0h1.15v1.15h-1.15zM98.6 149.2h1.15v1.15h-1.15zM98.4 149.9h1.15v1.15h-1.15zM130.9 160.8h1.15v1.15h-1.15zM111.1 151.4h1.15v1.15h-1.15zM84.8 135.6h1.15v1.15h-1.15zM100.7 148.4h1.15v1.15h-1.15zM92.1 146.1h1.15v1.15h-1.15zM98.3 145.2h1.15v1.15h-1.15zM99.0 153.7h1.15v1.15h-1.15zM99.5 142.2h1.15v1.15h-1.15zM92.4 162.9h1.15v1.15h-1.15zM108.2 143.9h1.15v1.15h-1.15zM103.9 150.2h1.15v1.15h-1.15zM101.4 161.7h1.15v1.15h-1.15zM106.0 155.5h1.15v1.15h-1.15zM104.4 163.0h1.15v1.15h-1.15zM97.2 133.5h1.15v1.15h-1.15zM90.1 153.7h1.15v1.15h-1.15zM113.8 149.7h1.15v1.15h-1.15zM96.1 154.4h1.15v1.15h-1.15zM110.9 153.6h1.15v1.15h-1.15zM94.8 137.8h1.15v1.15h-1.15zM98.7 146.8h1.15v1.15h-1.15zM97.1 151.7h1.15v1.15h-1.15zM102.7 153.3h1.15v1.15h-1.15zM97.8 142.5h1.15v1.15h-1.15zM103.8 141.9h1.15v1.15h-1.15zM107.7 154.6h1.15v1.15h-1.15zM98.2 145.0h1.15v1.15h-1.15zM102.0 133.5h1.15v1.15h-1.15zM103.9 138.7h1.15v1.15h-1.15zM106.4 161.6h1.15v1.15h-1.15zM104.0 157.7h1.15v1.15h-1.15zM110.3 155.6h1.15v1.15h-1.15zM122.8 162.9h1.15v1.15h-1.15zM104.9 151.3h1.15v1.15h-1.15zM110.5 142.3h1.15v1.15h-1.15zM98.7 135.2h1.15v1.15h-1.15zM95.2 143.4h1.15v1.15h-1.15zM106.8 137.9h1.15v1.15h-1.15zM103.2 148.0h1.15v1.15h-1.15zM117.9 154.8h1.15v1.15h-1.15zM104.0 157.4h1.15v1.15h-1.15zM94.4 143.4h1.15v1.15h-1.15zM103.9 140.3h1.15v1.15h-1.15zM106.2 142.5h1.15v1.15h-1.15zM104.4 160.9h1.15v1.15h-1.15zM99.6 162.8h1.15v1.15h-1.15zM91.4 135.8h1.15v1.15h-1.15zM103.5 143.8h1.15v1.15h-1.15zM84.3 159.6h1.15v1.15h-1.15zM115.1 154.3h1.15v1.15h-1.15zM109.2 150.0h1.15v1.15h-1.15zM93.7 155.0h1.15v1.15h-1.15zM95.9 160.8h1.15v1.15h-1.15zM98.3 155.4h1.15v1.15h-1.15zM103.1 150.6h1.15v1.15h-1.15zM84.3 162.7h1.15v1.15h-1.15zM104.5 130.4h1.15v1.15h-1.15zM106.1 146.9h1.15v1.15h-1.15zM120.6 162.5h1.15v1.15h-1.15zM100.2 138.9h1.15v1.15h-1.15zM89.3 158.9h1.15v1.15h-1.15zM111.4 162.0h1.15v1.15h-1.15zM93.8 159.1h1.15v1.15h-1.15zM106.1 141.4h1.15v1.15h-1.15zM107.9 154.6h1.15v1.15h-1.15zM83.4 141.0h1.15v1.15h-1.15zM112.0 161.9h1.15v1.15h-1.15zM101.9 150.0h1.15v1.15h-1.15zM108.7 156.2h1.15v1.15h-1.15zM97.7 150.8h1.15v1.15h-1.15zM108.9 144.1h1.15v1.15h-1.15zM72.9 153.2h1.15v1.15h-1.15zM96.8 155.3h1.15v1.15h-1.15zM98.6 141.6h1.15v1.15h-1.15zM99.0 141.6h1.15v1.15h-1.15zM105.7 147.8h1.15v1.15h-1.15zM89.6 143.8h1.15v1.15h-1.15zM91.7 147.3h1.15v1.15h-1.15zM99.9 158.7h1.15v1.15h-1.15zM96.9 138.2h1.15v1.15h-1.15zM101.6 152.2h1.15v1.15h-1.15zM101.2 136.8h1.15v1.15h-1.15zM110.6 154.9h1.15v1.15h-1.15zM100.6 161.7h1.15v1.15h-1.15zM99.5 141.4h1.15v1.15h-1.15zM106.9 135.5h1.15v1.15h-1.15zM113.0 135.1h1.15v1.15h-1.15zM89.2 152.4h1.15v1.15h-1.15zM99.4 147.5h1.15v1.15h-1.15zM97.4 144.7h1.15v1.15h-1.15zM94.6 162.7h1.15v1.15h-1.15zM106.9 143.2h1.15v1.15h-1.15zM105.1 152.5h1.15v1.15h-1.15zM95.1 146.1h1.15v1.15h-1.15zM102.4 138.9h1.15v1.15h-1.15zM92.7 142.4h1.15v1.15h-1.15zM97.4 140.4h1.15v1.15h-1.15zM81.0 145.1h1.15v1.15h-1.15zM106.9 145.1h1.15v1.15h-1.15zM117.5 152.7h1.15v1.15h-1.15zM96.8 137.9h1.15v1.15h-1.15zM105.4 140.8h1.15v1.15h-1.15zM84.3 145.6h1.15v1.15h-1.15zM97.4 142.2h1.15v1.15h-1.15zM106.5 146.3h1.15v1.15h-1.15zM120.6 137.2h1.15v1.15h-1.15zM99.4 147.4h1.15v1.15h-1.15zM96.0 139.4h1.15v1.15h-1.15zM117.8 130.3h1.15v1.15h-1.15zM103.9 127.4h1.15v1.15h-1.15zM103.8 125.8h1.15v1.15h-1.15zM88.8 155.4h1.15v1.15h-1.15zM115.8 145.6h1.15v1.15h-1.15zM73.3 154.2h1.15v1.15h-1.15zM102.8 133.7h1.15v1.15h-1.15zM96.9 131.6h1.15v1.15h-1.15zM99.5 143.5h1.15v1.15h-1.15zM101.6 152.0h1.15v1.15h-1.15zM94.0 123.1h1.15v1.15h-1.15zM88.7 132.2h1.15v1.15h-1.15zM96.7 140.2h1.15v1.15h-1.15zM100.0 157.6h1.15v1.15h-1.15zM100.7 134.0h1.15v1.15h-1.15zM97.3 135.9h1.15v1.15h-1.15zM98.0 150.0h1.15v1.15h-1.15zM89.1 151.2h1.15v1.15h-1.15zM118.2 159.1h1.15v1.15h-1.15zM116.6 145.3h1.15v1.15h-1.15zM86.9 162.9h1.15v1.15h-1.15zM115.5 146.9h1.15v1.15h-1.15zM87.1 157.2h1.15v1.15h-1.15zM95.0 135.1h1.15v1.15h-1.15zM92.4 131.6h1.15v1.15h-1.15zM97.3 150.2h1.15v1.15h-1.15zM93.0 133.7h1.15v1.15h-1.15zM106.1 146.2h1.15v1.15h-1.15zM96.5 146.2h1.15v1.15h-1.15zM90.5 142.9h1.15v1.15h-1.15zM95.7 160.4h1.15v1.15h-1.15zM100.1 140.7h1.15v1.15h-1.15zM74.7 126.5h1.15v1.15h-1.15zM77.7 126.4h1.15v1.15h-1.15zM101.2 151.4h1.15v1.15h-1.15zM97.0 150.9h1.15v1.15h-1.15zM104.5 150.9h1.15v1.15h-1.15zM82.1 144.3h1.15v1.15h-1.15zM100.8 141.6h1.15v1.15h-1.15zM101.9 130.2h1.15v1.15h-1.15zM100.3 145.6h1.15v1.15h-1.15zM103.8 140.3h1.15v1.15h-1.15zM100.2 152.9h1.15v1.15h-1.15zM107.3 121.3h1.15v1.15h-1.15zM117.2 134.6h1.15v1.15h-1.15zM106.8 135.1h1.15v1.15h-1.15zM107.3 146.9h1.15v1.15h-1.15zM103.5 148.2h1.15v1.15h-1.15zM106.2 151.0h1.15v1.15h-1.15zM108.4 147.0h1.15v1.15h-1.15zM105.0 138.5h1.15v1.15h-1.15zM80.9 143.3h1.15v1.15h-1.15zM116.4 146.0h1.15v1.15h-1.15zM98.0 143.7h1.15v1.15h-1.15zM114.2 133.1h1.15v1.15h-1.15zM120.9 159.6h1.15v1.15h-1.15zM87.8 137.8h1.15v1.15h-1.15zM101.0 146.8h1.15v1.15h-1.15zM96.0 129.2h1.15v1.15h-1.15zM101.5 146.8h1.15v1.15h-1.15zM92.7 140.5h1.15v1.15h-1.15zM89.1 161.1h1.15v1.15h-1.15zM95.8 142.4h1.15v1.15h-1.15zM95.4 129.2h1.15v1.15h-1.15zM77.8 134.1h1.15v1.15h-1.15zM86.1 146.6h1.15v1.15h-1.15zM108.3 147.3h1.15v1.15h-1.15zM97.1 154.5h1.15v1.15h-1.15zM95.5 144.1h1.15v1.15h-1.15zM99.2 141.3h1.15v1.15h-1.15zM100.2 157.7h1.15v1.15h-1.15zM109.2 145.8h1.15v1.15h-1.15zM106.3 129.3h1.15v1.15h-1.15zM96.1 148.7h1.15v1.15h-1.15zM100.4 124.2h1.15v1.15h-1.15zM109.5 149.5h1.15v1.15h-1.15zM85.7 139.9h1.15v1.15h-1.15zM105.8 162.2h1.15v1.15h-1.15zM86.5 133.1h1.15v1.15h-1.15zM114.8 139.5h1.15v1.15h-1.15zM96.4 137.0h1.15v1.15h-1.15zM99.0 154.0h1.15v1.15h-1.15zM105.4 131.9h1.15v1.15h-1.15zM96.6 162.7h1.15v1.15h-1.15zM114.8 142.5h1.15v1.15h-1.15zM99.5 135.2h1.15v1.15h-1.15zM111.8 143.8h1.15v1.15h-1.15zM95.7 135.4h1.15v1.15h-1.15zM94.2 143.5h1.15v1.15h-1.15zM93.4 152.0h1.15v1.15h-1.15zM100.1 138.5h1.15v1.15h-1.15zM105.0 158.0h1.15v1.15h-1.15zM80.0 147.8h1.15v1.15h-1.15zM111.1 145.7h1.15v1.15h-1.15zM108.6 129.8h1.15v1.15h-1.15zM93.1 154.0h1.15v1.15h-1.15zM99.6 145.0h1.15v1.15h-1.15zM106.7 147.9h1.15v1.15h-1.15zM104.9 139.7h1.15v1.15h-1.15zM97.6 156.9h1.15v1.15h-1.15zM95.7 130.7h1.15v1.15h-1.15zM97.1 152.9h1.15v1.15h-1.15zM118.1 145.8h1.15v1.15h-1.15zM94.4 150.2h1.15v1.15h-1.15zM103.5 155.6h1.15v1.15h-1.15zM105.6 151.6h1.15v1.15h-1.15zM105.5 148.4h1.15v1.15h-1.15zM91.6 142.9h1.15v1.15h-1.15zM116.2 157.1h1.15v1.15h-1.15zM110.0 148.2h1.15v1.15h-1.15zM99.5 147.7h1.15v1.15h-1.15zM97.3 154.7h1.15v1.15h-1.15zM97.5 137.2h1.15v1.15h-1.15zM84.8 159.2h1.15v1.15h-1.15zM93.2 136.3h1.15v1.15h-1.15zM104.5 161.5h1.15v1.15h-1.15zM107.1 141.3h1.15v1.15h-1.15zM106.1 136.6h1.15v1.15h-1.15zM98.1 144.7h1.15v1.15h-1.15zM100.7 151.8h1.15v1.15h-1.15zM105.9 162.3h1.15v1.15h-1.15zM108.7 141.7h1.15v1.15h-1.15zM103.1 136.4h1.15v1.15h-1.15zM94.7 141.2h1.15v1.15h-1.15zM110.5 137.9h1.15v1.15h-1.15zM85.4 134.8h1.15v1.15h-1.15zM88.9 142.7h1.15v1.15h-1.15zM97.7 133.4h1.15v1.15h-1.15zM92.9 140.5h1.15v1.15h-1.15zM104.5 150.2h1.15v1.15h-1.15zM113.5 142.0h1.15v1.15h-1.15zM106.8 145.1h1.15v1.15h-1.15zM90.0 138.4h1.15v1.15h-1.15zM122.0 142.9h1.15v1.15h-1.15zM116.7 152.2h1.15v1.15h-1.15zM116.9 142.6h1.15v1.15h-1.15zM109.8 141.6h1.15v1.15h-1.15zM89.9 133.4h1.15v1.15h-1.15zM105.0 129.2h1.15v1.15h-1.15zM104.3 136.2h1.15v1.15h-1.15zM104.2 131.5h1.15v1.15h-1.15zM109.0 142.3h1.15v1.15h-1.15zM85.9 130.8h1.15v1.15h-1.15zM101.4 129.0h1.15v1.15h-1.15zM103.9 149.0h1.15v1.15h-1.15zM94.4 157.6h1.15v1.15h-1.15zM114.8 147.4h1.15v1.15h-1.15zM105.2 148.9h1.15v1.15h-1.15zM98.2 156.8h1.15v1.15h-1.15zM95.6 120.7h1.15v1.15h-1.15zM101.0 148.6h1.15v1.15h-1.15zM108.8 134.0h1.15v1.15h-1.15zM114.2 136.7h1.15v1.15h-1.15zM106.9 151.3h1.15v1.15h-1.15zM102.5 155.1h1.15v1.15h-1.15zM96.0 162.4h1.15v1.15h-1.15zM115.7 162.3h1.15v1.15h-1.15zM85.1 157.8h1.15v1.15h-1.15zM115.8 139.0h1.15v1.15h-1.15zM91.2 155.1h1.15v1.15h-1.15zM101.4 135.3h1.15v1.15h-1.15zM96.1 145.1h1.15v1.15h-1.15zM110.3 159.2h1.15v1.15h-1.15zM94.8 158.9h1.15v1.15h-1.15zM86.2 151.2h1.15v1.15h-1.15zM99.5 148.6h1.15v1.15h-1.15zM96.6 137.7h1.15v1.15h-1.15zM103.5 155.1h1.15v1.15h-1.15zM79.4 144.9h1.15v1.15h-1.15zM96.9 134.3h1.15v1.15h-1.15zM87.8 149.3h1.15v1.15h-1.15zM106.2 150.5h1.15v1.15h-1.15zM81.6 130.0h1.15v1.15h-1.15zM94.9 140.3h1.15v1.15h-1.15zM117.9 140.8h1.15v1.15h-1.15zM102.0 153.8h1.15v1.15h-1.15zM117.0 147.9h1.15v1.15h-1.15zM104.1 162.7h1.15v1.15h-1.15zM96.9 127.4h1.15v1.15h-1.15zM93.5 141.5h1.15v1.15h-1.15zM113.5 147.4h1.15v1.15h-1.15zM112.5 145.4h1.15v1.15h-1.15zM101.2 139.0h1.15v1.15h-1.15zM88.9 149.2h1.15v1.15h-1.15zM104.3 149.8h1.15v1.15h-1.15zM95.7 140.5h1.15v1.15h-1.15zM104.5 150.2h1.15v1.15h-1.15zM120.1 136.2h1.15v1.15h-1.15zM110.4 152.8h1.15v1.15h-1.15zM98.3 145.7h1.15v1.15h-1.15zM100.3 158.9h1.15v1.15h-1.15zM125.4 147.5h1.15v1.15h-1.15zM98.4 153.4h1.15v1.15h-1.15zM105.6 142.7h1.15v1.15h-1.15zM108.1 152.7h1.15v1.15h-1.15zM97.0 152.5h1.15v1.15h-1.15zM79.1 132.2h1.15v1.15h-1.15zM97.8 145.9h1.15v1.15h-1.15zM86.7 158.4h1.15v1.15h-1.15zM97.2 145.9h1.15v1.15h-1.15zM100.4 151.6h1.15v1.15h-1.15zM95.2 151.5h1.15v1.15h-1.15zM92.8 130.4h1.15v1.15h-1.15zM105.8 146.0h1.15v1.15h-1.15zM109.3 126.0h1.15v1.15h-1.15zM101.9 138.3h1.15v1.15h-1.15zM99.0 140.7h1.15v1.15h-1.15zM97.2 138.1h1.15v1.15h-1.15zM110.7 128.1h1.15v1.15h-1.15zM84.7 147.7h1.15v1.15h-1.15zM120.3 137.2h1.15v1.15h-1.15zM92.1 133.3h1.15v1.15h-1.15zM91.0 156.3h1.15v1.15h-1.15zM107.4 153.0h1.15v1.15h-1.15zM104.2 146.6h1.15v1.15h-1.15zM95.2 135.2h1.15v1.15h-1.15zM106.8 162.9h1.15v1.15h-1.15zM89.1 141.6h1.15v1.15h-1.15zM113.1 162.5h1.15v1.15h-1.15zM107.0 139.1h1.15v1.15h-1.15zM119.0 132.7h1.15v1.15h-1.15zM106.2 142.2h1.15v1.15h-1.15zM102.7 147.9h1.15v1.15h-1.15zM113.5 152.7h1.15v1.15h-1.15zM111.0 147.9h1.15v1.15h-1.15zM90.5 157.2h1.15v1.15h-1.15zM115.7 149.0h1.15v1.15h-1.15zM108.5 142.2h1.15v1.15h-1.15zM86.9 153.8h1.15v1.15h-1.15zM93.8 162.6h1.15v1.15h-1.15zM107.5 144.2h1.15v1.15h-1.15zM94.9 145.4h1.15v1.15h-1.15zM91.1 140.9h1.15v1.15h-1.15zM116.3 141.6h1.15v1.15h-1.15zM118.6 143.5h1.15v1.15h-1.15zM104.8 135.6h1.15v1.15h-1.15zM97.9 140.2h1.15v1.15h-1.15zM87.4 162.8h1.15v1.15h-1.15zM106.5 143.6h1.15v1.15h-1.15zM90.2 144.7h1.15v1.15h-1.15zM90.6 135.2h1.15v1.15h-1.15zM99.0 162.7h1.15v1.15h-1.15zM103.0 128.6h1.15v1.15h-1.15zM112.3 142.9h1.15v1.15h-1.15zM85.8 135.3h1.15v1.15h-1.15zM100.8 147.4h1.15v1.15h-1.15zM106.4 130.2h1.15v1.15h-1.15zM100.4 126.5h1.15v1.15h-1.15zM106.7 162.6h1.15v1.15h-1.15zM112.4 140.0h1.15v1.15h-1.15zM102.7 141.8h1.15v1.15h-1.15zM106.8 155.3h1.15v1.15h-1.15zM95.5 135.8h1.15v1.15h-1.15zM119.1 153.5h1.15v1.15h-1.15zM119.3 153.5h1.15v1.15h-1.15zM102.1 160.0h1.15v1.15h-1.15zM94.3 140.3h1.15v1.15h-1.15zM96.9 150.9h1.15v1.15h-1.15zM92.5 142.7h1.15v1.15h-1.15zM92.6 142.2h1.15v1.15h-1.15zM111.6 155.0h1.15v1.15h-1.15zM98.6 162.8h1.15v1.15h-1.15zM99.2 160.3h1.15v1.15h-1.15zM108.2 138.8h1.15v1.15h-1.15zM99.5 135.5h1.15v1.15h-1.15zM108.8 144.1h1.15v1.15h-1.15zM101.3 144.6h1.15v1.15h-1.15zM86.9 140.7h1.15v1.15h-1.15zM98.1 154.5h1.15v1.15h-1.15zM92.4 149.6h1.15v1.15h-1.15zM105.1 156.0h1.15v1.15h-1.15zM99.2 142.4h1.15v1.15h-1.15zM106.1 139.1h1.15v1.15h-1.15zM93.5 145.5h1.15v1.15h-1.15zM95.7 135.4h1.15v1.15h-1.15zM91.5 139.4h1.15v1.15h-1.15zM96.2 144.2h1.15v1.15h-1.15zM119.8 138.4h1.15v1.15h-1.15zM103.8 152.9h1.15v1.15h-1.15zM107.5 153.0h1.15v1.15h-1.15zM107.9 141.2h1.15v1.15h-1.15zM105.6 136.5h1.15v1.15h-1.15zM118.7 162.5h1.15v1.15h-1.15zM119.7 135.9h1.15v1.15h-1.15zM115.6 128.3h1.15v1.15h-1.15zM110.0 143.4h1.15v1.15h-1.15zM106.9 136.9h1.15v1.15h-1.15zM111.7 128.7h1.15v1.15h-1.15zM114.0 153.0h1.15v1.15h-1.15zM120.4 137.6h1.15v1.15h-1.15zM120.0 137.8h1.15v1.15h-1.15zM120.3 140.4h1.15v1.15h-1.15zM100.7 153.7h1.15v1.15h-1.15zM91.2 136.5h1.15v1.15h-1.15zM115.5 146.1h1.15v1.15h-1.15zM114.0 139.6h1.15v1.15h-1.15zM110.9 137.4h1.15v1.15h-1.15zM112.9 147.8h1.15v1.15h-1.15zM116.6 136.6h1.15v1.15h-1.15zM123.8 139.7h1.15v1.15h-1.15zM110.0 135.3h1.15v1.15h-1.15zM125.8 132.4h1.15v1.15h-1.15zM125.1 133.6h1.15v1.15h-1.15zM99.5 135.8h1.15v1.15h-1.15zM119.6 147.5h1.15v1.15h-1.15zM107.0 145.1h1.15v1.15h-1.15zM110.1 142.4h1.15v1.15h-1.15zM116.5 126.8h1.15v1.15h-1.15zM121.0 140.0h1.15v1.15h-1.15zM121.3 140.8h1.15v1.15h-1.15zM121.5 157.1h1.15v1.15h-1.15zM107.3 148.2h1.15v1.15h-1.15zM110.1 156.7h1.15v1.15h-1.15zM118.2 139.8h1.15v1.15h-1.15zM113.4 152.5h1.15v1.15h-1.15zM100.4 150.9h1.15v1.15h-1.15zM109.5 143.1h1.15v1.15h-1.15zM108.1 140.3h1.15v1.15h-1.15zM117.0 147.4h1.15v1.15h-1.15zM106.4 136.9h1.15v1.15h-1.15zM115.6 148.2h1.15v1.15h-1.15zM102.8 142.5h1.15v1.15h-1.15zM109.3 135.5h1.15v1.15h-1.15zM114.3 139.6h1.15v1.15h-1.15zM114.9 127.4h1.15v1.15h-1.15zM115.5 145.3h1.15v1.15h-1.15zM105.0 156.3h1.15v1.15h-1.15zM100.6 146.0h1.15v1.15h-1.15zM113.4 140.6h1.15v1.15h-1.15zM113.2 150.7h1.15v1.15h-1.15zM96.1 144.7h1.15v1.15h-1.15zM116.6 128.8h1.15v1.15h-1.15zM131.7 139.0h1.15v1.15h-1.15zM114.0 137.1h1.15v1.15h-1.15zM107.8 142.0h1.15v1.15h-1.15zM104.2 133.3h1.15v1.15h-1.15zM114.1 141.2h1.15v1.15h-1.15zM100.5 141.8h1.15v1.15h-1.15zM103.9 144.4h1.15v1.15h-1.15zM103.2 130.1h1.15v1.15h-1.15zM109.2 131.4h1.15v1.15h-1.15zM119.0 153.6h1.15v1.15h-1.15zM116.7 140.8h1.15v1.15h-1.15zM115.3 149.4h1.15v1.15h-1.15zM108.8 136.9h1.15v1.15h-1.15zM101.0 138.5h1.15v1.15h-1.15zM110.2 136.5h1.15v1.15h-1.15zM110.5 133.1h1.15v1.15h-1.15zM108.3 142.1h1.15v1.15h-1.15zM117.5 130.1h1.15v1.15h-1.15zM115.1 130.5h1.15v1.15h-1.15zM117.6 144.6h1.15v1.15h-1.15zM114.6 141.1h1.15v1.15h-1.15zM111.4 139.4h1.15v1.15h-1.15zM109.6 140.9h1.15v1.15h-1.15zM113.6 115.0h1.15v1.15h-1.15zM118.8 141.0h1.15v1.15h-1.15zM117.4 138.5h1.15v1.15h-1.15zM102.7 161.4h1.15v1.15h-1.15zM118.4 135.7h1.15v1.15h-1.15zM104.6 126.9h1.15v1.15h-1.15zM111.1 139.8h1.15v1.15h-1.15zM102.8 148.1h1.15v1.15h-1.15zM119.8 137.5h1.15v1.15h-1.15zM104.8 143.6h1.15v1.15h-1.15zM110.1 138.3h1.15v1.15h-1.15zM128.4 129.1h1.15v1.15h-1.15zM112.3 139.6h1.15v1.15h-1.15zM109.6 143.5h1.15v1.15h-1.15zM113.4 123.4h1.15v1.15h-1.15zM93.0 133.9h1.15v1.15h-1.15zM112.1 144.6h1.15v1.15h-1.15zM104.9 145.3h1.15v1.15h-1.15zM117.2 156.5h1.15v1.15h-1.15zM111.4 132.8h1.15v1.15h-1.15zM112.4 145.9h1.15v1.15h-1.15zM102.2 146.5h1.15v1.15h-1.15zM114.6 120.1h1.15v1.15h-1.15zM116.0 142.0h1.15v1.15h-1.15zM97.0 152.9h1.15v1.15h-1.15zM99.1 142.8h1.15v1.15h-1.15zM115.6 131.6h1.15v1.15h-1.15zM101.5 149.1h1.15v1.15h-1.15zM95.4 120.0h1.15v1.15h-1.15zM108.8 159.0h1.15v1.15h-1.15zM95.3 140.8h1.15v1.15h-1.15zM104.9 131.4h1.15v1.15h-1.15zM113.4 136.8h1.15v1.15h-1.15zM109.6 148.5h1.15v1.15h-1.15zM113.6 134.8h1.15v1.15h-1.15zM112.0 136.0h1.15v1.15h-1.15zM106.1 146.6h1.15v1.15h-1.15zM109.3 129.9h1.15v1.15h-1.15zM118.6 129.4h1.15v1.15h-1.15zM104.2 145.9h1.15v1.15h-1.15zM99.0 149.8h1.15v1.15h-1.15zM109.7 144.2h1.15v1.15h-1.15zM111.6 145.5h1.15v1.15h-1.15zM115.9 128.1h1.15v1.15h-1.15zM111.6 147.7h1.15v1.15h-1.15zM127.5 126.9h1.15v1.15h-1.15zM114.7 158.3h1.15v1.15h-1.15zM138.6 149.8h1.15v1.15h-1.15zM102.8 157.3h1.15v1.15h-1.15zM123.4 141.8h1.15v1.15h-1.15zM124.6 132.6h1.15v1.15h-1.15zM107.2 137.4h1.15v1.15h-1.15zM113.0 158.5h1.15v1.15h-1.15zM115.2 135.2h1.15v1.15h-1.15zM105.3 148.6h1.15v1.15h-1.15zM109.6 144.6h1.15v1.15h-1.15zM114.0 136.5h1.15v1.15h-1.15zM105.9 133.4h1.15v1.15h-1.15zM95.5 142.4h1.15v1.15h-1.15zM111.0 125.6h1.15v1.15h-1.15zM125.9 140.9h1.15v1.15h-1.15zM111.5 139.1h1.15v1.15h-1.15zM113.4 152.2h1.15v1.15h-1.15zM118.2 132.1h1.15v1.15h-1.15zM114.0 137.2h1.15v1.15h-1.15zM110.5 154.2h1.15v1.15h-1.15zM112.9 133.9h1.15v1.15h-1.15zM103.6 135.8h1.15v1.15h-1.15zM110.8 131.4h1.15v1.15h-1.15zM105.7 151.7h1.15v1.15h-1.15zM108.9 132.3h1.15v1.15h-1.15zM110.0 133.3h1.15v1.15h-1.15zM106.2 139.4h1.15v1.15h-1.15zM106.8 146.3h1.15v1.15h-1.15zM117.3 143.0h1.15v1.15h-1.15zM107.2 145.1h1.15v1.15h-1.15zM94.3 138.7h1.15v1.15h-1.15zM115.3 134.0h1.15v1.15h-1.15zM113.7 142.0h1.15v1.15h-1.15zM121.6 130.5h1.15v1.15h-1.15zM110.2 122.0h1.15v1.15h-1.15zM107.4 142.3h1.15v1.15h-1.15zM118.2 143.8h1.15v1.15h-1.15zM111.8 136.0h1.15v1.15h-1.15zM108.4 140.7h1.15v1.15h-1.15zM113.7 149.3h1.15v1.15h-1.15zM100.2 123.9h1.15v1.15h-1.15zM108.9 144.7h1.15v1.15h-1.15zM116.2 141.3h1.15v1.15h-1.15zM111.8 139.5h1.15v1.15h-1.15zM118.8 146.0h1.15v1.15h-1.15zM94.6 144.1h1.15v1.15h-1.15zM108.0 139.7h1.15v1.15h-1.15zM119.0 149.3h1.15v1.15h-1.15zM124.6 137.7h1.15v1.15h-1.15zM112.1 146.7h1.15v1.15h-1.15zM103.5 142.7h1.15v1.15h-1.15zM110.5 143.9h1.15v1.15h-1.15zM127.7 142.1h1.15v1.15h-1.15zM133.2 136.0h1.15v1.15h-1.15zM102.5 147.7h1.15v1.15h-1.15zM112.4 143.2h1.15v1.15h-1.15zM118.6 139.5h1.15v1.15h-1.15zM114.3 130.0h1.15v1.15h-1.15zM112.3 148.5h1.15v1.15h-1.15zM106.3 138.1h1.15v1.15h-1.15zM94.0 145.3h1.15v1.15h-1.15zM88.4 147.3h1.15v1.15h-1.15zM110.7 135.3h1.15v1.15h-1.15zM122.1 133.4h1.15v1.15h-1.15zM106.6 141.2h1.15v1.15h-1.15zM108.6 135.0h1.15v1.15h-1.15zM107.0 140.5h1.15v1.15h-1.15zM93.5 150.2h1.15v1.15h-1.15zM103.6 133.9h1.15v1.15h-1.15zM102.8 131.5h1.15v1.15h-1.15zM106.2 135.5h1.15v1.15h-1.15zM113.9 150.0h1.15v1.15h-1.15zM126.0 132.4h1.15v1.15h-1.15zM104.7 139.9h1.15v1.15h-1.15zM109.3 138.1h1.15v1.15h-1.15zM97.4 139.7h1.15v1.15h-1.15zM114.8 138.7h1.15v1.15h-1.15zM114.2 148.1h1.15v1.15h-1.15zM95.4 126.4h1.15v1.15h-1.15zM114.7 142.0h1.15v1.15h-1.15zM97.3 140.8h1.15v1.15h-1.15zM119.1 140.8h1.15v1.15h-1.15zM109.4 131.3h1.15v1.15h-1.15zM112.7 142.2h1.15v1.15h-1.15zM112.1 129.9h1.15v1.15h-1.15zM99.6 136.5h1.15v1.15h-1.15zM112.0 131.3h1.15v1.15h-1.15zM99.5 152.8h1.15v1.15h-1.15zM123.7 145.8h1.15v1.15h-1.15zM101.8 141.8h1.15v1.15h-1.15zM111.3 158.5h1.15v1.15h-1.15zM109.1 146.0h1.15v1.15h-1.15zM127.1 145.6h1.15v1.15h-1.15zM112.6 137.1h1.15v1.15h-1.15zM115.3 144.7h1.15v1.15h-1.15zM120.6 141.1h1.15v1.15h-1.15zM126.5 159.3h1.15v1.15h-1.15zM111.7 158.8h1.15v1.15h-1.15zM110.0 154.6h1.15v1.15h-1.15zM123.8 157.3h1.15v1.15h-1.15zM120.4 154.6h1.15v1.15h-1.15zM116.4 153.0h1.15v1.15h-1.15zM144.4 135.6h1.15v1.15h-1.15zM112.0 151.9h1.15v1.15h-1.15zM127.6 153.4h1.15v1.15h-1.15zM130.1 147.9h1.15v1.15h-1.15zM112.3 160.1h1.15v1.15h-1.15zM128.9 156.9h1.15v1.15h-1.15zM125.0 149.8h1.15v1.15h-1.15zM119.2 144.6h1.15v1.15h-1.15zM136.0 155.1h1.15v1.15h-1.15zM123.8 159.0h1.15v1.15h-1.15zM123.8 161.2h1.15v1.15h-1.15zM116.3 149.9h1.15v1.15h-1.15zM114.9 158.9h1.15v1.15h-1.15zM157.6 145.0h1.15v1.15h-1.15zM140.2 144.3h1.15v1.15h-1.15zM118.8 149.4h1.15v1.15h-1.15zM126.7 155.9h1.15v1.15h-1.15zM108.7 151.0h1.15v1.15h-1.15zM117.2 141.9h1.15v1.15h-1.15zM147.1 163.1h1.15v1.15h-1.15zM111.6 160.1h1.15v1.15h-1.15zM108.1 151.7h1.15v1.15h-1.15zM128.8 147.4h1.15v1.15h-1.15zM108.0 139.7h1.15v1.15h-1.15zM123.6 154.0h1.15v1.15h-1.15zM134.5 157.1h1.15v1.15h-1.15zM119.9 152.9h1.15v1.15h-1.15zM109.3 153.5h1.15v1.15h-1.15zM117.6 157.9h1.15v1.15h-1.15zM112.0 146.8h1.15v1.15h-1.15zM113.4 158.4h1.15v1.15h-1.15zM131.4 160.7h1.15v1.15h-1.15zM136.6 152.1h1.15v1.15h-1.15zM108.7 148.3h1.15v1.15h-1.15zM127.8 160.2h1.15v1.15h-1.15zM109.1 162.1h1.15v1.15h-1.15zM123.4 156.8h1.15v1.15h-1.15zM137.8 156.6h1.15v1.15h-1.15zM113.3 161.6h1.15v1.15h-1.15zM120.7 157.5h1.15v1.15h-1.15zM134.6 155.9h1.15v1.15h-1.15zM129.3 159.4h1.15v1.15h-1.15zM112.5 156.3h1.15v1.15h-1.15zM113.0 155.9h1.15v1.15h-1.15zM110.8 155.9h1.15v1.15h-1.15zM120.0 151.2h1.15v1.15h-1.15zM132.8 156.6h1.15v1.15h-1.15zM108.1 160.9h1.15v1.15h-1.15zM120.6 159.2h1.15v1.15h-1.15zM111.7 152.5h1.15v1.15h-1.15zM129.1 158.5h1.15v1.15h-1.15zM108.4 160.2h1.15v1.15h-1.15zM132.8 158.8h1.15v1.15h-1.15zM126.4 149.4h1.15v1.15h-1.15zM155.2 153.2h1.15v1.15h-1.15zM136.4 161.5h1.15v1.15h-1.15zM145.8 158.8h1.15v1.15h-1.15zM134.0 157.4h1.15v1.15h-1.15zM128.7 155.5h1.15v1.15h-1.15zM120.6 155.6h1.15v1.15h-1.15zM117.3 156.6h1.15v1.15h-1.15zM127.4 159.0h1.15v1.15h-1.15zM118.0 158.9h1.15v1.15h-1.15zM109.8 154.4h1.15v1.15h-1.15zM137.3 152.9h1.15v1.15h-1.15zM128.0 148.0h1.15v1.15h-1.15zM119.0 160.0h1.15v1.15h-1.15zM128.7 130.9h1.15v1.15h-1.15zM120.4 158.6h1.15v1.15h-1.15zM113.9 161.3h1.15v1.15h-1.15zM112.3 141.7h1.15v1.15h-1.15zM134.2 150.1h1.15v1.15h-1.15zM112.3 144.8h1.15v1.15h-1.15zM121.4 154.1h1.15v1.15h-1.15zM126.8 157.1h1.15v1.15h-1.15zM110.4 161.2h1.15v1.15h-1.15zM116.0 142.6h1.15v1.15h-1.15zM119.7 162.3h1.15v1.15h-1.15zM112.7 152.2h1.15v1.15h-1.15zM109.5 144.5h1.15v1.15h-1.15zM110.2 143.0h1.15v1.15h-1.15zM110.4 163.1h1.15v1.15h-1.15zM111.8 162.4h1.15v1.15h-1.15zM114.0 159.3h1.15v1.15h-1.15zM108.0 161.2h1.15v1.15h-1.15zM111.8 156.1h1.15v1.15h-1.15zM126.7 162.7h1.15v1.15h-1.15zM115.5 156.1h1.15v1.15h-1.15zM121.4 161.8h1.15v1.15h-1.15zM120.8 161.4h1.15v1.15h-1.15zM122.8 152.4h1.15v1.15h-1.15zM141.1 153.7h1.15v1.15h-1.15zM112.3 145.5h1.15v1.15h-1.15zM113.0 162.6h1.15v1.15h-1.15zM114.0 158.0h1.15v1.15h-1.15zM117.1 159.5h1.15v1.15h-1.15zM124.5 157.8h1.15v1.15h-1.15zM113.7 156.1h1.15v1.15h-1.15zM130.0 152.5h1.15v1.15h-1.15zM114.7 156.1h1.15v1.15h-1.15zM128.0 155.5h1.15v1.15h-1.15zM117.0 159.5h1.15v1.15h-1.15zM113.8 154.7h1.15v1.15h-1.15zM123.5 153.0h1.15v1.15h-1.15zM114.1 157.1h1.15v1.15h-1.15zM140.0 138.2h1.15v1.15h-1.15zM110.4 156.0h1.15v1.15h-1.15zM129.9 141.9h1.15v1.15h-1.15zM122.1 146.2h1.15v1.15h-1.15zM122.2 153.2h1.15v1.15h-1.15zM128.3 154.1h1.15v1.15h-1.15zM131.3 142.7h1.15v1.15h-1.15zM115.1 162.0h1.15v1.15h-1.15zM134.6 162.6h1.15v1.15h-1.15zM141.5 159.2h1.15v1.15h-1.15zM120.2 161.9h1.15v1.15h-1.15zM114.3 149.8h1.15v1.15h-1.15zM115.2 162.7h1.15v1.15h-1.15zM120.2 159.3h1.15v1.15h-1.15zM117.9 160.8h1.15v1.15h-1.15zM118.4 146.3h1.15v1.15h-1.15zM118.0 151.4h1.15v1.15h-1.15zM108.2 143.8h1.15v1.15h-1.15zM109.4 153.9h1.15v1.15h-1.15zM135.7 154.1h1.15v1.15h-1.15zM107.7 153.0h1.15v1.15h-1.15zM130.4 162.4h1.15v1.15h-1.15zM121.3 155.5h1.15v1.15h-1.15zM110.6 158.4h1.15v1.15h-1.15zM119.0 157.0h1.15v1.15h-1.15zM134.3 158.7h1.15v1.15h-1.15zM124.1 156.8h1.15v1.15h-1.15zM125.8 147.2h1.15v1.15h-1.15zM115.2 150.6h1.15v1.15h-1.15zM108.7 156.4h1.15v1.15h-1.15zM113.3 144.4h1.15v1.15h-1.15zM123.9 158.6h1.15v1.15h-1.15zM112.2 157.3h1.15v1.15h-1.15zM113.1 153.5h1.15v1.15h-1.15zM122.9 154.4h1.15v1.15h-1.15zM131.2 162.5h1.15v1.15h-1.15zM114.6 153.9h1.15v1.15h-1.15zM113.2 161.9h1.15v1.15h-1.15zM115.0 150.0h1.15v1.15h-1.15zM118.1 158.2h1.15v1.15h-1.15zM127.3 157.1h1.15v1.15h-1.15zM108.3 162.6h1.15v1.15h-1.15zM134.2 159.3h1.15v1.15h-1.15zM121.1 159.7h1.15v1.15h-1.15zM111.6 142.1h1.15v1.15h-1.15zM110.5 161.3h1.15v1.15h-1.15zM109.9 152.9h1.15v1.15h-1.15zM127.9 158.0h1.15v1.15h-1.15zM112.1 156.2h1.15v1.15h-1.15zM124.5 161.9h1.15v1.15h-1.15zM116.6 158.0h1.15v1.15h-1.15zM139.9 160.9h1.15v1.15h-1.15zM110.2 150.4h1.15v1.15h-1.15zM111.7 161.9h1.15v1.15h-1.15zM136.7 157.7h1.15v1.15h-1.15zM109.1 147.9h1.15v1.15h-1.15zM110.9 149.5h1.15v1.15h-1.15zM120.1 153.1h1.15v1.15h-1.15zM116.4 153.2h1.15v1.15h-1.15zM109.8 145.2h1.15v1.15h-1.15zM107.6 151.7h1.15v1.15h-1.15zM113.8 158.0h1.15v1.15h-1.15zM113.7 149.9h1.15v1.15h-1.15zM121.1 159.9h1.15v1.15h-1.15zM120.0 152.5h1.15v1.15h-1.15zM117.0 143.9h1.15v1.15h-1.15zM122.1 159.4h1.15v1.15h-1.15zM108.0 142.6h1.15v1.15h-1.15zM139.0 146.8h1.15v1.15h-1.15zM123.2 153.6h1.15v1.15h-1.15zM112.8 157.1h1.15v1.15h-1.15zM109.6 159.8h1.15v1.15h-1.15zM114.7 157.0h1.15v1.15h-1.15zM116.5 149.4h1.15v1.15h-1.15zM111.9 161.0h1.15v1.15h-1.15zM125.3 147.8h1.15v1.15h-1.15zM130.0 151.1h1.15v1.15h-1.15zM108.4 162.8h1.15v1.15h-1.15zM120.0 150.9h1.15v1.15h-1.15zM107.7 157.5h1.15v1.15h-1.15zM122.5 162.6h1.15v1.15h-1.15zM154.9 151.5h1.15v1.15h-1.15zM108.0 160.6h1.15v1.15h-1.15zM122.8 149.8h1.15v1.15h-1.15zM111.6 158.8h1.15v1.15h-1.15zM116.0 152.2h1.15v1.15h-1.15zM109.0 157.7h1.15v1.15h-1.15zM110.6 160.9h1.15v1.15h-1.15zM115.6 160.8h1.15v1.15h-1.15zM114.9 162.5h1.15v1.15h-1.15zM114.5 148.2h1.15v1.15h-1.15zM124.6 146.9h1.15v1.15h-1.15zM124.4 160.2h1.15v1.15h-1.15zM112.5 161.9h1.15v1.15h-1.15zM118.9 153.3h1.15v1.15h-1.15zM111.2 160.1h1.15v1.15h-1.15zM123.4 146.9h1.15v1.15h-1.15zM122.5 157.5h1.15v1.15h-1.15zM126.2 158.9h1.15v1.15h-1.15zM121.0 159.3h1.15v1.15h-1.15zM115.6 151.2h1.15v1.15h-1.15zM109.4 148.9h1.15v1.15h-1.15zM110.9 150.7h1.15v1.15h-1.15zM117.0 151.1h1.15v1.15h-1.15zM111.4 156.9h1.15v1.15h-1.15zM120.6 156.0h1.15v1.15h-1.15zM125.4 156.9h1.15v1.15h-1.15zM108.0 156.7h1.15v1.15h-1.15zM115.4 151.8h1.15v1.15h-1.15z" fill="#000" opacity="0.9"/>
<path d="M53.0 42.1h1.6v1.6h-1.6zM56.2 45.0h1.6v1.6h-1.6zM60.6 45.9h1.6v1.6h-1.6zM65.1 42.7h1.6v1.6h-1.6zM72.7 42.1h1.6v1.6h-1.6zM78.4 45.2h1.6v1.6h-1.6zM68.2 47.2h1.6v1.6h-1.6zM48.6 46.5h1.6v1.6h-1.6zM36.5 47.8h1.6v1.6h-1.6zM41.6 49.7h1.6v1.6h-1.6zM40.9 51.6h1.6v1.6h-1.6zM56.8 52.2h1.6v1.6h-1.6zM61.2 51.6h1.6v1.6h-1.6zM61.9 53.5h1.6v1.6h-1.6zM70.8 54.1h1.6v1.6h-1.6zM67.6 56.0h1.6v1.6h-1.6zM51.1 55.1h1.6v1.6h-1.6zM47.9 57.3h1.6v1.6h-1.6zM38.4 56.0h1.6v1.6h-1.6zM33.3 56.7h1.6v1.6h-1.6zM34.0 58.6h1.6v1.6h-1.6zM28.9 60.5h1.6v1.6h-1.6zM29.5 62.4h1.6v1.6h-1.6zM25.7 63.6h1.6v1.6h-1.6zM51.1 59.4h1.6v1.6h-1.6zM54.3 61.1h1.6v1.6h-1.6zM60.6 60.5h1.6v1.6h-1.6zM60.6 63.0h1.6v1.6h-1.6zM68.2 62.4h1.6v1.6h-1.6zM70.8 62.4h1.6v1.6h-1.6zM42.2 63.6h1.6v1.6h-1.6zM53.6 64.9h1.6v1.6h-1.6zM59.3 66.8h1.6v1.6h-1.6zM65.1 68.7h1.6v1.6h-1.6zM68.9 67.4h1.6v1.6h-1.6zM28.9 67.4h1.6v1.6h-1.6zM24.4 70.0h1.6v1.6h-1.6zM42.8 69.3h1.6v1.6h-1.6zM37.1 70.6h1.6v1.6h-1.6zM39.7 70.6h1.6v1.6h-1.6zM49.8 70.0h1.6v1.6h-1.6zM54.3 70.0h1.6v1.6h-1.6zM56.8 71.2h1.6v1.6h-1.6zM28.3 73.2h1.6v1.6h-1.6zM87.4 85.6h1.6v1.6h-1.6zM90.6 84.7h1.6v1.6h-1.6zM92.2 88.9h1.6v1.6h-1.6zM96.2 89.6h1.6v1.6h-1.6zM102.7 77.2h1.6v1.6h-1.6zM106.0 88.6h1.6v1.6h-1.6zM107.0 91.2h1.6v1.6h-1.6zM111.9 94.5h1.6v1.6h-1.6zM115.2 85.6h1.6v1.6h-1.6zM121.7 74.8h1.6v1.6h-1.6zM123.2 102.6h1.6v1.6h-1.6zM125.0 87.9h1.6v1.6h-1.6zM126.6 107.5h1.6v1.6h-1.6zM129.9 86.3h1.6v1.6h-1.6zM131.5 79.8h1.6v1.6h-1.6zM133.1 112.4h1.6v1.6h-1.6zM134.8 99.4h1.6v1.6h-1.6zM135.4 71.6h1.6v1.6h-1.6zM136.4 107.5h1.6v1.6h-1.6zM138.0 96.1h1.6v1.6h-1.6zM141.3 104.2h1.6v1.6h-1.6zM142.9 79.8h1.6v1.6h-1.6zM144.6 72.6h1.6v1.6h-1.6zM146.2 72.6h1.6v1.6h-1.6zM142.9 92.8h1.6v1.6h-1.6zM160.9 72.6h1.6v1.6h-1.6zM87.4 102.6h1.6v1.6h-1.6zM90.6 114.1h1.6v1.6h-1.6zM103.7 112.4h1.6v1.6h-1.6zM108.6 115.7h1.6v1.6h-1.6zM113.5 117.3h1.6v1.6h-1.6zM118.4 117.3h1.6v1.6h-1.6zM121.7 115.7h1.6v1.6h-1.6zM128.2 110.8h1.6v1.6h-1.6zM102.1 119.0h1.6v1.6h-1.6zM98.8 120.6h1.6v1.6h-1.6zM52.9 68.7h1.4v1.4h-1.4zM59.0 68.9h1.4v1.4h-1.4zM45.3 73.0h1.4v1.4h-1.4zM33.2 74.9h1.4v1.4h-1.4zM55.4 68.0h1.4v1.4h-1.4zM35.5 71.4h1.4v1.4h-1.4zM55.8 73.9h1.4v1.4h-1.4zM50.1 70.2h1.4v1.4h-1.4zM69.9 68.6h1.4v1.4h-1.4zM72.7 76.0h1.4v1.4h-1.4zM73.0 76.6h1.4v1.4h-1.4zM44.3 75.1h1.4v1.4h-1.4zM60.0 67.7h1.4v1.4h-1.4zM73.2 73.1h1.4v1.4h-1.4zM67.1 72.0h1.4v1.4h-1.4zM32.7 75.7h1.4v1.4h-1.4zM39.6 68.4h1.4v1.4h-1.4zM60.2 67.6h1.4v1.4h-1.4zM54.0 73.9h1.4v1.4h-1.4zM34.0 73.2h1.4v1.4h-1.4zM34.7 71.0h1.4v1.4h-1.4zM61.4 73.5h1.4v1.4h-1.4zM29.2 67.6h1.4v1.4h-1.4zM72.0 70.0h1.4v1.4h-1.4zM52.4 69.8h1.4v1.4h-1.4zM63.1 74.2h1.4v1.4h-1.4zM61.5 70.1h1.4v1.4h-1.4zM58.4 71.5h1.4v1.4h-1.4zM40.4 76.7h1.4v1.4h-1.4zM72.2 74.6h1.4v1.4h-1.4zM72.5 124.8h1.4v1.4h-1.4zM78.4 133.3h1.4v1.4h-1.4zM45.5 125.7h1.4v1.4h-1.4zM61.0 129.2h1.4v1.4h-1.4zM54.2 130.2h1.4v1.4h-1.4zM77.8 130.2h1.4v1.4h-1.4zM73.8 135.6h1.4v1.4h-1.4zM55.2 135.4h1.4v1.4h-1.4zM55.7 124.8h1.4v1.4h-1.4zM60.5 128.5h1.4v1.4h-1.4zM56.0 125.9h1.4v1.4h-1.4zM38.1 132.9h1.4v1.4h-1.4zM62.9 130.2h1.4v1.4h-1.4zM29.8 129.3h1.4v1.4h-1.4zM57.9 136.6h1.4v1.4h-1.4zM26.5 132.4h1.4v1.4h-1.4zM70.6 129.6h1.4v1.4h-1.4zM46.9 144.1h1.4v1.4h-1.4zM36.0 126.1h1.4v1.4h-1.4zM70.9 128.7h1.4v1.4h-1.4zM54.8 124.1h1.4v1.4h-1.4zM40.9 134.8h1.4v1.4h-1.4zM43.3 128.6h1.4v1.4h-1.4zM40.6 126.1h1.4v1.4h-1.4zM36.9 131.3h1.4v1.4h-1.4zM60.6 127.7h1.4v1.4h-1.4zM58.4 127.9h1.4v1.4h-1.4zM54.4 134.1h1.4v1.4h-1.4zM72.8 127.3h1.4v1.4h-1.4zM25.9 128.4h1.4v1.4h-1.4zM75.3 129.5h1.4v1.4h-1.4zM72.3 129.1h1.4v1.4h-1.4zM59.0 140.4h1.4v1.4h-1.4zM47.0 131.0h1.4v1.4h-1.4zM44.1 142.2h1.4v1.4h-1.4zM54.3 134.2h1.4v1.4h-1.4zM48.7 131.6h1.4v1.4h-1.4zM76.0 124.1h1.4v1.4h-1.4zM51.7 128.1h1.4v1.4h-1.4zM76.5 141.2h1.4v1.4h-1.4zM67.2 130.4h1.4v1.4h-1.4zM76.7 123.0h1.4v1.4h-1.4zM70.5 122.9h1.4v1.4h-1.4zM63.2 125.8h1.4v1.4h-1.4zM65.2 128.1h1.4v1.4h-1.4zM53.6 128.8h1.4v1.4h-1.4zM42.6 126.8h1.4v1.4h-1.4zM53.7 126.0h1.4v1.4h-1.4zM26.0 125.3h1.4v1.4h-1.4zM44.1 131.8h1.4v1.4h-1.4zM42.5 127.7h1.4v1.4h-1.4zM66.4 133.9h1.4v1.4h-1.4zM52.3 125.4h1.4v1.4h-1.4zM70.8 134.3h1.4v1.4h-1.4zM67.0 123.0h1.4v1.4h-1.4zM79.3 138.0h1.4v1.4h-1.4zM68.6 130.7h1.4v1.4h-1.4zM70.0 160.3h1.4v1.4h-1.4zM78.4 151.5h1.4v1.4h-1.4zM77.0 131.5h1.4v1.4h-1.4zM75.0 149.0h1.4v1.4h-1.4zM74.0 144.5h1.4v1.4h-1.4zM73.1 162.0h1.4v1.4h-1.4zM67.6 148.5h1.4v1.4h-1.4zM71.9 137.9h1.4v1.4h-1.4zM76.6 156.8h1.4v1.4h-1.4zM68.0 156.2h1.4v1.4h-1.4zM77.3 151.5h1.4v1.4h-1.4zM73.8 151.5h1.4v1.4h-1.4zM74.8 158.8h1.4v1.4h-1.4zM64.7 135.2h1.4v1.4h-1.4zM80.0 130.5h1.4v1.4h-1.4zM74.5 161.8h1.4v1.4h-1.4zM72.2 147.6h1.4v1.4h-1.4zM81.1 159.3h1.4v1.4h-1.4zM76.7 134.2h1.4v1.4h-1.4zM75.7 152.3h1.4v1.4h-1.4zM71.8 146.7h1.4v1.4h-1.4zM66.3 150.6h1.4v1.4h-1.4zM76.7 137.0h1.4v1.4h-1.4zM72.0 154.2h1.4v1.4h-1.4zM76.4 127.8h1.4v1.4h-1.4zM76.0 151.0h1.4v1.4h-1.4zM67.1 151.7h1.4v1.4h-1.4zM80.6 157.7h1.4v1.4h-1.4zM79.3 125.9h1.4v1.4h-1.4zM80.9 143.8h1.4v1.4h-1.4zM73.7 128.0h1.4v1.4h-1.4zM76.8 137.4h1.4v1.4h-1.4zM79.2 137.7h1.4v1.4h-1.4zM69.0 125.5h1.4v1.4h-1.4zM70.7 132.1h1.4v1.4h-1.4zM74.1 161.2h1.4v1.4h-1.4zM75.6 136.3h1.4v1.4h-1.4zM70.4 140.1h1.4v1.4h-1.4zM80.0 162.9h1.4v1.4h-1.4zM68.2 144.1h1.4v1.4h-1.4zM72.0 137.9h1.4v1.4h-1.4zM69.7 124.9h1.4v1.4h-1.4zM64.5 147.7h1.4v1.4h-1.4zM81.0 140.1h1.4v1.4h-1.4zM70.6 152.3h1.4v1.4h-1.4zM75.7 132.1h1.4v1.4h-1.4zM72.8 158.0h1.4v1.4h-1.4zM79.3 155.0h1.4v1.4h-1.4zM72.5 145.5h1.4v1.4h-1.4zM77.5 154.4h1.4v1.4h-1.4zM75.8 149.6h1.4v1.4h-1.4zM74.3 140.0h1.4v1.4h-1.4zM81.2 154.7h1.4v1.4h-1.4zM34.8 154.2h1.4v1.4h-1.4zM70.3 130.8h1.4v1.4h-1.4zM63.0 135.6h1.4v1.4h-1.4zM35.7 138.0h1.4v1.4h-1.4zM66.0 149.2h1.4v1.4h-1.4zM42.3 150.9h1.4v1.4h-1.4zM68.0 132.0h1.4v1.4h-1.4zM71.2 144.6h1.4v1.4h-1.4zM57.4 157.9h1.4v1.4h-1.4zM32.1 142.5h1.4v1.4h-1.4zM61.9 124.9h1.4v1.4h-1.4zM42.8 145.4h1.4v1.4h-1.4z" fill="#222"/>
<rect x="17.5" y="26.5" width="230.0" height="138.0" fill="none" stroke="#000" stroke-width="1.4"/>
<line x1="82.5" y1="26.5" x2="82.5" y2="164.5" stroke="#111" stroke-width="1.2"/>
<line x1="17.5" y1="122.5" x2="247.5" y2="122.5" stroke="#111" stroke-width="1.3"/>
<path d="M14.5 164.5H17.5M17.5 164.5V167.5M15.5 154.1H17.5M34.8 164.5V166.5M15.5 148.0H17.5M44.9 164.5V166.5M15.5 143.7H17.5M52.1 164.5V166.5M15.5 140.4H17.5M57.7 164.5V166.5M15.5 137.7H17.5M62.2 164.5V166.5M15.5 135.3H17.5M66.1 164.5V166.5M15.5 133.3H17.5M69.4 164.5V166.5M15.5 131.6H17.5M72.4 164.5V166.5M14.5 130.0H17.5M75.0 164.5V167.5M15.5 119.6H17.5M92.3 164.5V166.5M15.5 113.5H17.5M102.4 164.5V166.5M15.5 109.2H17.5M109.6 164.5V166.5M15.5 105.9H17.5M115.2 164.5V166.5M15.5 103.2H17.5M119.7 164.5V166.5M15.5 100.8H17.5M123.6 164.5V166.5M15.5 98.8H17.5M126.9 164.5V166.5M15.5 97.1H17.5M129.9 164.5V166.5M14.5 95.5H17.5M132.5 164.5V167.5M15.5 85.1H17.5M149.8 164.5V166.5M15.5 79.0H17.5M159.9 164.5V166.5M15.5 74.7H17.5M167.1 164.5V166.5M15.5 71.4H17.5M172.7 164.5V166.5M15.5 68.7H17.5M177.2 164.5V166.5M15.5 66.3H17.5M181.1 164.5V166.5M15.5 64.3H17.5M184.4 164.5V166.5M15.5 62.6H17.5M187.4 164.5V166.5M14.5 61.0H17.5M190.0 164.5V167.5M15.5 50.6H17.5M207.3 164.5V166.5M15.5 44.5H17.5M217.4 164.5V166.5M15.5 40.2H17.5M224.6 164.5V166.5M15.5 36.9H17.5M230.2 164.5V166.5M15.5 34.2H17.5M234.7 164.5V166.5M15.5 31.8H17.5M238.6 164.5V166.5M15.5 29.8H17.5M241.9 164.5V166.5M15.5 28.1H17.5M244.9 164.5V166.5" stroke="#000" stroke-width="1"/>
<text transform="translate(13,168.7) rotate(-90)" style="font-family:'Liberation Sans',sans-serif;stroke-width:0.5px;font-size:6.4px" textLength="6.2" lengthAdjust="spacingAndGlyphs">10</text>
<text transform="translate(9.6,163.2) rotate(-90)" style="font-family:'Liberation Sans',sans-serif;stroke-width:0.5px;font-size:4.6px">0</text>
<text x="13.4" y="175.3" style="font-family:'Liberation Sans',sans-serif;stroke-width:0.5px;font-size:6.4px" textLength="5.5" lengthAdjust="spacingAndGlyphs">10</text>
<text x="19.0" y="171.2" style="font-family:'Liberation Sans',sans-serif;stroke-width:0.5px;font-size:4.8px">0</text>
<text transform="translate(13,134.2) rotate(-90)" style="font-family:'Liberation Sans',sans-serif;stroke-width:0.5px;font-size:6.4px" textLength="6.2" lengthAdjust="spacingAndGlyphs">10</text>
<text transform="translate(9.6,128.7) rotate(-90)" style="font-family:'Liberation Sans',sans-serif;stroke-width:0.5px;font-size:4.6px">1</text>
<text x="70.9" y="175.3" style="font-family:'Liberation Sans',sans-serif;stroke-width:0.5px;font-size:6.4px" textLength="5.5" lengthAdjust="spacingAndGlyphs">10</text>
<text x="76.5" y="171.2" style="font-family:'Liberation Sans',sans-serif;stroke-width:0.5px;font-size:4.8px">1</text>
<text transform="translate(13,99.7) rotate(-90)" style="font-family:'Liberation Sans',sans-serif;stroke-width:0.5px;font-size:6.4px" textLength="6.2" lengthAdjust="spacingAndGlyphs">10</text>
<text transform="translate(9.6,94.2) rotate(-90)" style="font-family:'Liberation Sans',sans-serif;stroke-width:0.5px;font-size:4.6px">2</text>
<text x="128.4" y="175.3" style="font-family:'Liberation Sans',sans-serif;stroke-width:0.5px;font-size:6.4px" textLength="5.5" lengthAdjust="spacingAndGlyphs">10</text>
<text x="134.0" y="171.2" style="font-family:'Liberation Sans',sans-serif;stroke-width:0.5px;font-size:4.8px">2</text>
<text transform="translate(13,65.2) rotate(-90)" style="font-family:'Liberation Sans',sans-serif;stroke-width:0.5px;font-size:6.4px" textLength="6.2" lengthAdjust="spacingAndGlyphs">10</text>
<text transform="translate(9.6,59.7) rotate(-90)" style="font-family:'Liberation Sans',sans-serif;stroke-width:0.5px;font-size:4.6px">3</text>
<text x="185.9" y="175.3" style="font-family:'Liberation Sans',sans-serif;stroke-width:0.5px;font-size:6.4px" textLength="5.5" lengthAdjust="spacingAndGlyphs">10</text>
<text x="191.5" y="171.2" style="font-family:'Liberation Sans',sans-serif;stroke-width:0.5px;font-size:4.8px">3</text>
<text transform="translate(13,30.7) rotate(-90)" style="font-family:'Liberation Sans',sans-serif;stroke-width:0.5px;font-size:6.4px" textLength="6.2" lengthAdjust="spacingAndGlyphs">10</text>
<text transform="translate(9.6,25.2) rotate(-90)" style="font-family:'Liberation Sans',sans-serif;stroke-width:0.5px;font-size:4.6px">4</text>
<text x="243.4" y="175.3" style="font-family:'Liberation Sans',sans-serif;stroke-width:0.5px;font-size:6.4px" textLength="5.5" lengthAdjust="spacingAndGlyphs">10</text>
<text x="249.0" y="171.2" style="font-family:'Liberation Sans',sans-serif;stroke-width:0.5px;font-size:4.8px">4</text>
<text transform="translate(5.6,109) rotate(-90)" style="font-family:'Liberation Sans',sans-serif;stroke-width:0.5px;font-size:6.6px;font-weight:bold;stroke-width:0.15px" textLength="26.2" lengthAdjust="spacingAndGlyphs">H2Kd PE</text>
<text x="119.7" y="181.8" style="font-family:'Liberation Sans',sans-serif;stroke-width:0.5px;font-size:6.6px;font-weight:bold;stroke-width:0.15px" textLength="25.8" lengthAdjust="spacingAndGlyphs">H2Kb FITC</text>
<text x="0.4" y="13.8" style="font-family:'Liberation Sans',sans-serif;font-size:19px;font-weight:bold" fill="#000">A</text>
<path d="M289.5 26.6H517.5V161.6" fill="none" stroke="#555" stroke-width="1.2"/>
<path d="M289.5 26.3V161.6H517.5" fill="none" stroke="#333" stroke-width="1"/>
<path d="M286.0 161.6H289.5M286.0 134.5H289.5M286.0 107.5H289.5M286.0 80.4H289.5M286.0 53.4H289.5M286.0 26.3H289.5M289.5 161.6V164.1M302.9 161.6V164.1M316.3 161.6V164.1M329.7 161.6V164.1M343.1 161.6V164.1M356.6 161.6V164.1M370.0 161.6V164.1M383.4 161.6V164.1M396.8 161.6V164.1M410.2 161.6V164.1M423.6 161.6V164.1M437.0 161.6V164.1M450.4 161.6V164.1M463.9 161.6V164.1M477.3 161.6V164.1M490.7 161.6V164.1M504.1 161.6V164.1M517.5 161.6V164.1" stroke="#333" stroke-width="1"/>
<path d="M296.5 57.4V146.9M294.8 57.4h3.4M294.8 146.9h3.4M310.5 37.7V141.3M308.8 37.7h3.4M308.8 141.3h3.4M323.5 39.2V144.3M321.8 39.2h3.4M321.8 144.3h3.4M336.5 41.9V140.5M334.8 41.9h3.4M334.8 140.5h3.4M350.5 48.4V137.7M348.8 48.4h3.4M348.8 137.7h3.4M363.5 38.1V139.4M361.8 38.1h3.4M361.8 139.4h3.4M377.5 40.5V144.7M375.8 40.5h3.4M375.8 144.7h3.4M390.5 55.8V142.3M388.8 55.8h3.4M388.8 142.3h3.4M404.5 57.6V140.2M402.8 57.6h3.4M402.8 140.2h3.4M417.5 63.6V143.9M415.8 63.6h3.4M415.8 143.9h3.4M430.5 78.0V145.9M428.8 78.0h3.4M428.8 145.9h3.4M444.5 85.6V142.0M442.8 85.6h3.4M442.8 142.0h3.4M457.5 92.5V146.0M455.8 92.5h3.4M455.8 146.0h3.4M471.5 104.6V140.2M469.8 104.6h3.4M469.8 140.2h3.4M484.5 108.3V149.4M482.8 108.3h3.4M482.8 149.4h3.4M497.5 101.7V139.8M495.8 101.7h3.4M495.8 139.8h3.4M511.5 108.0V150.8M509.8 108.0h3.4M509.8 150.8h3.4" stroke="#666" stroke-width="1" fill="none"/>
<path d="M296.7 102.7 L310.1 90.2 L323.5 92.5 L336.9 91.5 L350.4 93.3 L363.8 89.1 L377.2 92.5 L390.6 99.2 L404.0 99.2 L417.4 103.7 L430.8 111.9 L444.2 114.4 L457.6 119.8 L471.1 122.6 L484.5 129.1 L497.9 121.3 L511.3 129.5" stroke="#111" stroke-width="1" fill="none"/>
<path d="M296.7 99.9L299.7 102.7L296.7 105.5L293.7 102.7ZM310.1 87.4L313.1 90.2L310.1 93.0L307.1 90.2ZM323.5 89.7L326.5 92.5L323.5 95.3L320.5 92.5ZM336.9 88.7L339.9 91.5L336.9 94.3L333.9 91.5ZM350.4 90.5L353.4 93.3L350.4 96.1L347.4 93.3ZM363.8 86.3L366.8 89.1L363.8 91.9L360.8 89.1ZM377.2 89.7L380.2 92.5L377.2 95.3L374.2 92.5ZM390.6 96.4L393.6 99.2L390.6 102.0L387.6 99.2ZM404.0 96.4L407.0 99.2L404.0 102.0L401.0 99.2ZM417.4 100.9L420.4 103.7L417.4 106.5L414.4 103.7ZM430.8 109.1L433.8 111.9L430.8 114.7L427.8 111.9ZM444.2 111.6L447.2 114.4L444.2 117.2L441.2 114.4ZM457.6 117.0L460.6 119.8L457.6 122.6L454.6 119.8ZM471.1 119.8L474.1 122.6L471.1 125.4L468.1 122.6ZM484.5 126.3L487.5 129.1L484.5 131.9L481.5 129.1ZM497.9 118.5L500.9 121.3L497.9 124.1L494.9 121.3ZM511.3 126.7L514.3 129.5L511.3 132.3L508.3 129.5Z" fill="#000"/>
<text x="287.6" y="167.9" text-anchor="end" style="font-family:'Liberation Sans',sans-serif;font-size:12.3px;font-weight:bold">0</text>
<text x="287.6" y="140.7" text-anchor="end" style="font-family:'Liberation Sans',sans-serif;font-size:12.3px;font-weight:bold">2</text>
<text x="287.6" y="113.5" text-anchor="end" style="font-family:'Liberation Sans',sans-serif;font-size:12.3px;font-weight:bold">4</text>
<text x="287.6" y="86.2" text-anchor="end" style="font-family:'Liberation Sans',sans-serif;font-size:12.3px;font-weight:bold">6</text>
<text x="287.6" y="59.0" text-anchor="end" style="font-family:'Liberation Sans',sans-serif;font-size:12.3px;font-weight:bold">8</text>
<text x="287.6" y="31.8" text-anchor="end" style="font-family:'Liberation Sans',sans-serif;font-size:12.3px;font-weight:bold">10</text>
<text x="297.4" y="175.3" text-anchor="middle" style="font-family:'Liberation Sans',sans-serif;font-size:12.8px;font-weight:bold">4</text>
<text x="324.2" y="175.3" text-anchor="middle" style="font-family:'Liberation Sans',sans-serif;font-size:12.8px;font-weight:bold">6</text>
<text x="351.1" y="175.3" text-anchor="middle" style="font-family:'Liberation Sans',sans-serif;font-size:12.8px;font-weight:bold">8</text>
<text x="377.2" y="175.3" text-anchor="middle" style="font-family:'Liberation Sans',sans-serif;font-size:12.8px;font-weight:bold">10</text>
<text x="404.0" y="175.3" text-anchor="middle" style="font-family:'Liberation Sans',sans-serif;font-size:12.8px;font-weight:bold">12</text>
<text x="430.8" y="175.3" text-anchor="middle" style="font-family:'Liberation Sans',sans-serif;font-size:12.8px;font-weight:bold">16</text>
<text x="457.6" y="175.3" text-anchor="middle" style="font-family:'Liberation Sans',sans-serif;font-size:12.8px;font-weight:bold">20</text>
<text x="484.5" y="175.3" text-anchor="middle" style="font-family:'Liberation Sans',sans-serif;font-size:12.8px;font-weight:bold">28</text>
<text x="512.8" y="175.3" text-anchor="middle" style="font-family:'Liberation Sans',sans-serif;font-size:12.8px;font-weight:bold">32</text>
<text transform="translate(272.1,168.5) rotate(-90)" style="font-family:'Liberation Sans',sans-serif;font-size:15.2px;font-weight:bold">% donor chimerism</text>
<text x="261" y="15" style="font-family:'Liberation Sans',sans-serif;font-size:19px;font-weight:bold">B</text>
<defs><pattern id="chk0" width="4.75" height="4.7" patternUnits="userSpaceOnUse" x="142.01" y="402.12"><rect width="4.75" height="4.7" fill="#000"/><rect x="0.087" y="0.075" width="2.2" height="2.2" fill="#fff"/><rect x="2.462" y="2.425" width="2.2" height="2.2" fill="#fff"/></pattern><pattern id="chk1" width="4.75" height="4.7" patternUnits="userSpaceOnUse" x="220.91" y="402.12"><rect width="4.75" height="4.7" fill="#000"/><rect x="0.087" y="0.075" width="2.2" height="2.2" fill="#fff"/><rect x="2.462" y="2.425" width="2.2" height="2.2" fill="#fff"/></pattern><pattern id="chk2" width="4.75" height="4.7" patternUnits="userSpaceOnUse" x="299.81" y="402.12"><rect width="4.75" height="4.7" fill="#000"/><rect x="0.087" y="0.075" width="2.2" height="2.2" fill="#fff"/><rect x="2.462" y="2.425" width="2.2" height="2.2" fill="#fff"/></pattern></defs>
<rect x="98.80" y="399.59" width="14.50" height="6.61" fill="#000" stroke="#000" stroke-width="1"/>
<path d="M106.05 399.59V398.23M103.75 398.23h4.6" stroke="#222" stroke-width="1.1"/>
<rect x="113.30" y="348.16" width="14.40" height="58.04" fill="#b3b3b3" stroke="#000" stroke-width="1"/>
<path d="M120.50 348.16V328.51M118.20 328.51h4.6" stroke="#222" stroke-width="1.1"/>
<rect x="127.70" y="400.77" width="13.50" height="5.43" fill="#fff" stroke="#000" stroke-width="1"/>
<path d="M134.45 400.77V399.14M132.15 399.14h4.6" stroke="#222" stroke-width="1.1"/>
<rect x="141.20" y="394.43" width="15.30" height="11.77" fill="url(#chk0)" stroke="#000" stroke-width="1"/>
<path d="M148.85 394.43V375.23M146.55 375.23h4.6" stroke="#222" stroke-width="1.1"/>
<text x="127.4" y="429.5" text-anchor="middle" style="font-family:'Liberation Sans',sans-serif;font-size:13px;font-weight:bold">BALB</text>
<rect x="177.00" y="383.11" width="14.90" height="23.09" fill="#000" stroke="#000" stroke-width="1"/>
<path d="M184.45 383.11V375.50M182.15 375.50h4.6" stroke="#222" stroke-width="1.1"/>
<rect x="191.90" y="398.05" width="14.30" height="8.15" fill="#b3b3b3" stroke="#000" stroke-width="1"/>
<path d="M199.05 398.05V394.61M196.75 394.61h4.6" stroke="#222" stroke-width="1.1"/>
<rect x="206.20" y="397.51" width="13.90" height="8.69" fill="#fff" stroke="#000" stroke-width="1"/>
<path d="M213.15 397.51V392.53M210.85 392.53h4.6" stroke="#222" stroke-width="1.1"/>
<rect x="220.10" y="397.24" width="15.60" height="8.96" fill="url(#chk1)" stroke="#000" stroke-width="1"/>
<path d="M227.90 397.24V394.43M225.60 394.43h4.6" stroke="#222" stroke-width="1.1"/>
<text x="206.3" y="429.5" text-anchor="middle" style="font-family:'Liberation Sans',sans-serif;font-size:13px;font-weight:bold">B6</text>
<rect x="256.20" y="291.47" width="14.80" height="114.73" fill="#000" stroke="#000" stroke-width="1"/>
<path d="M263.60 291.47V232.34M261.30 232.34h4.6" stroke="#222" stroke-width="1.1"/>
<rect x="271.00" y="356.67" width="14.10" height="49.53" fill="#b3b3b3" stroke="#000" stroke-width="1"/>
<path d="M278.05 356.67V328.60M275.75 328.60h4.6" stroke="#222" stroke-width="1.1"/>
<rect x="285.10" y="343.27" width="13.90" height="62.93" fill="#fff" stroke="#000" stroke-width="1"/>
<path d="M292.05 343.27V311.21M289.75 311.21h4.6" stroke="#222" stroke-width="1.1"/>
<rect x="299.00" y="308.50" width="15.20" height="97.70" fill="url(#chk2)" stroke="#000" stroke-width="1"/>
<path d="M306.60 308.50V280.15M304.30 280.15h4.6" stroke="#222" stroke-width="1.1"/>
<text x="285.2" y="429.5" text-anchor="middle" style="font-family:'Liberation Sans',sans-serif;font-size:13px;font-weight:bold">CBA</text>
<path d="M87.6 216.3V411M87.6 406.2H324.6" stroke="#000" stroke-width="1.4" fill="none"/>
<path d="M83.5 406.2H88.0M83.5 360.9H88.0M83.5 315.6H88.0M83.5 270.4H88.0M83.5 225.1H88.0M166.9 406.2V411M245.7 406.2V411M324.6 406.2V411" stroke="#000" stroke-width="1.2"/>
<text x="78.4" y="411.1" text-anchor="end" style="font-family:'Liberation Sans',sans-serif;font-size:13.3px;font-weight:bold">0</text>
<text x="78.4" y="365.8" text-anchor="end" style="font-family:'Liberation Sans',sans-serif;font-size:13.3px;font-weight:bold">5</text>
<text x="78.4" y="320.5" text-anchor="end" style="font-family:'Liberation Sans',sans-serif;font-size:13.3px;font-weight:bold">10</text>
<text x="78.4" y="275.3" text-anchor="end" style="font-family:'Liberation Sans',sans-serif;font-size:13.3px;font-weight:bold">15</text>
<text x="78.4" y="230.0" text-anchor="end" style="font-family:'Liberation Sans',sans-serif;font-size:13.3px;font-weight:bold">20</text>
<text transform="translate(53.3,400.9) rotate(-90)" style="font-family:'Liberation Sans',sans-serif;font-size:17.2px;font-weight:bold">Stimulation Index (SI)</text>
<text x="0.3" y="215.3" style="font-family:'Liberation Sans',sans-serif;font-size:18.5px;font-weight:bold">C</text>
<text x="133.4" y="368.3" text-anchor="middle" style="font-family:'Liberation Sans',sans-serif;font-size:11px;font-weight:bold">*</text>
<text x="146.3" y="367.3" text-anchor="middle" style="font-family:'Liberation Sans',sans-serif;font-size:11px;font-weight:bold">*</text>
<text x="211.5" y="385.5" text-anchor="middle" style="font-family:'Liberation Sans',sans-serif;font-size:11px;font-weight:bold">#</text>
<text x="225.6" y="385.5" text-anchor="middle" style="font-family:'Liberation Sans',sans-serif;font-size:11px;font-weight:bold">#</text>
<rect x="327.5" y="213.5" width="187" height="198.5" fill="none" stroke="#333" stroke-width="1"/>
<rect x="336.7" y="223.6" width="10.8" height="10.7" fill="#000" stroke="#666" stroke-width="1"/>
<text x="355" y="233.1" style="font-family:'Liberation Sans',sans-serif;font-size:14.5px;font-weight:bold">Naive Balb (n = 8)</text>
<text x="363.6" y="251.0" style="font-family:'Liberation Sans',sans-serif;font-size:14.5px;font-weight:bold">B. CPM&#160; = 773 <tspan text-decoration='underline'>+</tspan> 247</text>
<rect x="336.7" y="276.1" width="10.8" height="10.5" fill="#c4c4c4" stroke="#666" stroke-width="1"/>
<text x="355" y="285.6" style="font-family:'Liberation Sans',sans-serif;font-size:14.5px;font-weight:bold">Naive B6&#160;&#160;&#160; (n = 6)</text>
<text x="363.6" y="303.5" style="font-family:'Liberation Sans',sans-serif;font-size:14.5px;font-weight:bold">B. CPM&#160; = 634 <tspan text-decoration='underline'>+</tspan> 185</text>
<rect x="336.7" y="326.5" width="10.8" height="9.9" fill="#fff" stroke="#666" stroke-width="1"/>
<text x="355" y="338.7" style="font-family:'Liberation Sans',sans-serif;font-size:14.5px;font-weight:bold">Chimeric&#160; &lt; 10% (n = 6)</text>
<text x="363.6" y="356.2" style="font-family:'Liberation Sans',sans-serif;font-size:14.5px;font-weight:bold">B. CPM = 691 <tspan text-decoration='underline'>+</tspan> 351</text>
<rect x="336.7" y="378.9" width="11.25" height="11.25" fill="#fff"/>
<path d="M336.70 378.90h2.25v2.25h-2.25zM336.70 383.40h2.25v2.25h-2.25zM336.70 387.90h2.25v2.25h-2.25zM338.95 381.15h2.25v2.25h-2.25zM338.95 385.65h2.25v2.25h-2.25zM341.20 378.90h2.25v2.25h-2.25zM341.20 383.40h2.25v2.25h-2.25zM341.20 387.90h2.25v2.25h-2.25zM343.45 381.15h2.25v2.25h-2.25zM343.45 385.65h2.25v2.25h-2.25zM345.70 378.90h2.25v2.25h-2.25zM345.70 383.40h2.25v2.25h-2.25zM345.70 387.90h2.25v2.25h-2.25z" fill="#000"/>
<text x="355" y="391.5" style="font-family:'Liberation Sans',sans-serif;font-size:14.5px;font-weight:bold">Chimeric&#160; &gt; 10% (n = 6)</text>
<text x="363.6" y="408.9" style="font-family:'Liberation Sans',sans-serif;font-size:14.5px;font-weight:bold">B. CPM = 593 <tspan text-decoration='underline'>+</tspan> 444</text>
</svg>
</body></html>
